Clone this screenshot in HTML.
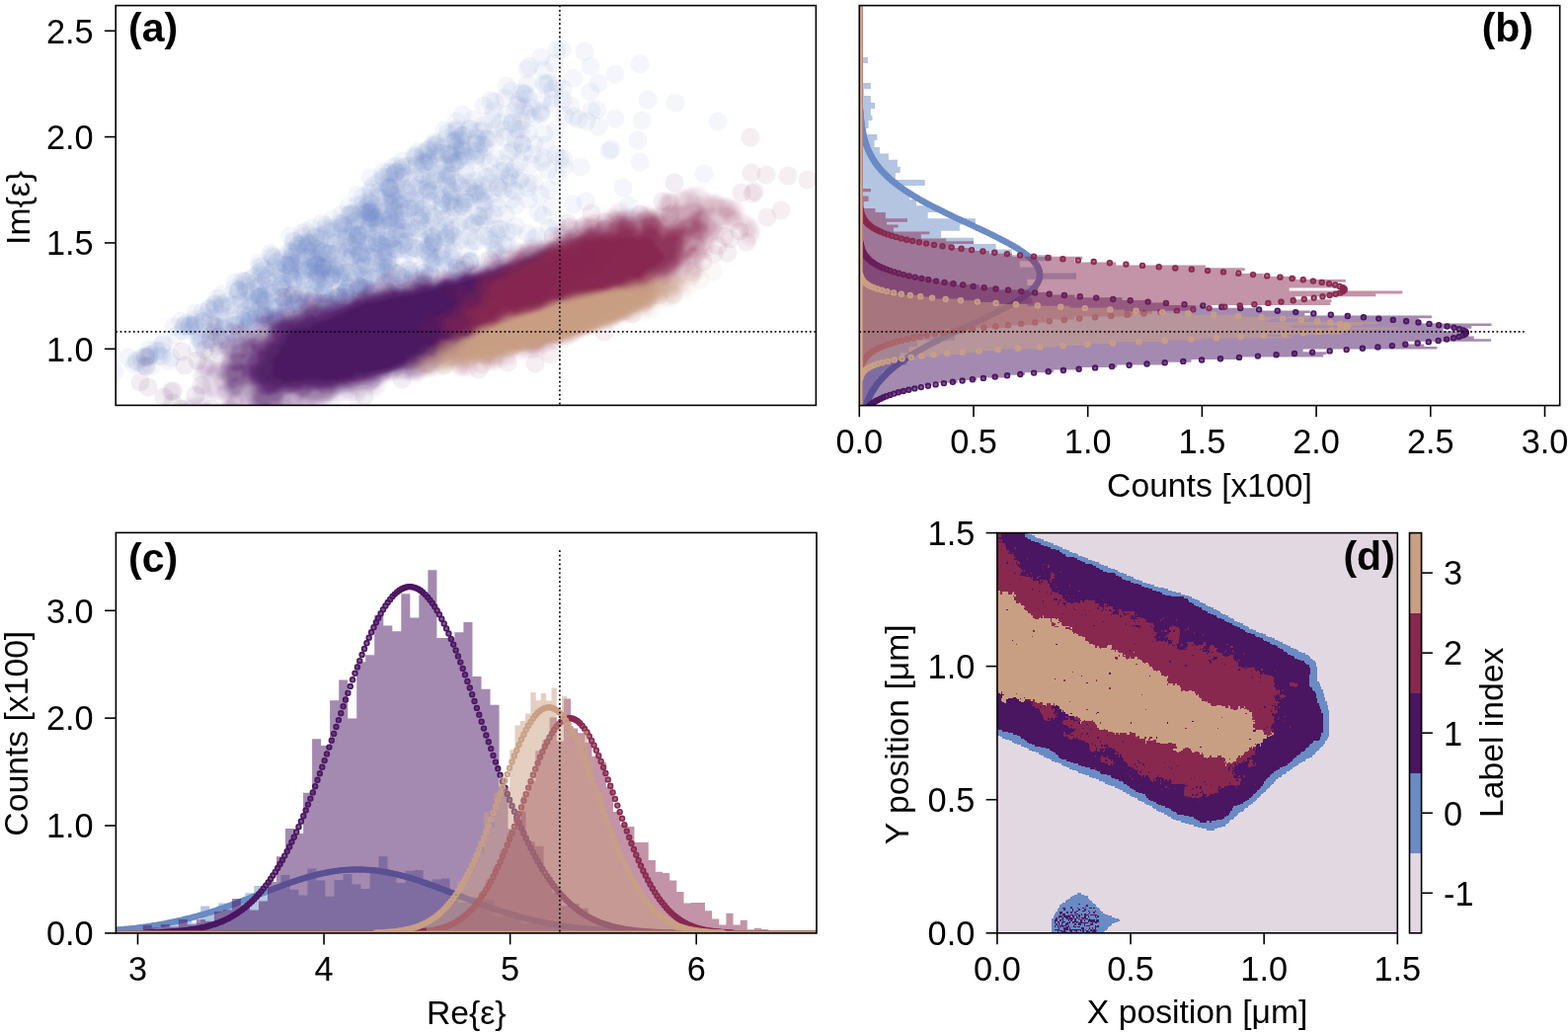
<!DOCTYPE html>
<html><head><meta charset="utf-8"><title>Figure</title>
<style>
html,body{margin:0;padding:0;background:#fff}
svg{display:block}
text{font-family:"Liberation Sans",Arial,Helvetica,sans-serif;fill:#000}
.t{font-size:34.3px}
.l{font-size:33.7px}
.p{font-size:41px;font-weight:bold}
</style></head><body>
<svg width="1588" height="1046" viewBox="0 0 1588 1046">
<rect width="1588" height="1046" fill="#fff"/>
<clipPath id="cpa"><rect x="117.2" y="5.6" width="709.20" height="404.80"/></clipPath>
<filter id="bl" x="-5%" y="-5%" width="110%" height="110%"><feGaussianBlur stdDeviation="1.6"/></filter>
<g clip-path="url(#cpa)">
<g fill="#6a8bc4" fill-opacity="0.075"><circle cx="592" cy="52" r="9.6"/><circle cx="110" cy="380" r="9.6"/><circle cx="422" cy="167" r="9.6"/><circle cx="318" cy="251" r="9.6"/><circle cx="330" cy="231" r="9.6"/><circle cx="355" cy="302" r="9.6"/><circle cx="166" cy="348" r="9.6"/><circle cx="354" cy="227" r="9.6"/><circle cx="287" cy="301" r="9.6"/><circle cx="727" cy="123" r="9.6"/><circle cx="402" cy="223" r="9.6"/><circle cx="341" cy="246" r="9.6"/><circle cx="348" cy="286" r="9.6"/><circle cx="308" cy="295" r="9.6"/><circle cx="267" cy="322" r="9.6"/><circle cx="337" cy="222" r="9.6"/><circle cx="429" cy="178" r="9.6"/><circle cx="353" cy="209" r="9.6"/><circle cx="479" cy="153" r="9.6"/><circle cx="357" cy="238" r="9.6"/><circle cx="381" cy="234" r="9.6"/><circle cx="540" cy="242" r="9.6"/><circle cx="435" cy="257" r="9.6"/><circle cx="325" cy="242" r="9.6"/><circle cx="359" cy="224" r="9.6"/><circle cx="435" cy="249" r="9.6"/><circle cx="581" cy="118" r="9.6"/><circle cx="350" cy="276" r="9.6"/><circle cx="352" cy="292" r="9.6"/><circle cx="483" cy="145" r="9.6"/><circle cx="285" cy="288" r="9.6"/><circle cx="347" cy="226" r="9.6"/><circle cx="471" cy="202" r="9.6"/><circle cx="439" cy="192" r="9.6"/><circle cx="388" cy="265" r="9.6"/><circle cx="448" cy="206" r="9.6"/><circle cx="485" cy="219" r="9.6"/><circle cx="277" cy="262" r="9.6"/><circle cx="203" cy="340" r="9.6"/><circle cx="407" cy="169" r="9.6"/><circle cx="452" cy="247" r="9.6"/><circle cx="331" cy="234" r="9.6"/><circle cx="265" cy="318" r="9.6"/><circle cx="381" cy="261" r="9.6"/><circle cx="372" cy="214" r="9.6"/><circle cx="526" cy="164" r="9.6"/><circle cx="456" cy="198" r="9.6"/><circle cx="398" cy="169" r="9.6"/><circle cx="495" cy="239" r="9.6"/><circle cx="356" cy="235" r="9.6"/><circle cx="281" cy="311" r="9.6"/><circle cx="439" cy="220" r="9.6"/><circle cx="439" cy="241" r="9.6"/><circle cx="355" cy="286" r="9.6"/><circle cx="296" cy="270" r="9.6"/><circle cx="402" cy="202" r="9.6"/><circle cx="116" cy="376" r="9.6"/><circle cx="450" cy="167" r="9.6"/><circle cx="430" cy="276" r="9.6"/><circle cx="206" cy="325" r="9.6"/><circle cx="384" cy="184" r="9.6"/><circle cx="277" cy="260" r="9.6"/><circle cx="458" cy="245" r="9.6"/><circle cx="164" cy="349" r="9.6"/><circle cx="282" cy="294" r="9.6"/><circle cx="453" cy="173" r="9.6"/><circle cx="499" cy="196" r="9.6"/><circle cx="151" cy="354" r="9.6"/><circle cx="326" cy="271" r="9.6"/><circle cx="412" cy="168" r="9.6"/><circle cx="314" cy="270" r="9.6"/><circle cx="545" cy="215" r="9.6"/><circle cx="253" cy="295" r="9.6"/><circle cx="415" cy="273" r="9.6"/><circle cx="268" cy="317" r="9.6"/><circle cx="526" cy="101" r="9.6"/><circle cx="376" cy="215" r="9.6"/><circle cx="339" cy="300" r="9.6"/><circle cx="198" cy="317" r="9.6"/><circle cx="555" cy="84" r="9.6"/><circle cx="457" cy="236" r="9.6"/><circle cx="457" cy="159" r="9.6"/><circle cx="497" cy="102" r="9.6"/><circle cx="415" cy="168" r="9.6"/><circle cx="311" cy="323" r="9.6"/><circle cx="294" cy="239" r="9.6"/><circle cx="294" cy="265" r="9.6"/><circle cx="522" cy="254" r="9.6"/><circle cx="225" cy="298" r="9.6"/><circle cx="315" cy="305" r="9.6"/><circle cx="344" cy="278" r="9.6"/><circle cx="402" cy="183" r="9.6"/><circle cx="438" cy="239" r="9.6"/><circle cx="247" cy="324" r="9.6"/><circle cx="196" cy="330" r="9.6"/><circle cx="378" cy="211" r="9.6"/><circle cx="505" cy="232" r="9.6"/><circle cx="457" cy="156" r="9.6"/><circle cx="401" cy="174" r="9.6"/><circle cx="345" cy="248" r="9.6"/><circle cx="409" cy="215" r="9.6"/><circle cx="352" cy="276" r="9.6"/><circle cx="464" cy="162" r="9.6"/><circle cx="295" cy="262" r="9.6"/><circle cx="392" cy="265" r="9.6"/><circle cx="366" cy="271" r="9.6"/><circle cx="435" cy="237" r="9.6"/><circle cx="402" cy="174" r="9.6"/><circle cx="646" cy="142" r="9.6"/><circle cx="535" cy="99" r="9.6"/><circle cx="535" cy="116" r="9.6"/><circle cx="164" cy="361" r="9.6"/><circle cx="342" cy="302" r="9.6"/><circle cx="314" cy="272" r="9.6"/><circle cx="434" cy="215" r="9.6"/><circle cx="139" cy="367" r="9.6"/><circle cx="501" cy="232" r="9.6"/><circle cx="490" cy="127" r="9.6"/><circle cx="241" cy="301" r="9.6"/><circle cx="275" cy="259" r="9.6"/><circle cx="294" cy="300" r="9.6"/><circle cx="383" cy="220" r="9.6"/><circle cx="445" cy="159" r="9.6"/><circle cx="593" cy="204" r="9.6"/><circle cx="357" cy="274" r="9.6"/><circle cx="459" cy="254" r="9.6"/><circle cx="394" cy="189" r="9.6"/><circle cx="563" cy="131" r="9.6"/><circle cx="456" cy="203" r="9.6"/><circle cx="522" cy="208" r="9.6"/><circle cx="265" cy="288" r="9.6"/><circle cx="358" cy="259" r="9.6"/><circle cx="293" cy="329" r="9.6"/><circle cx="536" cy="67" r="9.6"/><circle cx="447" cy="155" r="9.6"/><circle cx="346" cy="239" r="9.6"/><circle cx="330" cy="228" r="9.6"/><circle cx="429" cy="155" r="9.6"/><circle cx="304" cy="261" r="9.6"/><circle cx="280" cy="272" r="9.6"/><circle cx="429" cy="157" r="9.6"/><circle cx="637" cy="208" r="9.6"/><circle cx="352" cy="263" r="9.6"/><circle cx="320" cy="267" r="9.6"/><circle cx="255" cy="307" r="9.6"/><circle cx="238" cy="292" r="9.6"/><circle cx="433" cy="163" r="9.6"/><circle cx="467" cy="152" r="9.6"/><circle cx="379" cy="187" r="9.6"/><circle cx="413" cy="244" r="9.6"/><circle cx="390" cy="205" r="9.6"/><circle cx="393" cy="223" r="9.6"/><circle cx="218" cy="308" r="9.6"/><circle cx="330" cy="243" r="9.6"/><circle cx="390" cy="270" r="9.6"/><circle cx="296" cy="267" r="9.6"/><circle cx="328" cy="294" r="9.6"/><circle cx="292" cy="255" r="9.6"/><circle cx="343" cy="270" r="9.6"/><circle cx="468" cy="208" r="9.6"/><circle cx="335" cy="277" r="9.6"/><circle cx="362" cy="250" r="9.6"/><circle cx="463" cy="272" r="9.6"/><circle cx="446" cy="260" r="9.6"/><circle cx="556" cy="192" r="9.6"/><circle cx="158" cy="354" r="9.6"/><circle cx="468" cy="208" r="9.6"/><circle cx="327" cy="268" r="9.6"/><circle cx="392" cy="186" r="9.6"/><circle cx="466" cy="225" r="9.6"/><circle cx="492" cy="265" r="9.6"/><circle cx="487" cy="146" r="9.6"/><circle cx="394" cy="220" r="9.6"/><circle cx="547" cy="114" r="9.6"/><circle cx="348" cy="306" r="9.6"/><circle cx="363" cy="290" r="9.6"/><circle cx="462" cy="123" r="9.6"/><circle cx="320" cy="263" r="9.6"/><circle cx="605" cy="111" r="9.6"/><circle cx="485" cy="133" r="9.6"/><circle cx="606" cy="128" r="9.6"/><circle cx="375" cy="281" r="9.6"/><circle cx="338" cy="309" r="9.6"/><circle cx="396" cy="190" r="9.6"/><circle cx="455" cy="177" r="9.6"/><circle cx="316" cy="231" r="9.6"/><circle cx="418" cy="281" r="9.6"/><circle cx="376" cy="298" r="9.6"/><circle cx="548" cy="112" r="9.6"/><circle cx="308" cy="283" r="9.6"/><circle cx="488" cy="219" r="9.6"/><circle cx="310" cy="250" r="9.6"/><circle cx="277" cy="322" r="9.6"/><circle cx="303" cy="267" r="9.6"/><circle cx="253" cy="324" r="9.6"/><circle cx="393" cy="271" r="9.6"/><circle cx="486" cy="227" r="9.6"/><circle cx="395" cy="223" r="9.6"/><circle cx="444" cy="230" r="9.6"/><circle cx="549" cy="164" r="9.6"/><circle cx="406" cy="276" r="9.6"/><circle cx="398" cy="209" r="9.6"/><circle cx="349" cy="229" r="9.6"/><circle cx="209" cy="344" r="9.6"/><circle cx="458" cy="194" r="9.6"/><circle cx="194" cy="335" r="9.6"/><circle cx="447" cy="177" r="9.6"/><circle cx="376" cy="229" r="9.6"/><circle cx="496" cy="243" r="9.6"/><circle cx="371" cy="282" r="9.6"/><circle cx="292" cy="269" r="9.6"/><circle cx="416" cy="203" r="9.6"/><circle cx="319" cy="265" r="9.6"/><circle cx="359" cy="277" r="9.6"/><circle cx="382" cy="237" r="9.6"/><circle cx="364" cy="257" r="9.6"/><circle cx="358" cy="231" r="9.6"/><circle cx="291" cy="300" r="9.6"/><circle cx="358" cy="249" r="9.6"/><circle cx="153" cy="371" r="9.6"/><circle cx="361" cy="242" r="9.6"/><circle cx="252" cy="320" r="9.6"/><circle cx="496" cy="165" r="9.6"/><circle cx="511" cy="166" r="9.6"/><circle cx="173" cy="362" r="9.6"/><circle cx="393" cy="260" r="9.6"/><circle cx="365" cy="244" r="9.6"/><circle cx="268" cy="305" r="9.6"/><circle cx="434" cy="249" r="9.6"/><circle cx="330" cy="283" r="9.6"/><circle cx="192" cy="330" r="9.6"/><circle cx="350" cy="301" r="9.6"/><circle cx="362" cy="253" r="9.6"/><circle cx="389" cy="263" r="9.6"/><circle cx="249" cy="285" r="9.6"/><circle cx="443" cy="176" r="9.6"/><circle cx="455" cy="218" r="9.6"/><circle cx="258" cy="322" r="9.6"/><circle cx="309" cy="252" r="9.6"/><circle cx="370" cy="267" r="9.6"/><circle cx="319" cy="240" r="9.6"/><circle cx="561" cy="64" r="9.6"/><circle cx="400" cy="224" r="9.6"/><circle cx="272" cy="292" r="9.6"/><circle cx="295" cy="274" r="9.6"/><circle cx="372" cy="258" r="9.6"/><circle cx="619" cy="151" r="9.6"/><circle cx="359" cy="215" r="9.6"/><circle cx="391" cy="255" r="9.6"/><circle cx="432" cy="158" r="9.6"/><circle cx="374" cy="259" r="9.6"/><circle cx="617" cy="153" r="9.6"/><circle cx="322" cy="277" r="9.6"/><circle cx="456" cy="276" r="9.6"/><circle cx="395" cy="222" r="9.6"/><circle cx="443" cy="155" r="9.6"/><circle cx="254" cy="311" r="9.6"/><circle cx="564" cy="84" r="9.6"/><circle cx="365" cy="295" r="9.6"/><circle cx="382" cy="275" r="9.6"/><circle cx="280" cy="280" r="9.6"/><circle cx="301" cy="256" r="9.6"/><circle cx="437" cy="266" r="9.6"/><circle cx="482" cy="244" r="9.6"/><circle cx="457" cy="259" r="9.6"/><circle cx="505" cy="190" r="9.6"/><circle cx="453" cy="179" r="9.6"/><circle cx="381" cy="253" r="9.6"/><circle cx="466" cy="243" r="9.6"/><circle cx="440" cy="182" r="9.6"/><circle cx="367" cy="256" r="9.6"/><circle cx="454" cy="189" r="9.6"/><circle cx="513" cy="116" r="9.6"/><circle cx="403" cy="196" r="9.6"/><circle cx="341" cy="277" r="9.6"/><circle cx="453" cy="156" r="9.6"/><circle cx="578" cy="107" r="9.6"/><circle cx="356" cy="299" r="9.6"/><circle cx="368" cy="206" r="9.6"/><circle cx="364" cy="238" r="9.6"/><circle cx="506" cy="185" r="9.6"/><circle cx="185" cy="335" r="9.6"/><circle cx="416" cy="278" r="9.6"/><circle cx="503" cy="256" r="9.6"/><circle cx="293" cy="309" r="9.6"/><circle cx="534" cy="190" r="9.6"/><circle cx="434" cy="161" r="9.6"/><circle cx="320" cy="268" r="9.6"/><circle cx="399" cy="215" r="9.6"/><circle cx="217" cy="308" r="9.6"/><circle cx="319" cy="298" r="9.6"/><circle cx="570" cy="101" r="9.6"/><circle cx="284" cy="290" r="9.6"/><circle cx="572" cy="117" r="9.6"/><circle cx="369" cy="288" r="9.6"/><circle cx="482" cy="145" r="9.6"/><circle cx="383" cy="279" r="9.6"/><circle cx="143" cy="362" r="9.6"/><circle cx="318" cy="275" r="9.6"/><circle cx="398" cy="203" r="9.6"/><circle cx="257" cy="299" r="9.6"/><circle cx="237" cy="309" r="9.6"/><circle cx="416" cy="230" r="9.6"/><circle cx="310" cy="234" r="9.6"/><circle cx="200" cy="335" r="9.6"/><circle cx="306" cy="280" r="9.6"/><circle cx="468" cy="137" r="9.6"/><circle cx="328" cy="269" r="9.6"/><circle cx="476" cy="130" r="9.6"/><circle cx="538" cy="166" r="9.6"/><circle cx="381" cy="228" r="9.6"/><circle cx="259" cy="327" r="9.6"/><circle cx="241" cy="295" r="9.6"/><circle cx="375" cy="214" r="9.6"/><circle cx="471" cy="158" r="9.6"/><circle cx="406" cy="238" r="9.6"/><circle cx="435" cy="258" r="9.6"/><circle cx="331" cy="271" r="9.6"/><circle cx="410" cy="179" r="9.6"/><circle cx="329" cy="297" r="9.6"/><circle cx="344" cy="252" r="9.6"/><circle cx="242" cy="293" r="9.6"/><circle cx="213" cy="340" r="9.6"/><circle cx="327" cy="271" r="9.6"/><circle cx="262" cy="277" r="9.6"/><circle cx="277" cy="328" r="9.6"/><circle cx="448" cy="150" r="9.6"/><circle cx="367" cy="239" r="9.6"/><circle cx="684" cy="104" r="9.6"/><circle cx="475" cy="131" r="9.6"/><circle cx="312" cy="246" r="9.6"/><circle cx="460" cy="207" r="9.6"/><circle cx="415" cy="211" r="9.6"/><circle cx="306" cy="297" r="9.6"/><circle cx="494" cy="141" r="9.6"/><circle cx="297" cy="257" r="9.6"/><circle cx="461" cy="149" r="9.6"/><circle cx="313" cy="299" r="9.6"/><circle cx="534" cy="236" r="9.6"/><circle cx="310" cy="261" r="9.6"/><circle cx="254" cy="324" r="9.6"/><circle cx="541" cy="146" r="9.6"/><circle cx="265" cy="270" r="9.6"/><circle cx="399" cy="213" r="9.6"/><circle cx="530" cy="108" r="9.6"/><circle cx="390" cy="275" r="9.6"/><circle cx="370" cy="211" r="9.6"/><circle cx="389" cy="181" r="9.6"/><circle cx="466" cy="206" r="9.6"/><circle cx="293" cy="320" r="9.6"/><circle cx="442" cy="148" r="9.6"/><circle cx="439" cy="245" r="9.6"/><circle cx="623" cy="75" r="9.6"/><circle cx="343" cy="308" r="9.6"/><circle cx="282" cy="274" r="9.6"/><circle cx="455" cy="237" r="9.6"/><circle cx="336" cy="241" r="9.6"/><circle cx="408" cy="163" r="9.6"/><circle cx="392" cy="200" r="9.6"/><circle cx="501" cy="141" r="9.6"/><circle cx="309" cy="284" r="9.6"/><circle cx="368" cy="275" r="9.6"/><circle cx="110" cy="371" r="9.6"/><circle cx="285" cy="292" r="9.6"/><circle cx="539" cy="156" r="9.6"/><circle cx="306" cy="240" r="9.6"/><circle cx="304" cy="320" r="9.6"/><circle cx="250" cy="343" r="9.6"/><circle cx="439" cy="147" r="9.6"/><circle cx="397" cy="226" r="9.6"/><circle cx="253" cy="283" r="9.6"/><circle cx="448" cy="253" r="9.6"/><circle cx="405" cy="172" r="9.6"/><circle cx="457" cy="192" r="9.6"/><circle cx="311" cy="254" r="9.6"/><circle cx="560" cy="99" r="9.6"/><circle cx="421" cy="210" r="9.6"/><circle cx="366" cy="261" r="9.6"/><circle cx="324" cy="277" r="9.6"/><circle cx="352" cy="292" r="9.6"/><circle cx="468" cy="190" r="9.6"/><circle cx="350" cy="301" r="9.6"/><circle cx="491" cy="204" r="9.6"/><circle cx="439" cy="144" r="9.6"/><circle cx="519" cy="124" r="9.6"/><circle cx="463" cy="271" r="9.6"/><circle cx="371" cy="291" r="9.6"/><circle cx="178" cy="340" r="9.6"/><circle cx="409" cy="192" r="9.6"/><circle cx="461" cy="142" r="9.6"/><circle cx="395" cy="190" r="9.6"/><circle cx="436" cy="193" r="9.6"/><circle cx="328" cy="238" r="9.6"/><circle cx="338" cy="302" r="9.6"/><circle cx="279" cy="325" r="9.6"/><circle cx="521" cy="148" r="9.6"/><circle cx="395" cy="278" r="9.6"/><circle cx="326" cy="256" r="9.6"/><circle cx="238" cy="345" r="9.6"/><circle cx="362" cy="208" r="9.6"/><circle cx="529" cy="146" r="9.6"/><circle cx="427" cy="218" r="9.6"/><circle cx="302" cy="303" r="9.6"/><circle cx="528" cy="123" r="9.6"/><circle cx="528" cy="131" r="9.6"/><circle cx="481" cy="226" r="9.6"/><circle cx="461" cy="165" r="9.6"/><circle cx="499" cy="177" r="9.6"/><circle cx="435" cy="151" r="9.6"/><circle cx="459" cy="144" r="9.6"/><circle cx="296" cy="312" r="9.6"/><circle cx="535" cy="185" r="9.6"/><circle cx="402" cy="233" r="9.6"/><circle cx="591" cy="229" r="9.6"/><circle cx="164" cy="355" r="9.6"/><circle cx="452" cy="240" r="9.6"/><circle cx="481" cy="194" r="9.6"/><circle cx="342" cy="256" r="9.6"/><circle cx="426" cy="224" r="9.6"/><circle cx="457" cy="233" r="9.6"/><circle cx="439" cy="260" r="9.6"/><circle cx="321" cy="268" r="9.6"/><circle cx="363" cy="294" r="9.6"/><circle cx="485" cy="156" r="9.6"/><circle cx="512" cy="217" r="9.6"/><circle cx="388" cy="223" r="9.6"/><circle cx="386" cy="244" r="9.6"/><circle cx="399" cy="177" r="9.6"/><circle cx="487" cy="202" r="9.6"/><circle cx="267" cy="299" r="9.6"/><circle cx="238" cy="329" r="9.6"/><circle cx="391" cy="214" r="9.6"/><circle cx="262" cy="298" r="9.6"/><circle cx="316" cy="245" r="9.6"/><circle cx="387" cy="272" r="9.6"/><circle cx="429" cy="288" r="9.6"/><circle cx="265" cy="279" r="9.6"/><circle cx="462" cy="278" r="9.6"/><circle cx="192" cy="329" r="9.6"/><circle cx="435" cy="183" r="9.6"/><circle cx="212" cy="336" r="9.6"/><circle cx="244" cy="318" r="9.6"/><circle cx="445" cy="167" r="9.6"/><circle cx="335" cy="231" r="9.6"/><circle cx="294" cy="265" r="9.6"/><circle cx="331" cy="311" r="9.6"/><circle cx="427" cy="192" r="9.6"/><circle cx="372" cy="235" r="9.6"/><circle cx="375" cy="180" r="9.6"/><circle cx="489" cy="159" r="9.6"/><circle cx="303" cy="307" r="9.6"/><circle cx="328" cy="254" r="9.6"/><circle cx="323" cy="261" r="9.6"/><circle cx="501" cy="253" r="9.6"/><circle cx="482" cy="162" r="9.6"/><circle cx="513" cy="87" r="9.6"/><circle cx="374" cy="216" r="9.6"/><circle cx="362" cy="197" r="9.6"/><circle cx="468" cy="116" r="9.6"/><circle cx="337" cy="234" r="9.6"/><circle cx="465" cy="275" r="9.6"/><circle cx="454" cy="205" r="9.6"/><circle cx="305" cy="299" r="9.6"/><circle cx="369" cy="214" r="9.6"/><circle cx="365" cy="271" r="9.6"/><circle cx="560" cy="90" r="9.6"/><circle cx="650" cy="122" r="9.6"/><circle cx="368" cy="283" r="9.6"/><circle cx="379" cy="256" r="9.6"/><circle cx="138" cy="365" r="9.6"/><circle cx="400" cy="241" r="9.6"/><circle cx="377" cy="241" r="9.6"/><circle cx="265" cy="318" r="9.6"/><circle cx="460" cy="210" r="9.6"/><circle cx="214" cy="322" r="9.6"/><circle cx="355" cy="216" r="9.6"/><circle cx="393" cy="243" r="9.6"/><circle cx="247" cy="285" r="9.6"/><circle cx="468" cy="149" r="9.6"/><circle cx="489" cy="205" r="9.6"/><circle cx="232" cy="321" r="9.6"/><circle cx="230" cy="345" r="9.6"/><circle cx="441" cy="147" r="9.6"/><circle cx="375" cy="195" r="9.6"/><circle cx="251" cy="331" r="9.6"/><circle cx="347" cy="229" r="9.6"/><circle cx="367" cy="291" r="9.6"/><circle cx="363" cy="272" r="9.6"/><circle cx="465" cy="140" r="9.6"/><circle cx="418" cy="251" r="9.6"/><circle cx="564" cy="50" r="9.6"/><circle cx="522" cy="112" r="9.6"/><circle cx="449" cy="201" r="9.6"/><circle cx="491" cy="213" r="9.6"/><circle cx="517" cy="174" r="9.6"/><circle cx="452" cy="140" r="9.6"/><circle cx="249" cy="296" r="9.6"/><circle cx="468" cy="158" r="9.6"/><circle cx="386" cy="302" r="9.6"/><circle cx="548" cy="58" r="9.6"/><circle cx="388" cy="179" r="9.6"/><circle cx="433" cy="208" r="9.6"/><circle cx="413" cy="234" r="9.6"/><circle cx="555" cy="172" r="9.6"/><circle cx="397" cy="274" r="9.6"/><circle cx="350" cy="297" r="9.6"/><circle cx="410" cy="245" r="9.6"/><circle cx="332" cy="257" r="9.6"/><circle cx="395" cy="242" r="9.6"/><circle cx="377" cy="206" r="9.6"/><circle cx="407" cy="202" r="9.6"/><circle cx="580" cy="207" r="9.6"/><circle cx="335" cy="281" r="9.6"/><circle cx="382" cy="224" r="9.6"/><circle cx="357" cy="217" r="9.6"/><circle cx="449" cy="263" r="9.6"/><circle cx="254" cy="302" r="9.6"/><circle cx="305" cy="275" r="9.6"/><circle cx="374" cy="293" r="9.6"/><circle cx="435" cy="164" r="9.6"/><circle cx="373" cy="214" r="9.6"/><circle cx="325" cy="287" r="9.6"/><circle cx="287" cy="306" r="9.6"/><circle cx="432" cy="230" r="9.6"/><circle cx="529" cy="146" r="9.6"/><circle cx="412" cy="232" r="9.6"/><circle cx="398" cy="285" r="9.6"/><circle cx="425" cy="187" r="9.6"/><circle cx="279" cy="322" r="9.6"/><circle cx="345" cy="300" r="9.6"/><circle cx="350" cy="261" r="9.6"/><circle cx="409" cy="214" r="9.6"/><circle cx="375" cy="205" r="9.6"/><circle cx="250" cy="291" r="9.6"/><circle cx="496" cy="185" r="9.6"/><circle cx="556" cy="231" r="9.6"/><circle cx="350" cy="296" r="9.6"/><circle cx="420" cy="157" r="9.6"/><circle cx="406" cy="280" r="9.6"/><circle cx="460" cy="167" r="9.6"/><circle cx="223" cy="318" r="9.6"/><circle cx="547" cy="197" r="9.6"/><circle cx="329" cy="286" r="9.6"/><circle cx="511" cy="139" r="9.6"/><circle cx="386" cy="248" r="9.6"/><circle cx="337" cy="278" r="9.6"/><circle cx="363" cy="223" r="9.6"/><circle cx="472" cy="173" r="9.6"/><circle cx="287" cy="288" r="9.6"/><circle cx="339" cy="270" r="9.6"/><circle cx="327" cy="299" r="9.6"/><circle cx="198" cy="326" r="9.6"/><circle cx="515" cy="185" r="9.6"/><circle cx="439" cy="266" r="9.6"/><circle cx="376" cy="191" r="9.6"/><circle cx="500" cy="217" r="9.6"/><circle cx="278" cy="270" r="9.6"/><circle cx="370" cy="292" r="9.6"/><circle cx="559" cy="105" r="9.6"/><circle cx="481" cy="196" r="9.6"/><circle cx="144" cy="369" r="9.6"/><circle cx="269" cy="329" r="9.6"/><circle cx="489" cy="145" r="9.6"/><circle cx="328" cy="291" r="9.6"/><circle cx="355" cy="249" r="9.6"/><circle cx="442" cy="261" r="9.6"/><circle cx="285" cy="300" r="9.6"/><circle cx="400" cy="220" r="9.6"/><circle cx="461" cy="264" r="9.6"/><circle cx="427" cy="176" r="9.6"/><circle cx="420" cy="179" r="9.6"/><circle cx="315" cy="264" r="9.6"/><circle cx="432" cy="196" r="9.6"/><circle cx="333" cy="273" r="9.6"/><circle cx="515" cy="155" r="9.6"/><circle cx="648" cy="65" r="9.6"/><circle cx="300" cy="307" r="9.6"/><circle cx="150" cy="362" r="9.6"/><circle cx="333" cy="263" r="9.6"/><circle cx="418" cy="171" r="9.6"/><circle cx="488" cy="132" r="9.6"/><circle cx="491" cy="149" r="9.6"/><circle cx="296" cy="256" r="9.6"/><circle cx="295" cy="280" r="9.6"/><circle cx="511" cy="173" r="9.6"/><circle cx="263" cy="300" r="9.6"/><circle cx="492" cy="140" r="9.6"/><circle cx="354" cy="281" r="9.6"/><circle cx="458" cy="262" r="9.6"/><circle cx="452" cy="220" r="9.6"/><circle cx="460" cy="240" r="9.6"/><circle cx="464" cy="229" r="9.6"/><circle cx="274" cy="256" r="9.6"/><circle cx="409" cy="252" r="9.6"/><circle cx="379" cy="246" r="9.6"/><circle cx="410" cy="282" r="9.6"/><circle cx="507" cy="173" r="9.6"/><circle cx="350" cy="289" r="9.6"/><circle cx="303" cy="252" r="9.6"/><circle cx="302" cy="303" r="9.6"/><circle cx="345" cy="276" r="9.6"/><circle cx="457" cy="202" r="9.6"/><circle cx="292" cy="277" r="9.6"/><circle cx="500" cy="247" r="9.6"/><circle cx="408" cy="232" r="9.6"/><circle cx="354" cy="246" r="9.6"/><circle cx="238" cy="330" r="9.6"/><circle cx="404" cy="215" r="9.6"/><circle cx="451" cy="236" r="9.6"/><circle cx="193" cy="330" r="9.6"/><circle cx="503" cy="237" r="9.6"/><circle cx="551" cy="71" r="9.6"/><circle cx="414" cy="196" r="9.6"/><circle cx="430" cy="164" r="9.6"/><circle cx="631" cy="190" r="9.6"/><circle cx="507" cy="124" r="9.6"/><circle cx="284" cy="277" r="9.6"/><circle cx="376" cy="200" r="9.6"/><circle cx="362" cy="293" r="9.6"/><circle cx="362" cy="238" r="9.6"/><circle cx="130" cy="362" r="9.6"/><circle cx="457" cy="209" r="9.6"/><circle cx="311" cy="245" r="9.6"/><circle cx="395" cy="206" r="9.6"/><circle cx="364" cy="226" r="9.6"/><circle cx="469" cy="137" r="9.6"/><circle cx="347" cy="273" r="9.6"/><circle cx="294" cy="273" r="9.6"/><circle cx="434" cy="194" r="9.6"/><circle cx="526" cy="183" r="9.6"/><circle cx="344" cy="285" r="9.6"/><circle cx="522" cy="229" r="9.6"/><circle cx="406" cy="179" r="9.6"/><circle cx="322" cy="269" r="9.6"/><circle cx="538" cy="109" r="9.6"/><circle cx="292" cy="285" r="9.6"/><circle cx="484" cy="193" r="9.6"/><circle cx="326" cy="254" r="9.6"/><circle cx="425" cy="240" r="9.6"/><circle cx="248" cy="319" r="9.6"/><circle cx="290" cy="315" r="9.6"/><circle cx="490" cy="222" r="9.6"/><circle cx="398" cy="249" r="9.6"/><circle cx="382" cy="245" r="9.6"/><circle cx="332" cy="262" r="9.6"/><circle cx="425" cy="290" r="9.6"/><circle cx="231" cy="349" r="9.6"/><circle cx="260" cy="318" r="9.6"/><circle cx="361" cy="242" r="9.6"/><circle cx="290" cy="297" r="9.6"/><circle cx="304" cy="301" r="9.6"/><circle cx="370" cy="293" r="9.6"/><circle cx="364" cy="258" r="9.6"/><circle cx="355" cy="290" r="9.6"/><circle cx="553" cy="147" r="9.6"/><circle cx="484" cy="219" r="9.6"/><circle cx="507" cy="232" r="9.6"/><circle cx="375" cy="220" r="9.6"/><circle cx="325" cy="238" r="9.6"/><circle cx="225" cy="311" r="9.6"/><circle cx="341" cy="268" r="9.6"/><circle cx="159" cy="356" r="9.6"/><circle cx="317" cy="307" r="9.6"/><circle cx="458" cy="271" r="9.6"/><circle cx="548" cy="116" r="9.6"/><circle cx="479" cy="121" r="9.6"/><circle cx="288" cy="292" r="9.6"/><circle cx="430" cy="276" r="9.6"/><circle cx="295" cy="260" r="9.6"/><circle cx="464" cy="162" r="9.6"/><circle cx="366" cy="291" r="9.6"/><circle cx="468" cy="147" r="9.6"/><circle cx="648" cy="164" r="9.6"/><circle cx="475" cy="252" r="9.6"/><circle cx="623" cy="120" r="9.6"/><circle cx="397" cy="241" r="9.6"/><circle cx="343" cy="231" r="9.6"/><circle cx="518" cy="92" r="9.6"/><circle cx="559" cy="209" r="9.6"/><circle cx="320" cy="285" r="9.6"/><circle cx="386" cy="215" r="9.6"/><circle cx="227" cy="332" r="9.6"/><circle cx="357" cy="255" r="9.6"/><circle cx="471" cy="155" r="9.6"/><circle cx="369" cy="269" r="9.6"/><circle cx="318" cy="291" r="9.6"/><circle cx="230" cy="305" r="9.6"/><circle cx="417" cy="209" r="9.6"/><circle cx="462" cy="185" r="9.6"/><circle cx="441" cy="197" r="9.6"/><circle cx="405" cy="208" r="9.6"/><circle cx="244" cy="303" r="9.6"/><circle cx="563" cy="156" r="9.6"/><circle cx="372" cy="209" r="9.6"/><circle cx="363" cy="278" r="9.6"/><circle cx="455" cy="161" r="9.6"/><circle cx="151" cy="359" r="9.6"/><circle cx="371" cy="288" r="9.6"/><circle cx="364" cy="217" r="9.6"/><circle cx="417" cy="189" r="9.6"/><circle cx="519" cy="153" r="9.6"/><circle cx="428" cy="282" r="9.6"/><circle cx="186" cy="330" r="9.6"/><circle cx="342" cy="295" r="9.6"/><circle cx="400" cy="204" r="9.6"/><circle cx="393" cy="235" r="9.6"/><circle cx="243" cy="336" r="9.6"/><circle cx="203" cy="344" r="9.6"/><circle cx="436" cy="279" r="9.6"/><circle cx="414" cy="254" r="9.6"/><circle cx="376" cy="260" r="9.6"/><circle cx="197" cy="329" r="9.6"/><circle cx="564" cy="228" r="9.6"/><circle cx="340" cy="308" r="9.6"/><circle cx="598" cy="93" r="9.6"/><circle cx="361" cy="309" r="9.6"/><circle cx="402" cy="293" r="9.6"/><circle cx="254" cy="328" r="9.6"/><circle cx="521" cy="171" r="9.6"/><circle cx="242" cy="329" r="9.6"/><circle cx="405" cy="243" r="9.6"/><circle cx="392" cy="257" r="9.6"/><circle cx="268" cy="273" r="9.6"/><circle cx="471" cy="205" r="9.6"/><circle cx="229" cy="327" r="9.6"/><circle cx="306" cy="246" r="9.6"/><circle cx="375" cy="222" r="9.6"/><circle cx="335" cy="280" r="9.6"/><circle cx="427" cy="183" r="9.6"/><circle cx="475" cy="264" r="9.6"/><circle cx="347" cy="227" r="9.6"/><circle cx="321" cy="248" r="9.6"/><circle cx="324" cy="256" r="9.6"/><circle cx="340" cy="293" r="9.6"/><circle cx="463" cy="268" r="9.6"/><circle cx="355" cy="217" r="9.6"/><circle cx="421" cy="217" r="9.6"/><circle cx="368" cy="232" r="9.6"/><circle cx="289" cy="305" r="9.6"/><circle cx="469" cy="210" r="9.6"/><circle cx="269" cy="321" r="9.6"/><circle cx="379" cy="250" r="9.6"/><circle cx="534" cy="70" r="9.6"/><circle cx="263" cy="270" r="9.6"/><circle cx="372" cy="222" r="9.6"/><circle cx="212" cy="313" r="9.6"/><circle cx="325" cy="281" r="9.6"/><circle cx="221" cy="341" r="9.6"/><circle cx="340" cy="274" r="9.6"/><circle cx="321" cy="278" r="9.6"/><circle cx="392" cy="245" r="9.6"/><circle cx="544" cy="239" r="9.6"/><circle cx="408" cy="247" r="9.6"/><circle cx="447" cy="208" r="9.6"/><circle cx="373" cy="247" r="9.6"/><circle cx="352" cy="234" r="9.6"/><circle cx="290" cy="268" r="9.6"/><circle cx="189" cy="327" r="9.6"/><circle cx="385" cy="200" r="9.6"/><circle cx="549" cy="102" r="9.6"/><circle cx="428" cy="212" r="9.6"/><circle cx="322" cy="295" r="9.6"/><circle cx="551" cy="84" r="9.6"/><circle cx="333" cy="306" r="9.6"/><circle cx="313" cy="309" r="9.6"/><circle cx="251" cy="321" r="9.6"/><circle cx="277" cy="311" r="9.6"/><circle cx="352" cy="252" r="9.6"/><circle cx="588" cy="169" r="9.6"/><circle cx="356" cy="260" r="9.6"/><circle cx="270" cy="314" r="9.6"/><circle cx="314" cy="255" r="9.6"/><circle cx="355" cy="261" r="9.6"/><circle cx="198" cy="323" r="9.6"/><circle cx="391" cy="293" r="9.6"/><circle cx="452" cy="241" r="9.6"/><circle cx="412" cy="195" r="9.6"/><circle cx="441" cy="153" r="9.6"/><circle cx="243" cy="307" r="9.6"/><circle cx="200" cy="353" r="9.6"/><circle cx="513" cy="247" r="9.6"/><circle cx="493" cy="179" r="9.6"/><circle cx="216" cy="347" r="9.6"/><circle cx="400" cy="187" r="9.6"/><circle cx="381" cy="281" r="9.6"/><circle cx="435" cy="276" r="9.6"/><circle cx="400" cy="175" r="9.6"/><circle cx="325" cy="280" r="9.6"/><circle cx="399" cy="206" r="9.6"/><circle cx="394" cy="179" r="9.6"/><circle cx="373" cy="303" r="9.6"/><circle cx="183" cy="325" r="9.6"/><circle cx="295" cy="254" r="9.6"/><circle cx="206" cy="326" r="9.6"/><circle cx="405" cy="208" r="9.6"/><circle cx="453" cy="135" r="9.6"/><circle cx="406" cy="185" r="9.6"/><circle cx="339" cy="272" r="9.6"/><circle cx="385" cy="209" r="9.6"/><circle cx="501" cy="103" r="9.6"/><circle cx="301" cy="252" r="9.6"/><circle cx="475" cy="201" r="9.6"/><circle cx="452" cy="182" r="9.6"/><circle cx="405" cy="223" r="9.6"/><circle cx="530" cy="154" r="9.6"/><circle cx="303" cy="270" r="9.6"/><circle cx="477" cy="229" r="9.6"/><circle cx="280" cy="265" r="9.6"/><circle cx="297" cy="283" r="9.6"/><circle cx="267" cy="319" r="9.6"/><circle cx="425" cy="274" r="9.6"/><circle cx="279" cy="285" r="9.6"/><circle cx="383" cy="229" r="9.6"/><circle cx="259" cy="286" r="9.6"/><circle cx="490" cy="177" r="9.6"/><circle cx="571" cy="161" r="9.6"/><circle cx="402" cy="168" r="9.6"/><circle cx="551" cy="135" r="9.6"/><circle cx="437" cy="164" r="9.6"/><circle cx="606" cy="84" r="9.6"/><circle cx="388" cy="218" r="9.6"/><circle cx="213" cy="326" r="9.6"/><circle cx="535" cy="135" r="9.6"/><circle cx="365" cy="255" r="9.6"/><circle cx="269" cy="305" r="9.6"/><circle cx="309" cy="273" r="9.6"/><circle cx="207" cy="321" r="9.6"/><circle cx="360" cy="224" r="9.6"/><circle cx="266" cy="285" r="9.6"/><circle cx="534" cy="85" r="9.6"/><circle cx="448" cy="202" r="9.6"/><circle cx="204" cy="347" r="9.6"/><circle cx="220" cy="302" r="9.6"/><circle cx="318" cy="270" r="9.6"/><circle cx="176" cy="331" r="9.6"/><circle cx="366" cy="265" r="9.6"/><circle cx="373" cy="232" r="9.6"/><circle cx="297" cy="283" r="9.6"/><circle cx="321" cy="282" r="9.6"/><circle cx="430" cy="166" r="9.6"/><circle cx="527" cy="180" r="9.6"/><circle cx="535" cy="202" r="9.6"/><circle cx="382" cy="220" r="9.6"/><circle cx="468" cy="150" r="9.6"/><circle cx="300" cy="288" r="9.6"/><circle cx="421" cy="207" r="9.6"/><circle cx="277" cy="313" r="9.6"/><circle cx="455" cy="157" r="9.6"/><circle cx="248" cy="289" r="9.6"/><circle cx="277" cy="328" r="9.6"/><circle cx="377" cy="213" r="9.6"/><circle cx="436" cy="204" r="9.6"/><circle cx="227" cy="324" r="9.6"/><circle cx="322" cy="286" r="9.6"/><circle cx="392" cy="190" r="9.6"/><circle cx="402" cy="252" r="9.6"/><circle cx="290" cy="268" r="9.6"/><circle cx="388" cy="261" r="9.6"/><circle cx="350" cy="243" r="9.6"/><circle cx="525" cy="131" r="9.6"/><circle cx="436" cy="217" r="9.6"/><circle cx="239" cy="346" r="9.6"/><circle cx="147" cy="370" r="9.6"/><circle cx="388" cy="281" r="9.6"/><circle cx="502" cy="160" r="9.6"/><circle cx="396" cy="208" r="9.6"/><circle cx="471" cy="222" r="9.6"/><circle cx="327" cy="256" r="9.6"/><circle cx="235" cy="336" r="9.6"/><circle cx="457" cy="178" r="9.6"/><circle cx="388" cy="174" r="9.6"/><circle cx="450" cy="132" r="9.6"/><circle cx="233" cy="309" r="9.6"/><circle cx="397" cy="248" r="9.6"/><circle cx="312" cy="315" r="9.6"/><circle cx="463" cy="130" r="9.6"/><circle cx="317" cy="302" r="9.6"/><circle cx="314" cy="247" r="9.6"/><circle cx="316" cy="255" r="9.6"/><circle cx="511" cy="99" r="9.6"/><circle cx="381" cy="241" r="9.6"/><circle cx="298" cy="307" r="9.6"/><circle cx="271" cy="300" r="9.6"/><circle cx="268" cy="303" r="9.6"/><circle cx="532" cy="95" r="9.6"/><circle cx="187" cy="330" r="9.6"/><circle cx="289" cy="313" r="9.6"/><circle cx="445" cy="234" r="9.6"/><circle cx="502" cy="130" r="9.6"/><circle cx="362" cy="244" r="9.6"/><circle cx="460" cy="132" r="9.6"/><circle cx="458" cy="195" r="9.6"/><circle cx="482" cy="158" r="9.6"/><circle cx="383" cy="227" r="9.6"/><circle cx="552" cy="86" r="9.6"/><circle cx="401" cy="226" r="9.6"/><circle cx="541" cy="185" r="9.6"/><circle cx="264" cy="313" r="9.6"/><circle cx="479" cy="226" r="9.6"/><circle cx="248" cy="325" r="9.6"/><circle cx="223" cy="331" r="9.6"/><circle cx="433" cy="189" r="9.6"/><circle cx="294" cy="269" r="9.6"/><circle cx="428" cy="256" r="9.6"/><circle cx="269" cy="334" r="9.6"/><circle cx="550" cy="218" r="9.6"/><circle cx="383" cy="199" r="9.6"/><circle cx="263" cy="304" r="9.6"/><circle cx="401" cy="289" r="9.6"/><circle cx="475" cy="239" r="9.6"/><circle cx="302" cy="248" r="9.6"/><circle cx="437" cy="251" r="9.6"/><circle cx="598" cy="67" r="9.6"/><circle cx="474" cy="159" r="9.6"/><circle cx="382" cy="266" r="9.6"/><circle cx="323" cy="274" r="9.6"/><circle cx="444" cy="184" r="9.6"/><circle cx="224" cy="307" r="9.6"/><circle cx="314" cy="261" r="9.6"/><circle cx="270" cy="293" r="9.6"/><circle cx="567" cy="160" r="9.6"/><circle cx="399" cy="231" r="9.6"/><circle cx="281" cy="325" r="9.6"/><circle cx="262" cy="301" r="9.6"/><circle cx="437" cy="240" r="9.6"/><circle cx="297" cy="244" r="9.6"/><circle cx="323" cy="246" r="9.6"/><circle cx="375" cy="226" r="9.6"/><circle cx="394" cy="228" r="9.6"/><circle cx="395" cy="175" r="9.6"/><circle cx="397" cy="282" r="9.6"/><circle cx="522" cy="130" r="9.6"/><circle cx="564" cy="178" r="9.6"/><circle cx="212" cy="312" r="9.6"/><circle cx="656" cy="101" r="9.6"/><circle cx="399" cy="252" r="9.6"/><circle cx="516" cy="178" r="9.6"/><circle cx="308" cy="270" r="9.6"/><circle cx="420" cy="159" r="9.6"/><circle cx="408" cy="263" r="9.6"/><circle cx="398" cy="276" r="9.6"/><circle cx="475" cy="266" r="9.6"/><circle cx="452" cy="176" r="9.6"/><circle cx="280" cy="322" r="9.6"/><circle cx="373" cy="204" r="9.6"/><circle cx="462" cy="142" r="9.6"/><circle cx="458" cy="165" r="9.6"/><circle cx="351" cy="256" r="9.6"/><circle cx="356" cy="309" r="9.6"/><circle cx="370" cy="256" r="9.6"/><circle cx="270" cy="282" r="9.6"/><circle cx="251" cy="329" r="9.6"/><circle cx="551" cy="160" r="9.6"/><circle cx="344" cy="226" r="9.6"/><circle cx="396" cy="198" r="9.6"/><circle cx="307" cy="248" r="9.6"/><circle cx="522" cy="194" r="9.6"/><circle cx="570" cy="90" r="9.6"/><circle cx="363" cy="238" r="9.6"/><circle cx="440" cy="246" r="9.6"/><circle cx="307" cy="278" r="9.6"/><circle cx="571" cy="169" r="9.6"/><circle cx="483" cy="139" r="9.6"/><circle cx="298" cy="245" r="9.6"/><circle cx="517" cy="180" r="9.6"/><circle cx="424" cy="204" r="9.6"/><circle cx="429" cy="232" r="9.6"/><circle cx="423" cy="231" r="9.6"/><circle cx="316" cy="284" r="9.6"/><circle cx="329" cy="307" r="9.6"/><circle cx="451" cy="229" r="9.6"/><circle cx="380" cy="220" r="9.6"/><circle cx="286" cy="261" r="9.6"/><circle cx="599" cy="112" r="9.6"/><circle cx="363" cy="238" r="9.6"/><circle cx="327" cy="273" r="9.6"/><circle cx="312" cy="248" r="9.6"/><circle cx="458" cy="142" r="9.6"/><circle cx="488" cy="188" r="9.6"/><circle cx="411" cy="286" r="9.6"/><circle cx="477" cy="264" r="9.6"/><circle cx="228" cy="334" r="9.6"/><circle cx="346" cy="217" r="9.6"/><circle cx="336" cy="253" r="9.6"/><circle cx="386" cy="268" r="9.6"/><circle cx="436" cy="224" r="9.6"/><circle cx="171" cy="366" r="9.6"/><circle cx="713" cy="176" r="9.6"/><circle cx="294" cy="277" r="9.6"/><circle cx="421" cy="160" r="9.6"/><circle cx="472" cy="177" r="9.6"/><circle cx="474" cy="185" r="9.6"/><circle cx="410" cy="235" r="9.6"/><circle cx="270" cy="282" r="9.6"/><circle cx="464" cy="185" r="9.6"/><circle cx="287" cy="281" r="9.6"/><circle cx="273" cy="319" r="9.6"/><circle cx="136" cy="369" r="9.6"/><circle cx="511" cy="132" r="9.6"/><circle cx="436" cy="180" r="9.6"/><circle cx="289" cy="328" r="9.6"/><circle cx="368" cy="199" r="9.6"/><circle cx="372" cy="248" r="9.6"/><circle cx="265" cy="309" r="9.6"/><circle cx="353" cy="218" r="9.6"/><circle cx="408" cy="281" r="9.6"/><circle cx="439" cy="245" r="9.6"/><circle cx="514" cy="235" r="9.6"/><circle cx="384" cy="247" r="9.6"/><circle cx="332" cy="257" r="9.6"/><circle cx="423" cy="252" r="9.6"/><circle cx="314" cy="238" r="9.6"/><circle cx="249" cy="315" r="9.6"/><circle cx="500" cy="112" r="9.6"/><circle cx="340" cy="258" r="9.6"/><circle cx="393" cy="174" r="9.6"/><circle cx="448" cy="222" r="9.6"/><circle cx="264" cy="275" r="9.6"/><circle cx="447" cy="256" r="9.6"/><circle cx="427" cy="162" r="9.6"/><circle cx="370" cy="279" r="9.6"/><circle cx="421" cy="201" r="9.6"/><circle cx="301" cy="249" r="9.6"/><circle cx="148" cy="362" r="9.6"/><circle cx="350" cy="295" r="9.6"/><circle cx="284" cy="311" r="9.6"/><circle cx="471" cy="137" r="9.6"/><circle cx="408" cy="175" r="9.6"/><circle cx="324" cy="318" r="9.6"/><circle cx="385" cy="275" r="9.6"/><circle cx="522" cy="141" r="9.6"/><circle cx="499" cy="266" r="9.6"/><circle cx="419" cy="277" r="9.6"/><circle cx="425" cy="223" r="9.6"/><circle cx="351" cy="240" r="9.6"/><circle cx="366" cy="214" r="9.6"/><circle cx="442" cy="145" r="9.6"/><circle cx="367" cy="293" r="9.6"/><circle cx="411" cy="224" r="9.6"/><circle cx="263" cy="266" r="9.6"/><circle cx="205" cy="316" r="9.6"/><circle cx="201" cy="342" r="9.6"/><circle cx="334" cy="282" r="9.6"/><circle cx="519" cy="192" r="9.6"/><circle cx="504" cy="210" r="9.6"/><circle cx="275" cy="297" r="9.6"/><circle cx="216" cy="314" r="9.6"/><circle cx="463" cy="133" r="9.6"/><circle cx="428" cy="221" r="9.6"/><circle cx="236" cy="338" r="9.6"/><circle cx="491" cy="239" r="9.6"/><circle cx="398" cy="197" r="9.6"/><circle cx="519" cy="125" r="9.6"/><circle cx="416" cy="235" r="9.6"/><circle cx="473" cy="205" r="9.6"/><circle cx="413" cy="273" r="9.6"/><circle cx="280" cy="266" r="9.6"/><circle cx="355" cy="296" r="9.6"/><circle cx="308" cy="273" r="9.6"/><circle cx="467" cy="189" r="9.6"/><circle cx="275" cy="276" r="9.6"/><circle cx="218" cy="311" r="9.6"/><circle cx="451" cy="270" r="9.6"/><circle cx="500" cy="205" r="9.6"/><circle cx="531" cy="112" r="9.6"/><circle cx="494" cy="219" r="9.6"/><circle cx="221" cy="341" r="9.6"/><circle cx="306" cy="236" r="9.6"/><circle cx="322" cy="269" r="9.6"/><circle cx="377" cy="220" r="9.6"/><circle cx="153" cy="359" r="9.6"/><circle cx="378" cy="222" r="9.6"/><circle cx="408" cy="223" r="9.6"/><circle cx="279" cy="320" r="9.6"/><circle cx="392" cy="250" r="9.6"/><circle cx="504" cy="189" r="9.6"/><circle cx="384" cy="194" r="9.6"/><circle cx="490" cy="195" r="9.6"/><circle cx="486" cy="196" r="9.6"/><circle cx="422" cy="190" r="9.6"/><circle cx="419" cy="259" r="9.6"/><circle cx="340" cy="245" r="9.6"/><circle cx="510" cy="248" r="9.6"/><circle cx="330" cy="307" r="9.6"/><circle cx="306" cy="317" r="9.6"/><circle cx="453" cy="185" r="9.6"/><circle cx="303" cy="312" r="9.6"/><circle cx="424" cy="153" r="9.6"/><circle cx="490" cy="107" r="9.6"/><circle cx="388" cy="288" r="9.6"/><circle cx="390" cy="251" r="9.6"/><circle cx="476" cy="265" r="9.6"/><circle cx="458" cy="165" r="9.6"/><circle cx="218" cy="336" r="9.6"/><circle cx="242" cy="294" r="9.6"/><circle cx="519" cy="235" r="9.6"/><circle cx="420" cy="251" r="9.6"/><circle cx="161" cy="360" r="9.6"/><circle cx="238" cy="324" r="9.6"/><circle cx="382" cy="247" r="9.6"/><circle cx="277" cy="311" r="9.6"/><circle cx="429" cy="245" r="9.6"/><circle cx="388" cy="255" r="9.6"/><circle cx="431" cy="253" r="9.6"/><circle cx="257" cy="280" r="9.6"/><circle cx="445" cy="197" r="9.6"/><circle cx="586" cy="121" r="9.6"/><circle cx="297" cy="286" r="9.6"/><circle cx="518" cy="202" r="9.6"/><circle cx="483" cy="197" r="9.6"/><circle cx="448" cy="213" r="9.6"/><circle cx="373" cy="270" r="9.6"/><circle cx="258" cy="307" r="9.6"/><circle cx="288" cy="308" r="9.6"/><circle cx="461" cy="153" r="9.6"/><circle cx="483" cy="140" r="9.6"/><circle cx="509" cy="192" r="9.6"/><circle cx="481" cy="183" r="9.6"/><circle cx="475" cy="190" r="9.6"/><circle cx="335" cy="257" r="9.6"/><circle cx="254" cy="318" r="9.6"/><circle cx="402" cy="253" r="9.6"/><circle cx="433" cy="152" r="9.6"/><circle cx="390" cy="285" r="9.6"/><circle cx="221" cy="350" r="9.6"/><circle cx="326" cy="272" r="9.6"/><circle cx="225" cy="309" r="9.6"/><circle cx="396" cy="196" r="9.6"/><circle cx="270" cy="295" r="9.6"/><circle cx="363" cy="233" r="9.6"/><circle cx="414" cy="211" r="9.6"/><circle cx="395" cy="265" r="9.6"/><circle cx="524" cy="106" r="9.6"/><circle cx="265" cy="300" r="9.6"/><circle cx="151" cy="361" r="9.6"/><circle cx="480" cy="190" r="9.6"/><circle cx="528" cy="94" r="9.6"/><circle cx="531" cy="95" r="9.6"/><circle cx="411" cy="191" r="9.6"/><circle cx="438" cy="248" r="9.6"/><circle cx="394" cy="191" r="9.6"/><circle cx="245" cy="284" r="9.6"/><circle cx="321" cy="252" r="9.6"/><circle cx="433" cy="191" r="9.6"/><circle cx="320" cy="240" r="9.6"/><circle cx="581" cy="79" r="9.6"/><circle cx="219" cy="331" r="9.6"/><circle cx="336" cy="304" r="9.6"/><circle cx="498" cy="121" r="9.6"/><circle cx="317" cy="262" r="9.6"/><circle cx="262" cy="290" r="9.6"/><circle cx="238" cy="286" r="9.6"/><circle cx="305" cy="311" r="9.6"/><circle cx="540" cy="119" r="9.6"/><circle cx="424" cy="220" r="9.6"/><circle cx="436" cy="278" r="9.6"/><circle cx="327" cy="313" r="9.6"/><circle cx="470" cy="153" r="9.6"/><circle cx="393" cy="267" r="9.6"/><circle cx="285" cy="319" r="9.6"/><circle cx="334" cy="269" r="9.6"/><circle cx="403" cy="206" r="9.6"/><circle cx="504" cy="250" r="9.6"/><circle cx="375" cy="215" r="9.6"/><circle cx="434" cy="171" r="9.6"/><circle cx="594" cy="123" r="9.6"/><circle cx="298" cy="267" r="9.6"/><circle cx="251" cy="304" r="9.6"/><circle cx="485" cy="152" r="9.6"/><circle cx="428" cy="165" r="9.6"/><circle cx="371" cy="217" r="9.6"/><circle cx="409" cy="248" r="9.6"/><circle cx="347" cy="234" r="9.6"/><circle cx="436" cy="262" r="9.6"/><circle cx="346" cy="280" r="9.6"/><circle cx="466" cy="142" r="9.6"/><circle cx="259" cy="331" r="9.6"/><circle cx="296" cy="302" r="9.6"/><circle cx="394" cy="191" r="9.6"/><circle cx="332" cy="304" r="9.6"/><circle cx="455" cy="155" r="9.6"/><circle cx="377" cy="216" r="9.6"/><circle cx="325" cy="298" r="9.6"/><circle cx="404" cy="293" r="9.6"/><circle cx="326" cy="226" r="9.6"/><circle cx="218" cy="331" r="9.6"/><circle cx="263" cy="301" r="9.6"/><circle cx="298" cy="306" r="9.6"/><circle cx="333" cy="308" r="9.6"/><circle cx="392" cy="240" r="9.6"/><circle cx="478" cy="244" r="9.6"/><circle cx="440" cy="267" r="9.6"/><circle cx="569" cy="50" r="9.6"/></g>
<g fill="#4a1561" filter="url(#bl)"><path fill-opacity="0.070" fill-rule="evenodd" d="M295.2 421.9 257.2 422.2 255.8 421.6 252.2 416.7 246.2 414.4 243.7 415.6 243.7 421.6 242.2 422.0 193.2 422.3 183.5 421.6 179.9 415.6 179.9 411.6 181.2 408.6 186.2 404.6 196.8 402.6 195.9 394.6 200.4 387.6 196.2 381.6 195.9 376.6 198.6 367.6 203.2 361.6 202.8 356.6 203.6 353.6 206.2 350.3 210.2 348.3 214.2 348.1 219.2 350.9 220.2 350.5 220.2 347.2 214.2 346.3 211.2 344.0 209.2 340.6 208.9 335.6 211.8 330.6 216.2 328.3 220.2 328.3 223.2 329.6 227.2 333.3 232.2 328.6 237.2 326.9 247.2 326.1 254.2 328.9 260.2 315.6 263.2 312.6 269.2 311.2 279.2 314.5 284.2 309.3 287.2 307.6 292.2 307.2 297.2 308.8 299.2 300.6 304.2 296.6 318.2 295.2 333.2 298.2 338.2 294.6 342.2 293.2 350.2 294.9 360.2 294.4 364.2 292.8 371.2 287.1 379.9 284.6 385.2 278.9 390.2 276.4 394.2 276.2 397.2 277.0 402.2 281.9 404.2 282.5 408.2 281.3 414.2 276.0 424.2 274.6 432.2 271.3 437.2 271.6 442.2 274.1 449.2 271.8 458.2 274.4 467.1 272.6 475.2 266.6 486.2 265.8 491.2 263.6 496.6 262.6 500.7 255.6 506.2 252.0 513.2 251.3 519.2 254.7 532.2 245.6 537.2 245.1 544.2 246.0 551.2 242.3 560.2 242.7 563.2 233.6 566.2 230.6 569.2 229.3 573.2 229.3 578.2 231.1 584.2 231.2 591.2 233.3 599.2 229.6 604.2 229.2 608.2 230.8 613.0 235.6 614.2 235.6 616.9 226.6 621.2 219.3 626.2 214.5 632.2 212.0 641.2 211.3 647.2 214.7 653.2 212.3 657.2 212.3 660.2 213.6 663.2 216.6 668.5 227.6 668.5 231.6 667.2 234.6 662.2 238.6 656.2 238.6 651.9 235.6 648.2 228.3 647.2 227.5 645.2 228.2 641.1 239.6 640.9 248.6 639.8 253.6 636.2 257.6 628.2 260.0 622.8 267.6 621.8 270.6 622.5 280.6 619.6 285.6 616.2 287.6 613.2 288.1 609.2 287.2 605.2 284.6 594.3 286.6 591.2 294.6 588.2 297.6 580.2 300.0 572.2 299.6 566.2 313.0 562.2 315.6 555.2 317.0 549.5 325.6 547.2 327.6 543.2 329.0 536.2 328.2 529.3 334.6 519.2 340.6 508.2 340.4 498.4 348.6 496.2 353.6 493.2 356.6 489.2 358.0 484.2 357.8 479.2 361.2 473.9 362.6 469.6 367.6 466.2 369.6 462.2 370.0 455.2 368.2 452.2 368.7 445.8 372.6 440.2 379.1 431.6 381.6 425.2 386.6 420.2 387.0 414.2 385.2 402.2 384.0 396.2 385.5 390.2 389.3 388.8 395.6 385.2 399.6 380.2 401.1 371.2 399.4 367.2 406.0 363.2 408.6 357.2 408.6 350.2 404.5 343.2 408.9 334.2 408.6 331.2 414.0 327.2 416.6 323.2 417.0 316.2 415.4 306.2 416.3 295.2 421.9ZM222.3 364.6 224.5 361.6 222.2 359.2 219.7 363.6 220.2 364.7 222.3 364.6ZM175.2 405.9 171.2 405.9 168.2 404.6 165.2 401.6 163.9 398.6 163.9 394.6 165.2 391.6 168.2 388.6 171.2 387.3 175.2 387.3 178.2 388.6 181.2 391.6 182.5 394.6 182.5 398.6 181.2 401.6 178.2 404.6 175.2 405.9ZM217.5 413.6 219.8 410.6 225.2 406.4 224.2 405.7 218.2 405.9 213.2 404.1 211.2 404.6 215.2 413.2 216.2 414.3 217.5 413.6Z"/><path fill-opacity="0.075" fill-rule="evenodd" d="M293.2 421.6 259.2 422.1 257.4 421.6 251.2 414.2 246.2 413.4 243.2 414.8 240.3 421.6 225.2 422.0 223.8 421.6 222.2 413.6 222.8 410.6 226.7 405.6 220.2 402.0 216.2 403.2 210.0 402.6 205.6 398.6 204.5 395.6 204.8 389.6 203.9 387.6 205.9 385.6 204.2 382.1 198.6 376.6 198.0 374.6 198.7 371.6 204.6 362.6 206.2 361.4 213.2 361.9 219.2 366.3 222.2 365.8 225.0 363.6 225.5 360.6 220.8 354.6 222.7 345.6 224.3 343.6 232.2 339.7 232.7 333.6 236.6 328.6 245.2 327.4 249.2 329.5 252.2 333.3 256.2 332.7 257.3 331.6 258.6 322.6 260.2 319.7 266.0 317.6 271.2 314.1 280.2 315.2 290.2 309.2 293.2 309.0 299.2 310.7 301.6 301.6 304.2 298.8 307.2 297.4 313.2 297.1 318.2 299.3 322.2 297.9 328.2 298.2 339.2 301.6 342.2 301.7 348.2 296.4 356.2 296.4 363.2 294.7 371.2 288.1 380.2 285.5 386.3 279.6 389.2 278.2 392.2 278.0 395.2 279.0 399.7 283.6 402.2 284.1 404.2 285.9 413.2 278.6 429.2 273.9 433.2 274.5 439.2 278.3 441.2 276.1 449.2 273.0 453.2 273.4 458.2 275.3 462.2 275.1 469.3 272.6 479.2 267.3 491.2 266.9 500.2 261.8 503.0 255.6 506.2 253.4 511.2 253.5 517.2 258.5 524.2 253.7 526.4 250.6 529.2 248.7 538.2 246.5 544.2 247.3 553.2 244.4 561.2 243.7 564.2 238.0 572.2 235.6 576.9 232.6 585.2 233.0 592.2 234.8 600.2 231.3 604.2 230.9 608.2 232.2 612.2 236.8 614.2 237.0 615.9 235.6 617.2 229.3 620.2 222.9 626.2 216.1 636.2 212.6 639.2 213.7 641.8 216.6 643.9 226.6 642.0 233.6 639.7 237.6 638.8 242.6 639.7 246.6 639.2 249.2 635.2 253.4 627.6 258.6 625.2 262.8 622.0 265.6 620.4 269.6 620.5 274.6 619.2 276.8 615.2 279.4 609.2 280.4 606.2 283.0 594.2 284.8 591.2 290.3 587.8 292.6 583.2 298.0 580.2 298.6 575.2 297.2 571.4 298.6 566.2 309.4 558.2 312.6 555.2 315.0 552.2 315.5 551.7 318.6 550.2 320.9 543.2 322.6 535.0 327.6 523.2 337.2 519.2 338.6 508.2 339.3 503.2 343.5 499.2 345.1 496.2 348.8 486.2 353.6 484.2 355.9 481.2 356.6 476.2 360.6 465.2 366.3 458.2 367.4 454.2 366.4 445.2 371.8 440.2 377.3 433.2 378.8 422.2 384.7 418.2 385.1 405.2 382.6 392.0 385.6 377.2 398.2 371.2 397.6 366.2 401.7 355.2 404.3 348.2 403.0 344.2 401.1 338.2 406.3 328.0 410.6 322.3 414.6 304.2 415.4 293.2 421.6ZM648.2 224.6 646.2 225.0 645.3 222.6 645.7 218.6 647.2 217.0 648.5 217.6 649.1 219.6 648.2 224.6ZM659.2 230.7 653.2 231.3 651.2 230.5 650.0 228.6 649.7 226.6 651.3 223.6 656.2 220.1 662.2 220.1 664.4 222.6 663.8 226.6 659.2 230.7ZM208.2 421.7 199.2 421.8 196.2 421.0 190.5 421.6 187.3 418.6 185.7 415.6 185.3 411.6 186.6 407.6 188.4 405.6 191.2 404.7 196.2 405.8 201.2 403.0 208.2 403.5 208.6 405.6 204.1 407.6 211.2 409.6 213.2 411.9 213.8 414.6 212.1 418.6 208.2 421.7Z"/><path fill-opacity="0.099" fill-rule="evenodd" d="M278.2 421.7 259.0 421.6 250.2 411.3 243.2 413.5 238.0 421.6 225.7 421.6 224.2 412.6 227.9 406.6 227.4 403.6 224.2 402.7 219.8 398.6 219.2 392.5 216.9 388.6 216.2 383.0 206.2 381.2 201.3 374.6 201.1 371.6 202.9 369.6 211.2 369.8 213.1 368.6 213.2 367.3 207.2 365.5 206.3 364.6 207.2 363.3 211.6 363.6 214.6 366.6 219.2 368.2 221.2 367.9 225.5 364.6 226.8 360.6 222.8 354.6 223.2 349.2 226.5 344.6 233.2 341.5 235.6 333.6 239.2 329.4 241.2 328.7 244.2 329.4 252.2 335.0 257.2 334.1 260.7 331.6 260.2 324.0 263.3 320.6 269.2 318.3 280.2 316.5 286.2 313.9 301.2 312.6 304.2 305.7 310.4 298.6 312.7 298.6 317.2 301.1 322.2 299.1 325.2 299.0 332.2 301.4 342.2 303.3 344.2 302.6 349.2 298.1 355.2 298.1 363.8 295.6 370.4 289.6 380.2 286.8 386.2 283.3 397.2 285.0 404.2 287.3 407.2 285.9 410.2 282.4 416.2 280.9 421.2 278.0 428.2 275.7 439.2 280.3 442.2 278.0 450.1 274.6 461.2 276.7 479.2 268.8 492.2 268.2 501.2 262.9 503.2 260.4 506.4 258.6 511.2 258.4 516.2 260.8 518.2 260.7 523.5 257.6 528.2 251.5 530.2 250.2 537.2 248.2 543.2 248.8 556.2 245.2 563.2 244.9 569.0 238.6 577.2 235.1 580.2 235.2 584.2 237.0 588.2 235.6 592.2 236.4 598.2 233.3 603.2 232.7 607.2 234.1 612.2 238.6 615.2 238.5 618.4 236.6 619.2 233.6 622.3 232.6 620.4 227.6 621.2 225.3 625.0 220.6 628.6 219.6 632.2 216.1 636.2 217.9 641.2 222.6 641.2 228.7 636.2 232.4 635.9 234.6 636.9 236.6 634.8 238.6 636.5 242.6 636.0 249.6 634.2 251.8 624.2 258.2 618.1 269.6 618.7 272.6 617.2 275.6 614.4 277.6 608.2 279.3 605.2 281.8 596.2 282.3 593.2 283.6 586.2 291.8 579.2 295.1 573.2 296.4 569.9 298.6 566.2 306.1 561.2 309.9 551.2 314.6 546.6 319.6 540.3 322.6 526.4 331.6 523.2 335.6 508.2 338.2 503.2 342.1 498.2 344.2 495.2 347.9 480.2 355.5 475.2 360.0 461.2 365.4 454.2 364.4 437.1 375.6 424.2 382.0 415.2 383.2 406.2 380.7 398.2 382.6 389.2 385.6 381.2 393.4 377.2 395.8 370.2 395.8 368.2 397.6 364.2 396.3 359.2 400.8 353.2 399.1 344.2 399.5 335.9 405.6 325.2 409.8 322.2 409.8 318.2 412.7 300.2 414.1 297.2 417.2 293.2 419.6 280.2 420.4 278.2 421.7ZM222.7 387.6 223.1 386.6 221.0 386.6 222.7 387.6ZM213.2 400.8 212.0 400.6 210.8 397.6 212.2 392.3 213.5 392.6 214.6 395.6 214.4 398.6 213.2 400.8ZM201.2 419.7 199.2 419.9 195.7 416.6 194.8 411.6 196.2 408.7 199.2 412.2 203.2 410.5 204.5 411.6 204.1 415.6 201.2 419.7Z"/><path fill-opacity="0.123" fill-rule="evenodd" d="M275.2 421.7 260.8 421.6 257.7 418.6 248.2 405.1 246.6 409.6 245.2 410.7 242.9 408.6 242.2 404.6 239.2 403.1 236.3 404.6 240.7 408.6 241.9 411.6 241.5 413.6 239.2 415.9 232.2 417.2 230.2 415.5 229.0 409.6 230.7 402.6 230.2 400.6 225.2 394.8 222.2 395.7 221.2 393.6 221.6 391.6 225.2 388.2 225.2 386.0 220.2 383.4 218.2 377.2 217.2 377.0 213.2 380.2 210.5 379.6 208.7 377.6 209.4 373.6 214.2 370.0 216.2 370.1 221.2 373.0 222.2 371.9 223.1 368.6 227.9 362.6 227.5 352.6 231.2 347.4 231.3 344.6 235.2 342.7 240.2 342.8 244.2 337.5 247.2 338.0 250.2 336.3 257.2 335.9 262.9 332.6 264.0 330.6 262.9 324.6 265.7 320.6 276.2 318.7 279.2 319.2 285.2 316.8 301.2 314.7 302.6 313.6 303.4 310.6 307.6 307.6 310.2 303.6 318.2 302.6 323.2 300.2 332.2 303.2 344.2 304.2 354.2 301.5 357.7 298.6 364.2 296.5 375.2 289.2 381.2 288.6 384.2 289.4 393.2 286.3 404.2 288.3 407.2 287.2 410.2 284.3 415.2 284.3 421.2 279.9 425.2 278.9 432.2 279.3 439.2 281.7 454.2 276.6 461.2 277.9 478.2 270.6 488.2 270.3 496.2 268.7 499.2 265.5 507.2 261.4 518.2 261.8 524.2 258.7 527.2 255.0 530.2 254.1 534.2 251.1 543.2 250.2 557.2 246.1 565.2 247.0 570.3 242.6 571.7 239.6 573.2 238.7 578.2 238.2 581.2 238.9 592.2 237.7 597.2 234.9 600.2 234.5 603.0 235.6 605.2 237.7 612.2 240.5 615.2 240.7 618.2 238.6 622.2 237.7 624.6 235.6 625.4 233.6 625.0 225.6 630.2 221.1 633.2 221.0 638.2 225.0 638.9 227.6 634.9 231.6 633.4 236.6 631.8 238.6 632.8 241.6 629.1 251.6 622.8 257.6 619.2 264.9 612.0 271.6 608.5 277.6 605.2 278.9 602.2 278.1 595.2 280.5 587.4 286.6 585.2 290.6 573.2 295.5 566.4 299.6 562.7 306.6 551.1 313.6 543.6 319.6 535.2 324.4 530.2 326.0 521.2 333.8 508.2 337.0 504.2 340.2 497.6 343.6 493.3 347.6 480.2 354.2 473.9 359.6 470.2 361.1 464.2 361.7 460.2 363.8 453.2 363.4 450.2 365.8 447.1 366.6 442.2 370.9 435.2 372.1 431.4 376.6 421.6 380.6 415.2 381.3 408.2 378.0 402.2 380.9 397.2 380.4 394.6 382.6 388.2 385.2 381.2 392.3 378.2 394.0 368.2 393.6 363.9 394.6 358.2 397.8 351.2 396.8 343.2 398.4 333.2 405.7 319.2 408.3 316.2 410.1 309.2 408.6 302.2 412.2 298.2 409.7 297.7 412.6 295.2 415.7 292.2 416.4 290.2 415.6 282.2 418.6 278.2 417.2 276.1 421.6 275.2 421.7Z"/><path fill-opacity="0.154" fill-rule="evenodd" d="M632.2 229.0 629.4 228.6 628.6 227.6 633.2 226.3 632.2 229.0ZM273.2 421.0 262.2 420.1 260.2 419.2 256.8 412.6 253.5 410.6 249.9 400.6 247.2 398.3 245.2 398.5 242.2 401.3 235.2 402.3 233.6 401.6 231.2 397.5 227.2 394.1 226.8 385.6 222.3 382.6 221.3 380.6 224.4 370.6 229.2 364.6 229.6 359.6 232.8 352.6 236.7 347.6 247.2 341.7 251.2 337.8 256.2 338.6 261.2 335.7 268.2 335.6 269.4 332.6 267.2 329.6 266.5 324.6 267.2 322.6 278.2 321.8 287.2 319.7 291.2 317.6 302.8 315.6 306.7 310.6 318.2 304.2 327.2 306.3 331.2 305.3 336.2 306.0 346.2 305.3 353.2 303.8 359.2 299.2 378.2 292.1 384.2 292.4 389.2 289.1 393.2 288.1 405.5 289.6 410.2 287.0 416.2 285.5 425.2 280.6 432.2 280.5 439.2 283.1 443.2 281.2 454.2 278.4 461.2 278.9 476.2 273.0 497.2 270.0 500.6 266.6 508.2 262.9 518.2 262.8 534.2 254.1 540.2 254.1 546.6 250.6 555.2 247.9 560.2 247.4 563.2 249.1 566.2 249.0 577.2 241.7 585.2 239.5 592.2 238.8 598.2 236.8 605.2 240.7 610.2 241.4 616.2 244.7 619.2 243.6 619.6 241.6 621.2 240.2 623.2 239.9 626.2 241.1 625.0 238.6 626.2 237.5 628.2 238.2 629.8 240.6 629.2 242.1 627.2 242.6 627.1 249.6 624.6 254.6 618.8 260.6 617.5 264.6 610.2 267.6 609.2 272.9 607.2 276.1 595.2 278.8 587.2 284.5 582.3 289.6 570.2 296.7 564.7 298.6 560.6 305.6 555.4 310.6 541.2 319.5 533.2 321.9 520.2 332.1 514.2 333.7 509.2 333.4 504.2 338.7 491.9 346.6 487.2 347.9 471.6 359.6 452.2 362.6 446.2 365.7 441.2 369.9 431.2 371.3 429.2 375.1 427.2 376.0 424.2 375.6 420.2 378.2 416.2 378.9 407.2 376.6 402.2 378.8 398.2 378.5 393.2 381.9 388.2 383.7 379.2 392.1 371.2 392.6 367.2 391.8 355.2 395.9 351.2 395.2 343.2 397.0 332.2 404.4 316.2 407.4 309.2 405.8 301.2 407.2 298.7 404.6 298.1 400.6 295.2 400.2 294.2 401.6 295.3 408.6 294.2 411.2 289.2 408.6 288.2 409.0 282.2 415.9 278.2 415.2 275.8 416.6 273.2 421.0Z"/><path fill-opacity="0.200" fill-rule="evenodd" d="M269.2 417.0 266.2 417.2 262.7 413.6 260.2 413.2 255.3 408.6 252.9 391.6 251.2 391.2 246.2 393.0 242.2 399.3 236.0 400.6 234.6 399.6 232.5 395.6 228.5 392.6 228.2 384.6 225.1 381.6 224.5 379.6 226.1 371.6 231.8 366.6 231.3 359.6 237.5 349.6 243.8 347.6 245.7 344.6 249.2 342.0 254.2 341.8 262.2 339.0 268.2 340.8 271.6 333.6 272.2 329.8 276.2 325.6 286.2 321.2 304.2 316.6 307.2 312.6 318.2 306.4 326.2 309.4 341.2 306.5 353.2 305.5 358.2 301.3 367.2 297.4 380.2 294.1 385.2 293.7 390.2 290.7 399.2 289.8 406.2 291.2 426.2 282.4 431.2 281.8 439.2 285.0 449.2 280.8 462.2 279.6 474.2 275.0 481.2 274.5 493.2 271.4 498.2 271.2 505.2 265.9 511.2 265.8 519.2 263.7 536.2 256.0 540.2 255.6 547.2 251.9 551.2 251.3 554.2 249.6 564.2 250.9 568.2 250.1 574.2 247.7 577.2 244.1 582.2 243.2 588.2 240.5 595.2 239.7 601.2 240.4 606.2 243.8 610.2 244.3 612.2 246.9 614.2 246.7 621.2 248.7 624.2 247.7 624.4 249.6 622.7 253.6 616.2 257.2 614.6 259.6 614.6 262.6 609.2 266.4 607.7 272.6 606.2 274.7 594.2 278.1 587.2 282.2 579.2 289.6 570.6 295.6 563.2 297.8 556.0 308.6 553.7 310.6 542.2 316.9 538.2 317.1 536.2 318.8 532.7 319.6 523.2 329.0 515.2 331.6 509.2 331.6 499.2 340.6 495.2 342.7 487.2 344.8 479.8 351.6 472.9 355.6 470.2 358.5 464.2 358.7 451.2 361.6 446.2 363.9 440.2 368.4 434.2 368.3 420.2 375.3 416.2 376.2 408.2 375.3 398.2 377.3 392.2 380.9 388.2 381.8 384.2 385.4 378.7 387.6 375.2 390.2 366.2 390.2 356.2 393.6 344.2 395.1 334.2 400.7 327.2 402.7 321.2 403.9 309.2 402.7 305.2 404.6 298.2 398.9 290.2 400.3 289.2 400.6 285.8 406.6 285.3 409.6 282.2 412.8 280.2 413.7 277.2 413.2 269.2 417.0Z"/><path fill-opacity="0.261" fill-rule="evenodd" d="M271.2 413.0 267.2 413.0 260.5 409.6 257.6 404.6 257.7 399.6 258.8 397.6 257.0 394.6 257.5 391.6 252.2 388.1 247.2 387.4 244.2 390.7 240.2 389.9 237.2 393.8 233.1 392.6 230.1 387.6 230.7 382.6 228.9 378.6 229.5 372.6 230.3 370.6 235.4 366.6 233.2 360.6 234.2 358.4 237.2 357.0 243.2 356.6 245.1 350.6 249.2 346.1 254.3 343.6 257.2 342.9 263.2 344.4 268.9 342.6 271.6 339.6 273.9 331.6 276.2 328.7 280.2 326.1 284.2 324.9 287.2 322.4 294.2 321.6 304.2 318.2 312.2 311.7 317.2 309.6 320.2 309.4 325.2 311.6 335.2 310.5 342.2 307.9 353.7 306.6 358.2 302.7 367.2 298.8 385.2 295.4 390.2 293.1 393.2 293.2 399.2 291.4 405.2 292.7 408.2 292.5 415.2 290.0 421.2 285.7 426.2 284.4 440.2 286.6 450.2 281.8 462.2 281.1 472.2 276.4 483.2 276.0 493.2 272.6 499.2 272.2 505.2 267.8 512.2 267.6 538.2 257.4 545.2 256.2 548.8 253.6 556.2 252.1 564.2 252.5 573.2 250.6 578.2 246.2 583.2 245.3 586.2 243.3 591.2 241.9 594.2 241.5 602.2 244.0 615.1 251.6 615.2 254.6 612.6 258.6 612.2 261.2 608.2 265.9 604.9 273.6 586.5 279.6 570.2 294.4 562.2 296.6 553.2 309.7 542.2 315.3 536.3 315.6 531.2 318.3 523.2 327.6 508.5 330.6 496.7 340.6 487.2 343.1 482.2 345.6 478.2 350.1 471.3 353.6 469.0 356.6 460.2 357.9 455.2 359.8 450.2 360.2 440.2 365.6 434.2 366.0 425.2 371.2 415.2 374.2 408.2 373.9 397.4 376.6 385.2 381.5 380.2 385.0 363.2 388.7 355.7 391.6 343.2 393.1 334.2 397.9 330.2 397.0 326.2 399.1 321.2 395.7 316.2 396.8 312.2 400.0 306.2 401.2 302.2 398.7 298.2 397.7 289.2 398.1 286.4 399.6 285.6 402.6 281.2 407.1 276.2 407.2 271.2 413.0Z"/><path fill-opacity="0.338" fill-rule="evenodd" d="M273.2 400.9 271.2 401.1 263.0 398.6 261.7 396.6 261.0 391.6 254.2 386.5 250.2 380.3 249.2 379.7 247.8 381.6 245.2 382.8 245.3 376.6 243.2 375.5 236.2 375.5 234.2 373.8 233.7 371.6 238.2 369.4 244.2 368.1 248.2 369.8 249.2 369.1 250.7 367.6 250.8 363.6 254.2 360.6 252.6 358.6 254.2 357.6 255.2 358.5 255.9 357.6 253.8 348.6 255.2 347.8 261.2 348.4 267.2 346.9 274.0 340.6 275.7 332.6 277.2 330.4 288.2 324.5 307.2 319.7 312.2 315.1 316.2 315.3 319.2 313.3 330.2 314.1 337.2 312.6 342.2 310.0 354.2 307.8 360.2 303.0 398.2 293.2 406.2 294.5 417.2 291.6 423.2 288.0 433.2 287.2 441.2 288.0 450.2 283.1 461.2 283.1 472.2 277.6 483.2 277.6 493.2 274.0 499.2 273.4 506.7 269.6 522.2 266.1 534.2 260.5 541.2 258.4 545.2 258.2 549.2 255.9 555.2 254.2 563.2 254.9 569.2 253.8 573.2 255.0 580.2 248.6 584.2 248.7 590.2 244.5 595.2 244.0 603.7 247.6 605.7 249.6 608.9 255.6 609.1 261.6 604.2 271.6 593.2 276.1 586.2 277.0 571.4 291.6 561.4 295.6 553.2 307.7 541.4 313.6 536.2 314.1 530.9 316.6 522.2 325.9 514.2 327.0 508.2 329.3 496.2 339.2 482.2 343.9 476.2 348.6 470.2 351.4 464.2 355.6 448.2 358.8 441.2 362.5 436.2 363.0 424.2 369.6 416.2 371.8 408.2 372.4 385.2 379.7 379.2 382.7 364.2 386.8 355.2 388.0 352.2 389.8 344.2 390.3 336.2 394.5 329.2 393.9 325.2 395.2 317.2 393.4 312.2 396.0 308.2 395.2 293.2 396.8 289.2 395.5 273.2 400.9ZM245.2 362.0 243.2 362.3 242.8 361.6 244.2 359.6 251.1 358.6 250.8 359.6 245.2 362.0ZM237.2 385.8 234.8 385.6 238.2 382.4 240.7 382.6 240.6 384.6 237.2 385.8Z"/><path fill-opacity="0.444" fill-rule="evenodd" d="M274.2 396.9 272.2 397.2 266.6 394.6 266.4 392.6 263.7 389.6 255.9 383.6 253.7 379.6 252.4 373.6 255.2 369.6 259.2 368.0 260.3 366.6 260.8 358.6 262.4 354.6 267.2 353.4 269.2 349.4 277.1 344.6 277.9 343.6 276.8 340.6 277.2 337.6 280.3 335.6 282.8 330.6 285.8 328.6 294.2 325.5 299.2 325.9 308.2 323.2 314.2 318.9 320.2 320.5 324.2 317.4 334.2 315.8 355.2 309.0 361.2 304.4 367.2 303.8 371.2 301.8 377.2 301.5 399.2 295.3 406.2 296.2 411.2 294.6 418.2 294.0 424.4 290.6 432.2 289.2 440.2 289.9 450.2 284.5 461.2 285.1 472.2 279.5 482.2 279.4 511.0 270.6 522.2 268.3 528.2 264.5 545.2 260.0 555.2 256.1 564.2 257.1 568.2 256.3 573.2 257.9 582.2 257.7 587.4 252.6 589.2 249.0 596.2 248.9 599.2 248.0 601.2 248.7 602.6 250.6 605.4 257.6 606.1 262.6 604.2 266.3 601.2 267.6 593.9 273.6 587.2 273.8 580.2 278.5 577.6 282.6 570.0 289.6 563.2 292.1 558.6 295.6 552.2 304.7 549.1 307.6 529.2 315.7 520.3 323.6 509.2 327.0 495.2 337.9 477.2 344.6 463.2 353.8 446.2 357.3 442.2 359.5 436.2 360.7 423.2 367.2 411.2 369.4 392.2 376.6 384.2 378.3 370.2 383.1 365.2 383.6 359.2 385.8 354.2 386.0 350.2 387.7 343.2 388.3 334.8 391.6 320.2 391.9 316.2 391.0 313.2 391.9 308.2 390.8 303.2 392.9 288.2 392.5 283.2 393.6 279.2 396.4 274.2 396.9Z"/><path fill-opacity="0.560" fill-rule="evenodd" d="M594.2 267.7 588.6 266.6 590.2 259.6 593.2 257.2 599.2 257.6 600.6 259.6 599.9 263.6 597.2 266.7 594.2 267.7ZM277.2 391.7 273.2 389.0 268.2 388.4 264.2 386.6 261.7 383.6 260.5 378.6 258.1 377.6 258.0 375.6 263.0 369.6 268.8 364.6 267.2 359.6 272.4 354.6 273.0 351.6 279.2 349.0 282.0 346.6 285.0 339.6 291.9 330.6 300.2 329.8 316.2 324.0 330.2 322.1 339.1 316.6 348.2 314.6 351.2 312.5 363.2 307.1 368.2 306.1 371.2 304.1 384.2 303.3 392.2 299.6 418.2 296.6 431.0 291.6 439.2 292.1 451.2 286.3 461.2 287.0 472.2 282.2 482.2 281.3 486.2 279.6 502.2 276.2 509.2 273.5 523.2 270.2 531.2 265.5 543.2 263.6 554.2 258.8 577.2 260.5 579.8 262.6 583.6 268.6 583.2 271.3 572.2 283.3 563.2 288.3 556.2 294.6 553.7 299.6 546.3 306.6 530.2 312.8 523.7 316.6 521.2 319.8 516.2 322.4 506.2 325.5 493.9 336.6 478.2 341.2 472.2 343.9 462.3 351.6 444.2 355.9 424.8 362.6 422.2 364.4 411.2 367.0 396.0 373.6 375.2 378.2 369.2 381.1 364.2 380.2 356.2 383.9 331.2 388.6 324.2 387.4 315.2 388.2 311.2 387.2 300.2 389.2 285.2 389.9 277.2 391.7Z"/><path fill-opacity="0.818" fill-rule="evenodd" d="M293.2 386.7 288.2 386.6 281.2 383.5 278.2 383.3 276.0 381.6 274.9 378.6 275.8 373.6 277.4 370.6 275.3 365.6 282.4 357.6 284.2 351.1 289.0 347.6 291.3 339.6 295.2 338.2 298.2 333.6 314.2 332.0 317.7 328.6 323.2 326.2 329.2 325.4 354.2 314.0 373.2 307.1 386.2 305.2 396.2 301.7 407.2 299.6 419.2 298.8 427.2 295.5 439.2 293.8 454.0 288.6 462.2 288.9 474.2 284.1 503.2 278.5 507.2 276.4 520.2 273.6 536.2 267.5 545.2 266.6 548.2 265.0 553.2 265.2 562.2 262.3 574.2 264.9 575.8 266.6 576.9 271.6 572.2 276.0 570.2 280.4 556.2 291.4 549.2 300.5 545.3 303.6 540.7 306.6 534.2 308.5 523.2 314.2 518.6 318.6 505.2 323.4 500.2 329.0 492.1 335.6 474.2 340.2 464.2 347.6 458.1 350.6 445.2 353.2 434.2 357.7 423.2 359.8 418.2 363.0 391.2 373.0 370.2 377.4 361.2 377.5 355.2 382.0 331.2 385.6 317.2 383.7 304.2 385.1 298.2 384.7 293.2 386.7ZM271.2 383.8 268.7 383.6 270.2 381.4 273.2 380.3 272.9 382.6 271.2 383.8Z"/></g>
<g fill="#4a1561" fill-opacity="0.075"><circle cx="535" cy="328" r="9.6"/><circle cx="402" cy="277" r="9.6"/><circle cx="633" cy="275" r="9.6"/><circle cx="648" cy="217" r="9.6"/><circle cx="148" cy="371" r="9.6"/><circle cx="204" cy="390" r="9.6"/><circle cx="634" cy="257" r="9.6"/><circle cx="577" cy="230" r="9.6"/><circle cx="611" cy="281" r="9.6"/><circle cx="407" cy="384" r="9.6"/><circle cx="671" cy="204" r="9.6"/><circle cx="560" cy="239" r="9.6"/><circle cx="613" cy="225" r="9.6"/><circle cx="183" cy="414" r="9.6"/><circle cx="224" cy="344" r="9.6"/><circle cx="214" cy="414" r="9.6"/><circle cx="216" cy="329" r="9.6"/><circle cx="653" cy="236" r="9.6"/><circle cx="297" cy="298" r="9.6"/><circle cx="287" cy="301" r="9.6"/><circle cx="150" cy="392" r="9.6"/><circle cx="574" cy="297" r="9.6"/><circle cx="471" cy="268" r="9.6"/><circle cx="343" cy="300" r="9.6"/><circle cx="364" cy="290" r="9.6"/><circle cx="612" cy="232" r="9.6"/><circle cx="213" cy="344" r="9.6"/><circle cx="679" cy="217" r="9.6"/><circle cx="175" cy="396" r="9.6"/><circle cx="142" cy="387" r="9.6"/><circle cx="207" cy="354" r="9.6"/><circle cx="175" cy="408" r="9.6"/><circle cx="222" cy="355" r="9.6"/><circle cx="369" cy="401" r="9.6"/><circle cx="198" cy="400" r="9.6"/><circle cx="184" cy="356" r="9.6"/><circle cx="468" cy="273" r="9.6"/><circle cx="147" cy="361" r="9.6"/><circle cx="187" cy="370" r="9.6"/><circle cx="200" cy="365" r="9.6"/><circle cx="255" cy="420" r="9.6"/><circle cx="166" cy="402" r="9.6"/><circle cx="683" cy="185" r="9.6"/></g>
<g fill="#88284f" filter="url(#bl)"><path fill-opacity="0.070" fill-rule="evenodd" d="M476.2 380.9 466.2 380.7 461.2 379.0 458.0 375.6 456.7 371.6 456.8 368.6 459.0 362.6 455.2 361.4 444.2 364.9 439.2 364.6 434.2 360.6 432.9 357.6 432.9 353.6 435.0 348.6 442.4 336.6 439.7 325.6 441.1 319.6 446.2 315.3 456.2 311.1 459.9 305.6 457.8 297.6 459.1 291.6 462.0 288.6 465.2 287.0 474.2 287.1 477.2 285.9 483.2 277.1 493.1 271.6 493.2 262.6 495.2 259.2 498.2 257.0 504.2 256.3 511.2 260.3 514.1 253.6 519.2 249.0 528.2 246.7 532.2 243.6 537.2 241.8 543.2 241.1 550.2 242.5 557.2 236.6 560.8 231.6 570.2 224.0 574.2 223.1 581.2 224.2 588.2 220.2 599.2 217.2 604.2 217.0 609.2 214.6 615.2 213.6 620.8 207.6 624.2 205.6 628.2 205.2 632.2 206.6 638.2 213.2 642.2 212.7 646.2 209.6 650.2 208.2 655.2 208.3 663.2 210.4 666.3 208.6 667.7 201.6 672.2 196.3 676.2 194.9 683.2 195.4 698.2 189.2 710.2 189.6 713.2 191.3 718.2 196.5 725.2 196.3 733.2 200.4 739.2 201.1 749.2 204.6 753.2 209.6 754.1 216.6 763.2 221.4 767.8 226.6 769.7 232.6 768.6 241.6 765.6 246.6 761.2 248.9 756.2 248.6 752.2 246.0 750.2 242.6 749.2 236.1 746.6 233.6 738.2 232.9 734.2 233.8 730.2 242.1 722.2 247.6 721.8 254.6 720.2 258.7 712.9 264.6 713.3 273.6 711.7 278.6 709.2 282.3 704.2 285.1 695.7 284.6 691.2 288.6 683.2 293.2 678.8 294.6 674.2 298.6 668.2 300.2 664.6 307.6 657.2 313.7 653.2 315.0 641.2 315.0 637.9 320.6 635.2 323.3 627.6 326.6 622.2 330.2 604.2 333.2 599.2 336.8 591.2 340.3 585.2 344.6 576.2 349.2 569.2 350.3 562.2 354.1 555.2 355.1 550.6 360.6 547.2 362.6 537.2 362.4 529.2 364.1 523.2 362.8 520.2 367.0 517.2 369.2 509.2 370.6 504.2 373.8 500.2 375.0 494.2 373.7 485.2 367.0 483.9 368.6 483.5 373.6 482.2 376.6 479.2 379.6 476.2 380.9Z"/><path fill-opacity="0.075" fill-rule="evenodd" d="M472.2 379.6 464.2 379.0 459.9 375.6 458.4 370.6 460.8 362.6 460.2 361.3 455.2 359.7 453.2 358.0 449.2 361.4 446.2 361.5 440.2 359.2 436.6 355.6 435.5 352.6 435.9 349.6 440.0 342.6 443.4 339.6 444.3 335.6 441.4 328.6 441.8 322.6 446.3 316.6 455.2 313.0 460.1 308.6 461.3 304.6 460.5 294.6 463.4 289.6 468.2 287.7 477.2 289.2 482.2 280.1 488.2 275.3 493.2 273.3 496.2 267.6 499.2 265.5 504.2 264.7 511.2 266.7 513.8 256.6 520.2 249.8 533.2 247.7 536.2 243.8 539.2 242.7 545.2 244.8 555.2 244.8 557.3 242.6 558.2 237.6 563.6 236.6 564.4 231.6 566.2 229.3 569.2 228.9 574.2 230.6 578.2 225.9 582.2 225.2 588.2 221.6 598.2 218.9 606.2 218.2 610.7 220.6 613.5 215.6 620.2 211.6 630.2 212.0 636.2 214.3 639.2 216.6 643.2 213.8 646.9 213.6 652.6 209.6 655.4 209.6 660.2 211.7 663.5 211.6 667.2 209.4 669.0 201.6 673.2 197.2 677.2 196.0 685.2 196.8 691.2 193.5 697.7 192.6 702.2 190.6 706.2 191.6 709.2 195.7 714.2 195.8 717.2 197.3 727.2 198.9 733.2 201.3 743.2 203.6 745.7 205.6 754.2 219.5 760.2 220.9 767.2 228.1 768.2 236.6 767.6 239.6 765.2 242.2 761.2 243.5 757.2 243.1 753.2 240.7 748.2 232.1 740.2 230.9 733.2 231.1 730.2 239.8 721.6 246.6 720.2 254.1 711.7 264.6 710.4 268.6 711.9 274.6 709.2 280.3 704.2 283.7 695.0 283.6 690.2 285.7 686.2 289.9 680.2 290.6 677.2 293.8 666.2 294.6 666.8 298.6 664.9 304.6 662.2 308.6 659.2 310.9 647.2 313.4 642.2 309.9 641.2 310.1 637.2 319.5 633.2 322.9 624.2 327.2 618.2 326.6 614.2 329.5 610.2 328.9 587.2 341.1 583.2 341.3 579.7 345.6 568.0 349.6 563.0 352.6 554.8 353.6 552.2 356.0 542.2 361.1 533.2 361.5 528.3 357.6 526.6 357.6 522.2 360.8 514.2 363.7 510.7 368.6 503.2 372.4 493.2 371.1 487.2 366.4 484.2 366.0 476.5 376.6 472.2 379.6Z"/><path fill-opacity="0.099" fill-rule="evenodd" d="M470.2 378.6 466.2 377.3 461.2 370.3 461.1 366.6 464.5 359.6 464.2 358.4 461.2 357.9 457.2 358.7 453.2 356.1 447.2 359.6 444.2 358.6 442.7 356.6 439.7 347.6 442.2 345.2 445.8 338.6 446.0 334.6 443.1 329.6 443.2 326.0 447.6 317.6 455.2 315.0 461.7 308.6 463.1 303.6 462.2 299.6 463.9 296.6 471.0 293.6 473.2 290.6 476.2 293.0 478.2 293.1 479.2 291.7 480.1 285.6 482.2 282.1 486.2 278.8 497.2 272.6 503.2 273.3 508.2 269.0 512.2 267.8 513.8 264.6 514.5 258.6 519.2 253.2 525.2 252.9 530.2 250.2 540.2 248.8 544.2 247.0 547.2 247.4 550.2 245.8 555.2 246.3 560.2 241.1 566.0 237.6 567.3 234.6 580.2 230.9 581.9 227.6 585.2 224.8 596.2 220.5 605.2 220.2 611.2 222.1 615.5 216.6 621.2 212.9 627.2 213.0 639.2 217.8 654.2 212.4 664.6 212.6 668.4 210.6 671.0 201.6 674.0 198.6 677.2 197.5 683.2 198.0 686.2 199.1 688.2 201.7 690.6 195.6 693.2 194.3 702.2 193.7 708.2 197.8 710.2 200.2 716.2 198.4 729.2 200.8 742.1 204.6 751.4 217.6 751.2 221.6 753.2 223.1 753.2 225.7 759.2 224.3 762.3 225.6 762.6 229.6 765.3 232.6 765.7 234.6 763.2 237.6 759.2 239.0 755.5 238.6 752.2 236.8 750.9 234.6 751.1 229.6 745.2 230.0 742.2 227.4 739.2 228.7 735.2 227.6 732.2 228.4 730.6 233.6 728.1 235.6 725.3 241.6 718.1 248.6 716.2 256.6 708.7 266.6 710.3 274.6 709.2 277.8 706.2 279.8 700.2 279.5 695.2 282.0 691.2 279.4 688.2 284.8 683.2 288.0 679.2 288.9 676.4 291.6 665.2 292.6 664.1 293.6 664.2 297.6 661.1 300.6 661.4 306.6 659.2 309.2 648.2 310.9 643.2 308.3 640.2 308.6 636.2 314.1 633.9 319.6 630.9 322.6 626.2 324.4 622.2 323.6 617.2 324.6 613.2 323.9 601.2 332.9 595.2 336.1 583.2 339.1 576.2 344.1 572.2 343.3 568.2 348.2 562.2 348.2 557.2 351.5 554.2 350.7 552.2 351.4 549.8 354.6 543.2 358.8 536.2 358.9 532.2 355.0 524.2 356.1 521.2 359.2 514.2 361.1 510.2 363.3 508.2 367.6 500.2 370.4 492.2 368.7 485.2 363.7 482.2 364.2 475.2 375.6 470.2 378.6Z"/><path fill-opacity="0.123" fill-rule="evenodd" d="M474.2 373.1 470.2 373.0 466.7 369.6 466.0 362.6 467.6 360.6 467.5 357.6 464.2 348.2 463.2 347.7 461.5 348.6 459.7 353.6 458.2 355.2 452.2 353.5 450.2 354.7 448.2 354.6 443.4 351.6 443.0 347.6 446.2 342.9 453.2 343.8 454.5 342.6 448.1 338.6 445.7 330.6 446.8 323.6 451.2 318.9 456.2 316.8 458.1 313.6 461.2 312.4 463.2 309.3 465.5 307.6 466.0 303.6 471.1 299.6 473.2 296.1 479.2 295.9 481.2 286.0 487.2 279.6 495.2 275.1 499.2 274.4 503.2 275.0 508.2 270.7 512.9 268.6 516.8 261.6 517.4 257.6 519.2 255.5 529.2 253.4 532.2 253.9 535.2 251.9 537.2 253.3 539.5 251.6 544.2 250.2 549.2 251.0 551.2 248.9 556.5 246.6 563.2 240.8 567.2 239.6 573.6 234.6 580.2 234.3 582.2 231.2 594.2 222.0 604.2 221.8 611.2 223.2 614.0 221.6 618.2 216.3 623.2 213.7 638.2 218.7 655.2 213.7 668.2 214.4 669.6 213.6 672.2 209.1 680.2 206.4 683.2 200.8 685.2 201.1 688.2 206.6 690.2 207.4 695.6 202.6 695.8 198.6 697.2 197.4 699.0 197.6 703.2 200.9 707.2 200.0 710.2 203.7 714.2 203.9 721.2 201.7 727.2 203.5 731.2 202.7 733.1 203.6 735.2 206.6 739.2 207.1 745.2 211.2 747.2 216.8 749.6 219.6 748.2 222.3 745.2 224.3 742.2 224.0 739.2 226.7 732.2 225.7 728.6 220.6 726.2 219.3 724.3 219.6 725.2 221.9 728.2 223.9 730.2 226.6 729.3 231.6 726.5 234.6 723.2 241.6 717.5 245.6 715.2 254.9 710.2 262.2 707.2 264.5 706.2 270.0 701.2 273.1 698.2 276.7 696.2 276.7 694.2 278.2 691.2 275.6 686.4 282.6 682.2 284.4 675.2 290.0 673.2 290.5 668.7 289.6 664.2 291.2 658.2 302.8 653.9 307.6 651.2 308.5 646.2 306.2 640.2 306.8 633.5 313.6 631.2 319.7 627.2 322.3 619.2 321.4 617.2 322.4 612.2 322.5 610.2 324.4 607.2 325.4 603.9 329.6 599.7 332.6 592.2 335.8 579.2 338.4 576.2 340.2 571.2 341.4 567.2 346.7 562.2 346.5 553.2 348.7 547.7 354.6 544.2 356.5 537.2 357.3 533.6 353.6 531.2 353.0 524.2 353.9 520.2 357.8 519.1 357.6 517.2 354.4 514.2 353.4 511.2 355.1 510.2 359.4 507.5 361.6 505.9 364.6 499.2 368.9 496.2 368.7 491.8 366.6 489.2 361.0 479.2 361.3 478.2 364.5 476.3 366.6 476.4 370.6 474.2 373.1ZM471.5 361.6 472.2 360.6 471.3 358.6 469.4 357.6 468.7 360.6 471.5 361.6Z"/><path fill-opacity="0.154" fill-rule="evenodd" d="M497.2 364.8 496.2 365.1 495.2 363.7 495.1 357.6 492.2 351.2 490.2 350.7 488.2 353.3 485.2 352.3 478.2 352.0 476.9 353.6 478.6 355.6 476.2 356.2 473.2 352.0 471.2 352.5 468.2 351.0 466.2 346.5 460.2 345.4 455.1 340.6 450.7 338.6 448.1 331.6 448.1 325.6 449.6 322.6 464.2 313.8 468.1 304.6 472.6 301.6 474.2 298.4 476.2 297.5 480.2 300.4 483.2 299.5 483.7 298.6 481.7 294.6 481.8 292.6 483.3 287.6 485.5 285.6 488.3 280.6 495.2 276.6 500.2 277.2 504.7 275.6 509.2 271.6 513.4 269.6 517.1 264.6 526.0 255.6 531.2 256.8 533.0 260.6 534.2 261.7 536.2 261.7 542.2 254.2 550.2 251.9 575.2 235.9 582.7 235.6 583.3 232.6 587.2 230.9 594.2 224.2 601.2 224.8 604.2 223.5 612.2 224.2 616.5 221.6 619.2 217.9 626.2 217.0 637.2 219.7 644.2 219.5 648.2 217.1 659.2 215.0 664.2 215.8 667.2 217.6 674.2 216.2 680.2 218.0 681.2 216.3 674.2 215.2 672.8 212.6 679.2 209.6 682.2 209.2 683.7 206.6 685.2 205.8 687.2 208.3 691.2 209.6 698.2 205.8 705.2 205.3 709.7 206.6 713.1 209.6 717.2 211.1 718.9 210.6 720.2 207.4 725.1 211.6 724.2 215.6 719.3 217.6 721.2 223.5 726.0 227.6 726.2 231.5 724.2 233.6 723.1 237.6 719.2 239.5 715.2 243.3 714.8 246.6 713.2 249.6 713.2 253.6 711.8 256.6 705.7 259.6 704.2 262.9 701.2 262.6 699.5 263.6 699.7 264.6 703.0 266.6 699.2 268.2 697.2 271.1 696.2 271.6 694.2 268.9 692.2 269.1 684.2 279.9 679.2 282.5 676.2 287.0 673.2 288.2 666.2 288.2 664.2 289.0 657.5 300.6 652.2 304.5 650.2 305.3 646.2 303.3 643.2 305.0 639.2 305.5 635.2 310.2 631.5 311.6 628.2 314.4 626.9 318.6 625.2 320.2 623.2 320.5 618.2 318.8 616.2 320.2 607.9 322.6 606.2 323.7 602.2 329.3 595.2 333.3 574.2 338.4 569.4 340.6 566.2 345.1 561.2 345.3 552.2 347.5 545.2 353.5 537.2 353.5 531.2 350.4 522.2 353.0 513.2 349.9 510.2 351.1 504.2 350.7 503.1 351.6 503.6 352.6 508.5 353.6 508.7 356.6 504.2 360.1 499.8 361.6 497.2 364.8ZM737.2 221.8 735.2 222.0 727.1 216.6 726.8 211.6 730.2 207.7 733.2 210.3 737.2 209.6 740.8 212.6 744.2 213.8 744.6 215.6 743.8 217.6 737.2 221.8ZM721.1 212.6 721.4 210.6 720.2 210.4 719.9 212.6 721.1 212.6ZM455.2 351.7 453.1 350.6 453.5 348.6 455.2 346.6 457.2 346.2 458.2 348.9 455.2 351.7ZM473.6 348.6 472.1 347.6 472.2 348.9 473.2 349.3 473.6 348.6Z"/><path fill-opacity="0.200" fill-rule="evenodd" d="M500.2 356.6 498.2 356.4 498.2 353.6 492.2 349.6 488.2 348.4 482.2 349.9 480.2 349.5 475.6 346.6 474.2 342.5 468.2 344.3 460.4 342.6 458.6 340.6 454.6 338.6 450.2 327.6 450.8 324.6 452.5 322.6 459.2 320.5 465.2 316.9 466.8 314.6 467.2 310.6 472.2 304.9 476.2 303.7 480.2 305.1 482.3 304.6 485.3 299.6 484.4 294.6 487.6 285.6 491.2 281.0 500.9 279.6 507.2 275.7 511.6 271.6 515.7 269.6 522.2 263.1 529.2 262.1 532.2 263.2 536.2 262.8 543.2 255.7 550.2 253.3 556.3 248.6 572.2 239.9 579.2 237.8 584.2 237.9 592.2 229.3 595.2 228.8 598.2 226.7 601.2 227.7 607.2 225.3 613.2 227.1 624.2 220.0 631.2 219.8 637.2 221.4 646.2 221.4 649.2 219.4 659.2 216.4 664.2 217.6 667.2 219.6 672.8 220.6 675.3 225.6 678.2 226.7 686.2 221.4 691.2 220.9 697.2 218.2 700.2 214.9 704.2 213.5 708.2 209.6 713.3 211.6 715.3 213.6 715.2 217.6 717.4 221.6 717.0 224.6 718.4 230.6 718.4 235.6 711.3 246.6 708.2 247.0 707.4 255.6 697.2 262.0 682.8 277.6 674.2 284.3 664.2 287.3 661.0 290.6 660.1 293.6 655.2 300.2 650.2 302.7 646.2 301.2 637.2 303.6 633.7 308.6 628.2 311.9 624.2 315.9 617.2 316.4 614.8 318.6 607.2 321.6 601.2 328.0 598.2 329.0 594.2 332.3 586.2 333.3 576.2 336.3 563.2 342.2 560.2 342.4 552.3 345.6 545.2 350.6 534.2 349.9 531.2 348.5 522.2 351.5 513.2 348.1 504.2 349.1 500.2 350.5 498.2 353.6 499.8 354.6 500.2 356.6ZM736.2 218.7 735.4 217.6 736.2 216.6 737.5 217.6 736.2 218.7Z"/><path fill-opacity="0.261" fill-rule="evenodd" d="M522.2 349.8 512.2 346.4 494.2 348.2 486.2 345.5 479.2 346.1 478.2 345.6 478.7 343.6 476.2 335.9 475.2 335.6 471.2 338.5 469.2 338.7 469.3 335.6 467.2 332.9 463.2 336.4 460.0 336.6 457.2 335.4 454.6 330.6 454.6 328.6 457.2 325.4 462.2 324.3 466.7 324.6 467.4 322.6 466.7 319.6 469.2 311.6 470.2 310.6 476.2 309.3 478.2 307.4 482.2 306.8 485.2 305.0 489.4 289.6 492.2 283.7 498.2 282.9 504.2 279.1 509.2 277.7 513.0 272.6 517.2 271.0 526.2 265.4 536.2 263.9 541.6 260.6 545.8 256.6 551.2 254.4 557.2 249.3 562.8 247.6 572.2 242.7 581.2 240.9 585.2 239.2 589.9 236.6 592.2 233.1 597.2 230.0 603.2 230.0 606.2 228.0 611.2 230.6 615.2 229.8 619.2 225.8 624.2 225.0 627.2 222.7 630.2 221.8 632.2 221.8 636.2 223.9 647.2 223.9 651.8 220.6 660.2 218.4 664.2 219.4 667.4 221.6 673.2 228.6 678.2 228.5 682.2 227.0 685.2 227.1 689.4 224.6 695.2 223.1 707.2 214.7 710.2 213.5 711.2 214.0 709.7 221.6 715.2 227.2 716.1 229.6 715.2 234.0 712.2 236.2 711.2 238.6 711.4 241.6 710.2 242.3 708.2 242.8 700.2 240.9 694.0 250.6 694.2 252.6 696.2 254.1 697.8 252.6 698.2 248.3 701.2 250.8 704.2 249.1 705.5 250.6 704.4 254.6 701.2 254.8 699.4 258.6 691.2 264.2 688.5 268.6 681.2 276.1 672.2 282.1 664.2 284.6 654.2 298.5 650.2 300.0 645.2 298.4 635.2 302.1 633.3 303.6 631.2 307.4 627.6 307.6 625.9 310.6 622.2 313.6 614.2 314.6 612.7 317.6 604.9 321.6 601.2 325.7 597.4 326.6 595.2 328.8 591.2 330.6 578.2 333.8 569.2 338.0 560.2 339.9 545.2 347.5 538.2 346.6 534.2 347.8 531.2 347.0 522.2 349.8ZM476.3 334.6 474.9 334.6 475.2 335.4 476.3 334.6Z"/><path fill-opacity="0.338" fill-rule="evenodd" d="M525.2 346.8 519.2 347.3 507.2 343.9 503.2 345.6 493.2 346.1 489.2 345.4 482.2 341.0 479.7 333.6 475.2 330.6 474.8 324.6 470.9 319.6 471.0 317.6 473.1 314.6 482.1 310.6 486.9 306.6 490.2 296.8 492.9 293.6 492.6 289.6 502.2 282.0 510.2 279.4 513.5 275.6 520.2 271.6 535.2 266.0 538.4 263.6 543.2 261.9 546.2 258.9 552.2 256.3 557.2 250.9 563.2 249.1 567.2 246.4 573.2 244.2 583.2 242.5 591.7 237.6 597.2 232.7 608.2 234.8 617.2 233.6 620.5 231.6 621.8 229.6 631.2 224.6 636.2 227.0 644.2 226.7 648.2 231.7 649.4 230.6 650.2 224.5 653.2 222.7 661.2 220.9 665.9 222.6 669.2 228.3 674.2 231.9 683.2 230.9 692.2 228.3 698.2 231.6 701.3 226.6 700.7 223.6 703.2 222.1 706.2 223.0 710.8 228.6 709.2 233.9 706.2 234.5 699.2 238.5 695.2 238.9 693.4 240.6 693.3 245.6 691.5 251.6 692.2 257.6 686.6 267.6 675.2 277.5 669.2 278.9 663.2 282.9 652.6 295.6 644.2 296.4 634.2 300.4 630.8 303.6 625.2 305.8 622.3 309.6 617.2 311.9 614.2 310.9 611.0 312.6 608.2 317.6 599.6 323.6 590.2 326.4 586.2 329.6 578.2 332.1 572.1 335.6 559.2 338.6 555.2 341.1 543.2 345.3 538.2 344.7 534.2 345.8 531.2 344.8 525.2 346.8Z"/><path fill-opacity="0.444" fill-rule="evenodd" d="M522.2 344.7 519.2 345.1 516.2 343.3 508.2 341.8 502.2 343.3 493.2 343.6 489.2 342.8 483.1 335.6 481.3 331.6 481.1 327.6 477.5 321.6 477.4 317.6 478.3 315.6 483.9 312.6 487.4 309.6 490.0 305.6 494.4 302.6 496.1 295.6 496.2 290.6 503.2 283.4 514.2 280.2 520.2 275.0 526.2 273.4 536.2 267.7 539.2 265.1 544.3 263.6 554.2 257.6 558.2 252.9 562.2 251.8 567.2 248.6 572.2 248.0 575.2 246.2 583.2 244.6 598.2 236.2 600.2 236.0 604.2 237.5 620.2 234.8 623.2 235.2 625.8 233.6 628.1 229.6 630.2 228.4 642.2 230.2 645.2 233.5 648.2 234.1 650.5 232.6 653.2 227.7 659.2 227.0 666.2 228.5 669.2 235.6 671.2 237.3 679.2 233.5 692.2 232.9 693.7 233.6 691.2 238.6 690.2 248.8 688.5 255.6 686.6 258.6 686.8 261.6 685.2 265.5 681.2 269.3 678.2 270.2 676.2 272.6 666.8 276.6 660.2 282.0 657.2 283.3 655.2 287.8 613.2 309.2 608.2 312.4 605.2 316.7 601.2 319.6 593.2 323.2 590.2 323.5 571.2 333.8 541.3 342.6 529.2 343.2 522.2 344.7Z"/><path fill-opacity="0.560" fill-rule="evenodd" d="M536.2 340.7 532.2 341.3 518.2 340.1 513.2 340.7 506.2 338.2 503.2 339.4 499.2 339.3 494.2 337.2 490.2 336.8 488.9 335.6 488.2 332.6 489.0 330.6 482.9 321.6 482.9 317.6 484.2 316.9 488.2 318.8 490.6 317.6 489.9 312.6 499.1 302.6 500.1 299.6 499.6 292.6 503.2 288.0 514.2 283.2 521.2 277.7 550.2 263.8 559.1 256.6 563.2 254.9 566.2 252.3 574.2 251.0 592.2 242.4 612.2 238.7 623.2 238.3 635.2 232.3 641.2 234.1 644.2 238.2 646.2 238.7 653.2 234.7 655.2 232.2 660.2 231.5 664.2 232.8 670.2 242.3 672.2 242.1 677.2 238.9 683.2 237.5 687.0 239.6 687.2 241.7 684.8 244.6 684.6 252.6 681.2 263.0 675.2 266.8 672.2 270.4 669.2 270.8 664.1 273.6 660.2 274.4 655.7 277.6 652.3 281.6 651.2 285.6 648.0 288.6 644.2 289.6 634.6 296.6 618.2 303.7 607.2 310.7 602.2 315.5 596.2 318.3 592.0 318.6 588.2 321.6 569.2 332.0 552.2 336.9 547.2 339.1 539.2 339.6 536.2 340.7Z"/><path fill-opacity="0.818" fill-rule="evenodd" d="M535.2 337.8 524.2 338.0 519.2 336.3 512.2 338.0 500.5 332.6 501.0 326.6 499.5 323.6 495.7 320.6 495.6 315.6 500.3 307.6 504.0 303.6 504.7 296.6 507.2 292.0 512.2 286.9 521.2 283.1 527.2 277.4 551.2 265.8 555.2 262.4 569.2 254.8 577.2 253.1 582.0 250.6 589.2 249.2 595.2 245.4 603.2 243.7 607.2 241.8 611.2 241.5 618.2 243.2 625.2 242.3 627.2 240.8 629.2 241.3 633.2 239.5 646.2 241.4 655.2 239.8 663.0 243.6 663.7 248.6 665.2 250.2 668.2 250.9 668.2 254.6 670.2 255.6 673.3 260.6 672.2 263.9 670.2 265.5 667.2 266.1 665.2 268.9 654.2 273.6 649.8 278.6 647.6 283.6 643.2 286.2 636.5 292.6 627.2 296.4 614.2 304.4 608.2 306.4 601.2 312.5 595.2 314.8 589.2 315.1 586.2 316.3 581.4 321.6 573.5 326.6 561.1 331.6 557.2 332.1 546.2 337.0 535.2 337.8Z"/></g>
<g fill="#88284f" fill-opacity="0.075"><circle cx="756" cy="245" r="9.6"/><circle cx="749" cy="234" r="9.6"/><circle cx="667" cy="299" r="9.6"/><circle cx="791" cy="213" r="9.6"/><circle cx="739" cy="242" r="9.6"/><circle cx="542" cy="368" r="9.6"/><circle cx="460" cy="294" r="9.6"/><circle cx="723" cy="257" r="9.6"/><circle cx="454" cy="362" r="9.6"/><circle cx="599" cy="216" r="9.6"/><circle cx="435" cy="335" r="9.6"/><circle cx="496" cy="263" r="9.6"/><circle cx="764" cy="194" r="9.6"/><circle cx="485" cy="374" r="9.6"/><circle cx="682" cy="298" r="9.6"/><circle cx="575" cy="226" r="9.6"/><circle cx="557" cy="359" r="9.6"/><circle cx="514" cy="367" r="9.6"/><circle cx="734" cy="239" r="9.6"/><circle cx="737" cy="256" r="9.6"/><circle cx="777" cy="220" r="9.6"/><circle cx="712" cy="265" r="9.6"/><circle cx="776" cy="177" r="9.6"/><circle cx="450" cy="370" r="9.6"/><circle cx="761" cy="175" r="9.6"/><circle cx="818" cy="182" r="9.6"/><circle cx="433" cy="368" r="9.6"/><circle cx="727" cy="249" r="9.6"/><circle cx="434" cy="326" r="9.6"/><circle cx="640" cy="318" r="9.6"/><circle cx="612" cy="336" r="9.6"/><circle cx="488" cy="369" r="9.6"/><circle cx="798" cy="178" r="9.6"/><circle cx="751" cy="195" r="9.6"/><circle cx="760" cy="139" r="9.6"/><circle cx="762" cy="196" r="9.6"/></g>
<g fill="#c99f84" filter="url(#bl)"><path fill-opacity="0.070" fill-rule="evenodd" d="M443.2 381.9 425.2 382.1 419.2 380.3 414.1 376.6 410.6 371.6 409.8 366.6 411.2 362.6 415.2 359.0 421.2 357.5 423.9 352.6 427.2 350.0 439.6 348.6 446.2 343.0 453.2 341.2 459.2 337.8 466.2 337.3 468.9 332.6 472.2 330.0 481.2 329.0 494.6 324.6 502.1 319.6 505.8 314.6 509.2 312.6 513.2 312.2 522.6 313.6 529.2 310.3 545.8 307.6 556.2 301.2 567.2 300.9 577.2 294.6 590.2 292.9 596.2 293.3 612.5 290.6 619.2 287.8 629.2 285.7 634.2 281.5 637.2 280.3 648.2 280.8 655.2 277.0 659.2 276.1 668.2 276.1 674.2 277.7 679.2 275.2 682.2 274.8 691.2 276.8 692.7 275.6 695.2 270.2 700.2 267.3 704.2 267.3 707.2 268.6 711.2 273.6 711.2 279.6 707.4 285.6 707.5 291.6 704.6 296.6 695.2 302.2 689.8 303.6 686.1 307.6 682.2 309.9 670.6 311.6 667.5 318.6 663.2 321.6 657.4 322.6 652.2 324.9 645.2 324.4 639.2 327.0 631.2 326.6 623.2 331.2 612.6 334.6 606.2 339.1 596.6 339.6 587.6 342.6 579.2 347.0 555.8 351.6 547.2 357.2 521.2 361.6 512.2 365.4 506.2 370.0 496.2 373.9 488.2 373.2 482.2 374.0 475.2 372.5 468.2 376.0 459.6 375.6 443.2 381.9Z"/><path fill-opacity="0.075" fill-rule="evenodd" d="M438.2 380.7 429.2 380.9 419.2 378.8 413.2 373.6 412.4 369.6 413.6 365.6 416.2 362.7 422.2 358.9 426.2 358.3 432.2 351.5 440.2 349.4 446.2 344.2 455.2 341.6 461.1 338.6 470.2 338.6 473.0 337.6 479.2 330.9 501.2 323.0 503.2 320.5 513.2 315.2 522.2 314.8 533.2 311.0 539.2 310.8 547.2 308.1 556.2 302.3 567.2 301.7 574.2 297.5 583.2 295.3 613.2 291.2 620.2 288.5 629.2 286.8 639.2 282.1 648.2 281.9 656.2 278.2 664.2 277.2 674.2 278.7 679.3 276.6 683.2 276.2 691.2 278.2 695.2 277.9 703.2 281.0 705.9 283.6 705.2 285.9 701.2 286.7 700.6 287.6 701.1 294.6 699.2 298.3 696.2 299.2 691.2 298.4 689.8 301.6 685.5 306.6 682.2 308.8 677.2 310.1 671.2 309.9 665.2 312.2 659.5 319.6 657.2 321.2 648.2 320.1 645.2 323.1 639.2 325.3 630.2 326.2 623.2 330.2 613.2 333.3 605.2 338.2 596.2 339.0 588.0 341.6 579.2 346.0 555.6 350.6 546.2 356.4 522.2 360.4 513.2 363.6 506.2 368.5 500.2 370.9 493.2 369.6 488.2 371.7 483.6 369.6 481.2 369.5 469.2 373.9 459.9 374.6 447.2 378.9 442.4 378.6 438.2 380.7Z"/><path fill-opacity="0.099" fill-rule="evenodd" d="M438.2 378.8 427.2 378.8 417.6 375.6 416.9 373.6 417.3 369.6 422.4 361.6 428.5 358.6 434.2 352.9 439.2 351.6 447.6 344.6 457.6 342.6 463.2 339.8 470.2 339.6 473.6 338.6 480.7 331.6 487.2 328.5 502.2 324.1 509.2 318.6 514.2 316.3 517.2 315.5 522.2 316.0 528.9 314.6 533.2 312.6 539.2 312.1 547.2 309.6 556.6 303.6 567.2 302.3 574.2 298.6 583.2 296.3 613.2 291.9 621.2 289.0 628.2 288.2 640.2 283.1 648.2 283.0 661.2 279.0 666.2 278.9 671.2 280.1 687.2 277.9 692.2 280.9 696.4 280.6 698.7 282.6 698.8 289.6 697.8 292.6 694.2 296.0 689.8 297.6 683.3 306.6 679.9 308.6 677.2 309.0 669.2 307.2 657.0 318.6 648.0 318.6 644.2 321.8 630.2 325.4 623.2 329.3 614.2 331.7 606.2 336.4 589.2 340.5 579.2 345.2 556.2 349.6 544.5 355.6 523.2 359.1 512.2 362.6 509.2 364.4 505.2 364.3 503.1 367.6 501.2 368.7 494.2 368.4 488.2 369.6 481.2 368.3 472.2 371.7 459.2 373.9 448.2 377.1 442.2 376.9 438.2 378.8Z"/><path fill-opacity="0.123" fill-rule="evenodd" d="M435.2 377.8 427.2 377.3 423.1 374.6 421.7 371.6 421.3 367.6 424.2 362.0 428.2 360.3 434.2 355.1 439.8 353.6 441.9 350.6 448.2 345.9 473.2 339.5 476.2 337.8 482.2 331.8 489.2 328.6 502.2 325.3 509.2 320.0 515.2 317.0 522.2 317.1 546.2 311.2 551.2 307.8 560.2 303.8 568.6 302.6 574.2 299.9 584.2 297.0 590.2 296.7 607.2 293.0 613.2 292.6 621.2 289.7 629.2 288.8 641.2 284.0 654.2 283.8 661.2 280.1 666.2 280.0 671.2 281.7 675.2 280.4 687.2 279.1 693.0 283.6 695.9 287.6 695.5 291.6 693.5 294.6 689.2 296.6 686.2 299.7 683.2 300.7 677.2 306.0 674.2 306.7 668.2 305.9 655.2 317.2 647.2 317.9 637.2 322.9 630.2 324.7 623.2 328.6 613.2 331.3 603.2 336.3 591.2 339.0 578.2 344.6 555.2 349.2 543.2 354.8 523.2 358.3 517.2 360.7 505.2 362.9 499.2 366.8 489.2 368.5 481.2 367.5 473.2 370.5 466.2 371.1 450.2 375.4 440.2 375.1 435.2 377.8Z"/><path fill-opacity="0.154" fill-rule="evenodd" d="M434.2 376.7 428.7 375.6 424.7 373.6 423.9 369.6 424.3 364.6 425.2 363.1 429.2 362.4 432.2 359.1 438.2 359.4 439.4 356.6 442.2 354.3 443.2 351.4 448.2 347.6 454.2 345.1 461.2 344.0 467.2 341.4 474.2 339.8 482.5 332.6 489.2 329.5 501.9 326.6 508.2 321.8 514.2 318.7 523.2 318.0 547.2 311.8 551.2 308.9 560.6 304.6 570.2 302.8 585.2 297.7 613.2 293.2 622.2 290.1 629.2 289.7 640.2 285.7 653.2 285.3 662.2 281.2 666.2 281.1 671.2 282.7 675.2 281.4 685.2 281.0 691.2 283.7 692.5 285.6 691.8 291.6 689.2 293.4 686.2 297.6 673.2 304.3 667.2 305.3 663.6 307.6 656.2 315.0 645.6 317.6 636.2 322.5 629.2 324.3 620.2 328.9 613.2 330.5 602.2 335.8 591.2 337.8 578.2 343.6 555.2 348.6 543.2 353.9 505.2 362.1 496.2 366.3 489.2 367.5 482.2 366.7 472.4 369.6 457.2 371.8 450.2 374.0 439.2 373.4 434.2 376.7Z"/><path fill-opacity="0.200" fill-rule="evenodd" d="M454.2 371.6 449.2 372.3 443.2 371.0 440.2 371.7 436.2 369.5 434.2 371.6 431.2 369.3 428.2 368.6 427.1 365.6 430.2 364.5 433.2 361.3 437.2 361.9 439.2 361.2 444.4 352.6 451.7 347.6 455.2 346.2 461.2 345.6 468.2 341.9 475.2 340.2 483.2 333.5 489.2 330.7 501.8 327.6 513.2 320.2 523.2 319.0 547.0 312.6 562.2 304.9 570.2 303.4 579.2 300.3 607.2 294.3 613.2 293.8 622.2 290.9 633.2 289.7 641.2 286.9 653.2 286.4 663.2 282.6 671.2 283.9 675.2 282.8 682.2 283.0 686.2 285.9 687.9 288.6 687.4 292.6 685.2 296.5 667.2 304.0 663.2 306.6 656.2 313.2 647.2 316.1 635.2 321.9 628.8 323.6 621.2 327.9 612.2 330.1 602.2 335.0 591.2 336.9 578.2 342.5 555.2 348.0 543.2 353.0 525.2 356.2 503.8 361.6 495.2 365.5 489.2 366.5 482.2 366.0 469.2 368.9 465.2 368.9 461.2 370.6 457.2 370.4 454.2 371.6Z"/><path fill-opacity="0.261" fill-rule="evenodd" d="M459.2 368.7 453.2 369.0 448.2 367.3 440.2 368.6 438.4 365.6 442.9 360.6 445.2 355.0 450.7 353.6 454.2 348.6 461.2 347.2 468.9 342.6 475.2 341.0 487.2 332.6 502.2 328.3 514.2 321.2 523.2 319.9 547.2 313.2 563.0 305.6 574.2 303.2 580.2 301.0 612.2 294.7 623.2 291.6 634.2 290.7 640.2 288.7 652.2 287.9 661.2 285.1 676.2 285.9 680.2 289.9 683.2 290.6 684.9 292.6 683.6 294.6 678.0 296.6 674.2 299.6 666.2 303.1 655.9 311.6 649.2 313.7 636.2 320.2 627.2 323.3 620.2 327.4 612.2 329.4 601.2 334.4 590.2 336.4 572.2 343.6 555.2 347.4 543.2 352.1 531.2 354.9 517.2 356.8 511.2 359.4 501.2 361.3 493.2 364.9 472.2 366.4 459.2 368.7Z"/><path fill-opacity="0.338" fill-rule="evenodd" d="M457.2 366.6 448.2 363.2 446.9 361.6 446.9 358.6 457.2 350.4 462.2 348.5 469.6 343.6 476.2 341.5 487.9 333.6 502.2 329.2 516.2 322.0 547.2 313.9 566.0 305.6 623.3 292.6 650.2 289.7 662.2 286.7 671.2 288.1 674.0 293.6 673.2 296.6 667.2 300.0 655.2 310.0 642.0 316.6 627.2 322.3 619.9 326.6 608.2 330.0 601.0 333.6 589.2 335.9 572.2 342.7 554.2 347.1 537.2 352.8 517.2 355.8 511.2 358.4 500.2 360.5 493.2 363.7 468.2 364.7 464.2 365.7 460.2 364.6 457.2 366.6Z"/><path fill-opacity="0.444" fill-rule="evenodd" d="M479.2 363.7 465.2 362.4 459.2 358.6 459.0 360.6 455.2 362.8 453.0 361.6 452.1 359.6 454.2 357.2 457.2 356.0 460.2 352.3 470.2 345.4 477.2 342.2 489.3 334.6 502.2 330.0 518.2 322.7 546.2 315.0 566.0 306.6 624.2 293.5 650.2 291.2 658.2 290.2 662.2 288.7 665.2 289.9 669.0 294.6 659.6 304.6 652.8 309.6 641.7 315.6 630.2 319.8 619.3 325.6 607.2 329.3 600.5 332.6 588.2 335.3 572.2 341.7 534.9 352.6 521.2 353.9 509.5 357.6 500.2 359.4 492.2 362.4 479.2 363.7Z"/><path fill-opacity="0.560" fill-rule="evenodd" d="M481.2 361.7 466.8 359.6 464.7 357.6 464.7 354.6 472.0 346.6 490.6 335.6 519.2 323.9 545.2 316.3 566.8 307.6 575.2 306.3 604.2 298.5 616.2 296.9 626.2 294.5 654.2 292.7 657.5 293.6 659.7 295.6 659.9 297.6 658.0 302.6 651.2 308.6 641.2 314.2 633.2 317.1 615.8 325.6 607.2 328.1 596.6 332.6 586.2 334.9 572.2 340.6 544.2 348.3 535.4 351.6 522.2 352.4 508.2 356.6 490.2 360.6 481.2 361.7Z"/><path fill-opacity="0.818" fill-rule="evenodd" d="M482.2 359.6 475.2 358.6 470.7 356.6 470.6 352.6 473.4 348.6 495.2 334.6 524.6 323.6 554.2 314.4 567.9 308.6 576.2 307.3 604.1 299.6 619.2 297.8 626.2 295.9 644.2 295.2 650.2 296.6 653.2 299.1 653.1 301.6 649.9 306.6 642.9 311.6 615.3 324.6 600.2 329.1 595.5 331.6 586.2 333.8 574.5 338.6 543.2 347.4 535.3 350.6 522.2 351.2 497.2 357.5 482.2 359.6Z"/></g>
<g fill="#c99f84" fill-opacity="0.075"><circle cx="722" cy="275" r="9.6"/><circle cx="699" cy="280" r="9.6"/><circle cx="709" cy="283" r="9.6"/></g>
</g>
<clipPath id="cpb"><rect x="870.3" y="5.6" width="709.4000000000001" height="405.0"/></clipPath><g clip-path="url(#cpb)">
<path fill="#6a8bc4" fill-opacity="0.5" d="M870.3 58.0H878.9V64.0H870.3V84.0H881.9V90.0H874.9V97.0H881.9V104.0H886.0V110.0H881.9V117.0H883.5V122.0H879.6V130.0H877.2V136.0H888.3V142.0H885.6V149.0H890.9V155.5H899.9V161.8H908.9V168.7H911.7V175.0H906.9V181.9H936.7V188.1H915.9V195.7H921.2V201.9H928.1V208.2H951.1V215.1H939.7V221.3H987.9V227.6H971.9V233.8H953.1V240.7H986.0V247.0H1008.7V252.5H1024.6V258.0H1065.2V264.2H1032.8V270.4H1050.4V276.6H1090.0V282.8H1040.3V289.0H1051.5V295.2H1039.1V301.4H1045.4V307.6H1011.9V313.8H1004.9V320.0H999.8V326.2H983.7V332.4H955.9V338.6H967.2V344.8H929.2V351.0H920.9V357.2H911.7V363.4H918.4V369.6H902.4V375.8H893.4V382.0H887.9V388.2H887.7V394.4H880.8V400.6H877.9V406.8H877.9V413.0H870.3Z"/>
<g fill="#6a8bc4" fill-opacity="0.7" stroke="#6a8bc4" stroke-width="1.6"><circle cx="877.1" cy="410.4" r="2.4"/><circle cx="877.5" cy="409.1" r="2.4"/><circle cx="878.0" cy="407.8" r="2.4"/><circle cx="878.5" cy="406.5" r="2.4"/><circle cx="879.1" cy="405.2" r="2.4"/><circle cx="879.6" cy="403.9" r="2.4"/><circle cx="880.2" cy="402.5" r="2.4"/><circle cx="880.8" cy="401.2" r="2.4"/><circle cx="881.5" cy="399.9" r="2.4"/><circle cx="882.2" cy="398.6" r="2.4"/><circle cx="882.9" cy="397.3" r="2.4"/><circle cx="883.7" cy="396.0" r="2.4"/><circle cx="884.5" cy="394.7" r="2.4"/><circle cx="885.3" cy="393.4" r="2.4"/><circle cx="886.2" cy="392.1" r="2.4"/><circle cx="887.1" cy="390.8" r="2.4"/><circle cx="888.0" cy="389.4" r="2.4"/><circle cx="889.0" cy="388.1" r="2.4"/><circle cx="890.1" cy="386.8" r="2.4"/><circle cx="891.2" cy="385.5" r="2.4"/><circle cx="892.3" cy="384.2" r="2.4"/><circle cx="893.5" cy="382.9" r="2.4"/><circle cx="894.7" cy="381.6" r="2.4"/><circle cx="896.0" cy="380.3" r="2.4"/><circle cx="897.3" cy="379.0" r="2.4"/><circle cx="898.6" cy="377.6" r="2.4"/><circle cx="900.1" cy="376.3" r="2.4"/><circle cx="901.5" cy="375.0" r="2.4"/><circle cx="903.0" cy="373.7" r="2.4"/><circle cx="904.6" cy="372.4" r="2.4"/><circle cx="906.2" cy="371.1" r="2.4"/><circle cx="907.9" cy="369.8" r="2.4"/><circle cx="909.6" cy="368.5" r="2.4"/><circle cx="911.4" cy="367.2" r="2.4"/><circle cx="913.2" cy="365.9" r="2.4"/><circle cx="915.1" cy="364.5" r="2.4"/><circle cx="917.1" cy="363.2" r="2.4"/><circle cx="919.1" cy="361.9" r="2.4"/><circle cx="921.1" cy="360.6" r="2.4"/><circle cx="923.2" cy="359.3" r="2.4"/><circle cx="925.3" cy="358.0" r="2.4"/><circle cx="927.5" cy="356.7" r="2.4"/><circle cx="929.8" cy="355.4" r="2.4"/><circle cx="932.1" cy="354.1" r="2.4"/><circle cx="934.4" cy="352.8" r="2.4"/><circle cx="936.8" cy="351.4" r="2.4"/><circle cx="939.2" cy="350.1" r="2.4"/><circle cx="941.7" cy="348.8" r="2.4"/><circle cx="944.2" cy="347.5" r="2.4"/><circle cx="946.7" cy="346.2" r="2.4"/><circle cx="949.3" cy="344.9" r="2.4"/><circle cx="951.9" cy="343.6" r="2.4"/><circle cx="954.6" cy="342.3" r="2.4"/><circle cx="957.3" cy="341.0" r="2.4"/><circle cx="960.0" cy="339.6" r="2.4"/><circle cx="962.7" cy="338.3" r="2.4"/><circle cx="965.5" cy="337.0" r="2.4"/><circle cx="968.3" cy="335.7" r="2.4"/><circle cx="971.0" cy="334.4" r="2.4"/><circle cx="973.8" cy="333.1" r="2.4"/><circle cx="976.7" cy="331.8" r="2.4"/><circle cx="979.5" cy="330.5" r="2.4"/><circle cx="982.3" cy="329.2" r="2.4"/><circle cx="985.1" cy="327.9" r="2.4"/><circle cx="987.9" cy="326.5" r="2.4"/><circle cx="990.7" cy="325.2" r="2.4"/><circle cx="993.5" cy="323.9" r="2.4"/><circle cx="996.3" cy="322.6" r="2.4"/><circle cx="999.0" cy="321.3" r="2.4"/><circle cx="1001.8" cy="320.0" r="2.4"/><circle cx="1004.5" cy="318.7" r="2.4"/><circle cx="1007.1" cy="317.4" r="2.4"/><circle cx="1009.8" cy="316.1" r="2.4"/><circle cx="1012.4" cy="314.7" r="2.4"/><circle cx="1014.9" cy="313.4" r="2.4"/><circle cx="1017.4" cy="312.1" r="2.4"/><circle cx="1019.8" cy="310.8" r="2.4"/><circle cx="1022.2" cy="309.5" r="2.4"/><circle cx="1024.5" cy="308.2" r="2.4"/><circle cx="1026.8" cy="306.9" r="2.4"/><circle cx="1029.0" cy="305.6" r="2.4"/><circle cx="1031.1" cy="304.3" r="2.4"/><circle cx="1033.1" cy="303.0" r="2.4"/><circle cx="1035.1" cy="301.6" r="2.4"/><circle cx="1036.9" cy="300.3" r="2.4"/><circle cx="1038.7" cy="299.0" r="2.4"/><circle cx="1040.4" cy="297.7" r="2.4"/><circle cx="1042.0" cy="296.4" r="2.4"/><circle cx="1043.5" cy="295.1" r="2.4"/><circle cx="1044.9" cy="293.8" r="2.4"/><circle cx="1046.2" cy="292.5" r="2.4"/><circle cx="1047.4" cy="291.2" r="2.4"/><circle cx="1048.5" cy="289.9" r="2.4"/><circle cx="1049.4" cy="288.5" r="2.4"/><circle cx="1050.3" cy="287.2" r="2.4"/><circle cx="1051.0" cy="285.9" r="2.4"/><circle cx="1051.7" cy="284.6" r="2.4"/><circle cx="1052.2" cy="283.3" r="2.4"/><circle cx="1052.6" cy="282.0" r="2.4"/><circle cx="1052.9" cy="280.7" r="2.4"/><circle cx="1053.1" cy="279.4" r="2.4"/><circle cx="1053.1" cy="278.1" r="2.4"/><circle cx="1053.0" cy="276.7" r="2.4"/><circle cx="1052.9" cy="275.4" r="2.4"/><circle cx="1052.5" cy="274.1" r="2.4"/><circle cx="1052.1" cy="272.8" r="2.4"/><circle cx="1051.6" cy="271.5" r="2.4"/><circle cx="1050.9" cy="270.2" r="2.4"/><circle cx="1050.2" cy="268.9" r="2.4"/><circle cx="1049.3" cy="267.6" r="2.4"/><circle cx="1048.3" cy="266.3" r="2.4"/><circle cx="1047.2" cy="265.0" r="2.4"/><circle cx="1046.0" cy="263.6" r="2.4"/><circle cx="1044.7" cy="262.3" r="2.4"/><circle cx="1043.3" cy="261.0" r="2.4"/><circle cx="1041.8" cy="259.7" r="2.4"/><circle cx="1040.2" cy="258.4" r="2.4"/><circle cx="1038.5" cy="257.1" r="2.4"/><circle cx="1036.7" cy="255.8" r="2.4"/><circle cx="1034.8" cy="254.5" r="2.4"/><circle cx="1032.8" cy="253.2" r="2.4"/><circle cx="1030.8" cy="251.8" r="2.4"/><circle cx="1028.6" cy="250.5" r="2.4"/><circle cx="1026.5" cy="249.2" r="2.4"/><circle cx="1024.2" cy="247.9" r="2.4"/><circle cx="1021.9" cy="246.6" r="2.4"/><circle cx="1019.5" cy="245.3" r="2.4"/><circle cx="1017.0" cy="244.0" r="2.4"/><circle cx="1014.5" cy="242.7" r="2.4"/><circle cx="1012.0" cy="241.4" r="2.4"/><circle cx="1009.4" cy="240.1" r="2.4"/><circle cx="1006.7" cy="238.7" r="2.4"/><circle cx="1004.1" cy="237.4" r="2.4"/><circle cx="1001.4" cy="236.1" r="2.4"/><circle cx="998.6" cy="234.8" r="2.4"/><circle cx="995.9" cy="233.5" r="2.4"/><circle cx="993.1" cy="232.2" r="2.4"/><circle cx="990.3" cy="230.9" r="2.4"/><circle cx="987.5" cy="229.6" r="2.4"/><circle cx="984.7" cy="228.3" r="2.4"/><circle cx="981.9" cy="226.9" r="2.4"/><circle cx="979.1" cy="225.6" r="2.4"/><circle cx="976.2" cy="224.3" r="2.4"/><circle cx="973.4" cy="223.0" r="2.4"/><circle cx="970.6" cy="221.7" r="2.4"/><circle cx="967.8" cy="220.4" r="2.4"/><circle cx="965.1" cy="219.1" r="2.4"/><circle cx="962.3" cy="217.8" r="2.4"/><circle cx="959.6" cy="216.5" r="2.4"/><circle cx="956.9" cy="215.2" r="2.4"/><circle cx="954.2" cy="213.8" r="2.4"/><circle cx="951.6" cy="212.5" r="2.4"/><circle cx="948.9" cy="211.2" r="2.4"/><circle cx="946.4" cy="209.9" r="2.4"/><circle cx="943.8" cy="208.6" r="2.4"/><circle cx="941.3" cy="207.3" r="2.4"/><circle cx="938.8" cy="206.0" r="2.4"/><circle cx="936.4" cy="204.7" r="2.4"/><circle cx="934.1" cy="203.4" r="2.4"/><circle cx="931.7" cy="202.1" r="2.4"/><circle cx="929.4" cy="200.7" r="2.4"/><circle cx="927.2" cy="199.4" r="2.4"/><circle cx="925.0" cy="198.1" r="2.4"/><circle cx="922.9" cy="196.8" r="2.4"/><circle cx="920.8" cy="195.5" r="2.4"/><circle cx="918.8" cy="194.2" r="2.4"/><circle cx="916.8" cy="192.9" r="2.4"/><circle cx="914.8" cy="191.6" r="2.4"/><circle cx="913.0" cy="190.3" r="2.4"/><circle cx="911.1" cy="188.9" r="2.4"/><circle cx="909.4" cy="187.6" r="2.4"/><circle cx="907.7" cy="186.3" r="2.4"/><circle cx="906.0" cy="185.0" r="2.4"/><circle cx="904.4" cy="183.7" r="2.4"/><circle cx="902.8" cy="182.4" r="2.4"/><circle cx="901.3" cy="181.1" r="2.4"/><circle cx="899.8" cy="179.8" r="2.4"/><circle cx="898.4" cy="178.5" r="2.4"/><circle cx="897.1" cy="177.2" r="2.4"/><circle cx="895.8" cy="175.8" r="2.4"/><circle cx="894.5" cy="174.5" r="2.4"/><circle cx="893.3" cy="173.2" r="2.4"/><circle cx="892.1" cy="171.9" r="2.4"/><circle cx="891.0" cy="170.6" r="2.4"/><circle cx="889.9" cy="169.3" r="2.4"/><circle cx="888.9" cy="168.0" r="2.4"/><circle cx="887.9" cy="166.7" r="2.4"/><circle cx="887.0" cy="165.4" r="2.4"/><circle cx="886.0" cy="164.0" r="2.4"/><circle cx="885.2" cy="162.7" r="2.4"/><circle cx="884.3" cy="161.4" r="2.4"/><circle cx="883.6" cy="160.1" r="2.4"/><circle cx="882.8" cy="158.8" r="2.4"/><circle cx="882.1" cy="157.5" r="2.4"/><circle cx="881.4" cy="156.2" r="2.4"/><circle cx="880.7" cy="154.9" r="2.4"/><circle cx="880.1" cy="153.6" r="2.4"/><circle cx="879.5" cy="152.3" r="2.4"/><circle cx="879.0" cy="150.9" r="2.4"/><circle cx="878.4" cy="149.6" r="2.4"/><circle cx="877.9" cy="148.3" r="2.4"/><circle cx="877.5" cy="147.0" r="2.4"/><circle cx="877.0" cy="145.7" r="2.4"/><circle cx="876.6" cy="144.4" r="2.4"/><circle cx="876.2" cy="143.1" r="2.4"/><circle cx="875.8" cy="141.8" r="2.4"/><circle cx="875.4" cy="140.5" r="2.4"/><circle cx="875.1" cy="139.2" r="2.4"/><circle cx="874.8" cy="137.8" r="2.4"/><circle cx="874.5" cy="136.5" r="2.4"/><circle cx="874.2" cy="135.2" r="2.4"/><circle cx="873.9" cy="133.9" r="2.4"/><circle cx="873.7" cy="132.6" r="2.4"/><circle cx="873.4" cy="131.3" r="2.4"/><circle cx="873.2" cy="130.0" r="2.4"/><circle cx="873.0" cy="128.7" r="2.4"/><circle cx="872.8" cy="127.4" r="2.4"/><circle cx="872.6" cy="126.0" r="2.4"/><circle cx="872.5" cy="124.7" r="2.4"/><circle cx="872.3" cy="123.4" r="2.4"/><circle cx="872.2" cy="122.1" r="2.4"/><circle cx="872.0" cy="120.8" r="2.4"/><circle cx="871.9" cy="119.5" r="2.4"/><circle cx="871.8" cy="118.2" r="2.4"/><circle cx="871.7" cy="116.9" r="2.4"/><circle cx="871.6" cy="115.6" r="2.4"/><circle cx="871.5" cy="114.3" r="2.4"/><circle cx="871.4" cy="112.9" r="2.4"/><circle cx="871.3" cy="111.6" r="2.4"/></g>
<line x1="872.3" y1="5.6" x2="872.3" y2="410.6" stroke="#6a8bc4" stroke-width="2.8"/>
<path fill="#4a1561" fill-opacity="0.5" d="M870.3 411.3H880.9V408.6H885.2V406.0H890.3V403.4H895.6V400.8H903.6V398.2H916.2V395.6H922.2V392.9H932.0V390.3H943.7V387.7H969.8V385.1H989.5V382.5H1018.3V379.8H1038.0V377.2H1066.7V374.6H1094.7V372.0H1131.2V369.4H1179.2V366.7H1206.5V364.1H1255.6V361.5H1340.3V358.9H1343.5V356.3H1319.7V353.6H1455.5V351.0H1442.3V348.4H1423.3V345.8H1510.1V343.2H1492.8V340.5H1477.6V337.9H1479.2V335.3H1461.6V332.7H1490.3V330.1H1510.5V327.5H1438.4V324.8H1436.5V322.2H1449.9V319.6H1321.3V317.0H1326.8V314.4H1273.8V311.7H1218.8V309.1H1183.1V306.5H1165.6V303.9H1136.4V301.3H1088.4V298.6H1064.6V296.0H1042.2V293.4H1011.5V290.8H991.9V288.2H968.3V285.5H950.4V282.9H940.1V280.3H922.4V277.7H910.4V275.1H902.8V272.4H893.1V269.8H888.5V267.2H885.0V264.6H881.3V262.0H878.9V259.3H876.1V256.7H874.1V254.1H873.7V251.5H872.6V248.9H871.7V246.3H871.5V243.6H870.3Z"/>
<g fill="#4a1561" fill-opacity="0.7" stroke="#4a1561" stroke-width="1.6"><circle cx="880.9" cy="410.4" r="2.4"/><circle cx="882.5" cy="409.1" r="2.4"/><circle cx="884.4" cy="407.8" r="2.4"/><circle cx="886.5" cy="406.5" r="2.4"/><circle cx="888.8" cy="405.2" r="2.4"/><circle cx="891.5" cy="403.9" r="2.4"/><circle cx="894.4" cy="402.5" r="2.4"/><circle cx="897.7" cy="401.2" r="2.4"/><circle cx="901.4" cy="399.9" r="2.4"/><circle cx="905.4" cy="398.6" r="2.4"/><circle cx="909.9" cy="397.3" r="2.4"/><circle cx="914.9" cy="396.0" r="2.4"/><circle cx="920.3" cy="394.7" r="2.4"/><circle cx="926.3" cy="393.4" r="2.4"/><circle cx="932.8" cy="392.1" r="2.4"/><circle cx="939.9" cy="390.8" r="2.4"/><circle cx="947.6" cy="389.4" r="2.4"/><circle cx="955.9" cy="388.1" r="2.4"/><circle cx="964.9" cy="386.8" r="2.4"/><circle cx="974.6" cy="385.5" r="2.4"/><circle cx="984.9" cy="384.2" r="2.4"/><circle cx="995.9" cy="382.9" r="2.4"/><circle cx="1007.7" cy="381.6" r="2.4"/><circle cx="1020.1" cy="380.3" r="2.4"/><circle cx="1033.3" cy="379.0" r="2.4"/><circle cx="1047.1" cy="377.6" r="2.4"/><circle cx="1061.7" cy="376.3" r="2.4"/><circle cx="1076.9" cy="375.0" r="2.4"/><circle cx="1092.7" cy="373.7" r="2.4"/><circle cx="1109.1" cy="372.4" r="2.4"/><circle cx="1126.1" cy="371.1" r="2.4"/><circle cx="1143.6" cy="369.8" r="2.4"/><circle cx="1161.5" cy="368.5" r="2.4"/><circle cx="1179.7" cy="367.2" r="2.4"/><circle cx="1198.3" cy="365.9" r="2.4"/><circle cx="1217.1" cy="364.5" r="2.4"/><circle cx="1236.0" cy="363.2" r="2.4"/><circle cx="1255.0" cy="361.9" r="2.4"/><circle cx="1273.9" cy="360.6" r="2.4"/><circle cx="1292.6" cy="359.3" r="2.4"/><circle cx="1311.0" cy="358.0" r="2.4"/><circle cx="1329.1" cy="356.7" r="2.4"/><circle cx="1346.7" cy="355.4" r="2.4"/><circle cx="1363.7" cy="354.1" r="2.4"/><circle cx="1379.9" cy="352.8" r="2.4"/><circle cx="1395.4" cy="351.4" r="2.4"/><circle cx="1409.9" cy="350.1" r="2.4"/><circle cx="1423.3" cy="348.8" r="2.4"/><circle cx="1435.7" cy="347.5" r="2.4"/><circle cx="1446.8" cy="346.2" r="2.4"/><circle cx="1456.6" cy="344.9" r="2.4"/><circle cx="1465.1" cy="343.6" r="2.4"/><circle cx="1472.1" cy="342.3" r="2.4"/><circle cx="1477.6" cy="341.0" r="2.4"/><circle cx="1481.6" cy="339.6" r="2.4"/><circle cx="1484.1" cy="338.3" r="2.4"/><circle cx="1484.9" cy="337.0" r="2.4"/><circle cx="1484.2" cy="335.7" r="2.4"/><circle cx="1481.8" cy="334.4" r="2.4"/><circle cx="1477.9" cy="333.1" r="2.4"/><circle cx="1472.5" cy="331.8" r="2.4"/><circle cx="1465.6" cy="330.5" r="2.4"/><circle cx="1457.2" cy="329.2" r="2.4"/><circle cx="1447.5" cy="327.9" r="2.4"/><circle cx="1436.5" cy="326.5" r="2.4"/><circle cx="1424.2" cy="325.2" r="2.4"/><circle cx="1410.8" cy="323.9" r="2.4"/><circle cx="1396.3" cy="322.6" r="2.4"/><circle cx="1381.0" cy="321.3" r="2.4"/><circle cx="1364.8" cy="320.0" r="2.4"/><circle cx="1347.8" cy="318.7" r="2.4"/><circle cx="1330.3" cy="317.4" r="2.4"/><circle cx="1312.2" cy="316.1" r="2.4"/><circle cx="1293.8" cy="314.7" r="2.4"/><circle cx="1275.1" cy="313.4" r="2.4"/><circle cx="1256.2" cy="312.1" r="2.4"/><circle cx="1237.3" cy="310.8" r="2.4"/><circle cx="1218.3" cy="309.5" r="2.4"/><circle cx="1199.5" cy="308.2" r="2.4"/><circle cx="1180.9" cy="306.9" r="2.4"/><circle cx="1162.6" cy="305.6" r="2.4"/><circle cx="1144.7" cy="304.3" r="2.4"/><circle cx="1127.2" cy="303.0" r="2.4"/><circle cx="1110.2" cy="301.6" r="2.4"/><circle cx="1093.8" cy="300.3" r="2.4"/><circle cx="1077.9" cy="299.0" r="2.4"/><circle cx="1062.7" cy="297.7" r="2.4"/><circle cx="1048.1" cy="296.4" r="2.4"/><circle cx="1034.2" cy="295.1" r="2.4"/><circle cx="1021.0" cy="293.8" r="2.4"/><circle cx="1008.5" cy="292.5" r="2.4"/><circle cx="996.7" cy="291.2" r="2.4"/><circle cx="985.6" cy="289.9" r="2.4"/><circle cx="975.2" cy="288.5" r="2.4"/><circle cx="965.5" cy="287.2" r="2.4"/><circle cx="956.5" cy="285.9" r="2.4"/><circle cx="948.1" cy="284.6" r="2.4"/><circle cx="940.4" cy="283.3" r="2.4"/><circle cx="933.3" cy="282.0" r="2.4"/><circle cx="926.7" cy="280.7" r="2.4"/><circle cx="920.7" cy="279.4" r="2.4"/><circle cx="915.2" cy="278.1" r="2.4"/><circle cx="910.3" cy="276.7" r="2.4"/><circle cx="905.7" cy="275.4" r="2.4"/><circle cx="901.6" cy="274.1" r="2.4"/><circle cx="897.9" cy="272.8" r="2.4"/><circle cx="894.6" cy="271.5" r="2.4"/><circle cx="891.6" cy="270.2" r="2.4"/><circle cx="889.0" cy="268.9" r="2.4"/><circle cx="886.6" cy="267.6" r="2.4"/><circle cx="884.5" cy="266.3" r="2.4"/><circle cx="882.6" cy="265.0" r="2.4"/><circle cx="881.0" cy="263.6" r="2.4"/><circle cx="879.5" cy="262.3" r="2.4"/><circle cx="878.3" cy="261.0" r="2.4"/><circle cx="877.1" cy="259.7" r="2.4"/><circle cx="876.2" cy="258.4" r="2.4"/><circle cx="875.3" cy="257.1" r="2.4"/><circle cx="874.6" cy="255.8" r="2.4"/><circle cx="873.9" cy="254.5" r="2.4"/><circle cx="873.4" cy="253.2" r="2.4"/><circle cx="872.9" cy="251.8" r="2.4"/><circle cx="872.5" cy="250.5" r="2.4"/><circle cx="872.2" cy="249.2" r="2.4"/><circle cx="871.9" cy="247.9" r="2.4"/><circle cx="871.6" cy="246.6" r="2.4"/><circle cx="871.4" cy="245.3" r="2.4"/></g>
<line x1="872.3" y1="5.6" x2="872.3" y2="410.6" stroke="#4a1561" stroke-width="2.8"/>
<path fill="#88284f" fill-opacity="0.5" d="M870.3 186.0H870.3V190.9H881.9V194.3H872.6V198.5H879.6V204.0H874.9V211.0H886.5V215.0H896.9V221.3H918.9V224.8H898.1V227.6H909.6V230.4H905.0V234.5H941.3V237.3H932.8V241.4H958.2V244.2H986.0V247.0H962.3V251.0H981.8V253.9H1001.8V256.8H1025.0V259.7H1096.3V262.6H1088.3V265.5H1130.3V268.4H1221.1V271.3H1260.7V274.2H1250.9V277.1H1279.7V280.0H1312.7V282.9H1362.9V285.8H1347.1V288.7H1352.9V291.6H1305.7V294.5H1420.3V297.4H1393.3V300.3H1311.7V303.2H1348.4V306.1H1347.3V309.0H1211.0V311.9H1204.6V314.8H1166.8V317.7H1146.7V320.6H1088.3V323.5H1059.2V326.4H1047.2V329.3H1020.9V332.2H986.0V335.1H955.8V337.9H940.4V340.8H925.2V343.7H912.4V346.6H900.8V349.5H896.9V352.4H887.2V355.3H882.5V358.2H878.1V361.1H876.5V364.0H870.3Z"/>
<g fill="#88284f" fill-opacity="0.7" stroke="#88284f" stroke-width="1.6"><circle cx="871.4" cy="375.0" r="2.4"/><circle cx="871.6" cy="373.7" r="2.4"/><circle cx="871.9" cy="372.4" r="2.4"/><circle cx="872.2" cy="371.1" r="2.4"/><circle cx="872.6" cy="369.8" r="2.4"/><circle cx="873.1" cy="368.5" r="2.4"/><circle cx="873.6" cy="367.2" r="2.4"/><circle cx="874.3" cy="365.9" r="2.4"/><circle cx="875.0" cy="364.5" r="2.4"/><circle cx="875.9" cy="363.2" r="2.4"/><circle cx="876.9" cy="361.9" r="2.4"/><circle cx="878.0" cy="360.6" r="2.4"/><circle cx="879.4" cy="359.3" r="2.4"/><circle cx="880.9" cy="358.0" r="2.4"/><circle cx="882.7" cy="356.7" r="2.4"/><circle cx="884.7" cy="355.4" r="2.4"/><circle cx="887.0" cy="354.1" r="2.4"/><circle cx="889.6" cy="352.8" r="2.4"/><circle cx="892.5" cy="351.4" r="2.4"/><circle cx="895.8" cy="350.1" r="2.4"/><circle cx="899.4" cy="348.8" r="2.4"/><circle cx="903.5" cy="347.5" r="2.4"/><circle cx="908.1" cy="346.2" r="2.4"/><circle cx="913.1" cy="344.9" r="2.4"/><circle cx="918.7" cy="343.6" r="2.4"/><circle cx="924.8" cy="342.3" r="2.4"/><circle cx="931.5" cy="341.0" r="2.4"/><circle cx="938.8" cy="339.6" r="2.4"/><circle cx="946.7" cy="338.3" r="2.4"/><circle cx="955.3" cy="337.0" r="2.4"/><circle cx="964.6" cy="335.7" r="2.4"/><circle cx="974.5" cy="334.4" r="2.4"/><circle cx="985.1" cy="333.1" r="2.4"/><circle cx="996.4" cy="331.8" r="2.4"/><circle cx="1008.4" cy="330.5" r="2.4"/><circle cx="1021.0" cy="329.2" r="2.4"/><circle cx="1034.3" cy="327.9" r="2.4"/><circle cx="1048.3" cy="326.5" r="2.4"/><circle cx="1062.7" cy="325.2" r="2.4"/><circle cx="1077.7" cy="323.9" r="2.4"/><circle cx="1093.2" cy="322.6" r="2.4"/><circle cx="1109.1" cy="321.3" r="2.4"/><circle cx="1125.3" cy="320.0" r="2.4"/><circle cx="1141.8" cy="318.7" r="2.4"/><circle cx="1158.4" cy="317.4" r="2.4"/><circle cx="1175.1" cy="316.1" r="2.4"/><circle cx="1191.8" cy="314.7" r="2.4"/><circle cx="1208.3" cy="313.4" r="2.4"/><circle cx="1224.5" cy="312.1" r="2.4"/><circle cx="1240.3" cy="310.8" r="2.4"/><circle cx="1255.7" cy="309.5" r="2.4"/><circle cx="1270.4" cy="308.2" r="2.4"/><circle cx="1284.4" cy="306.9" r="2.4"/><circle cx="1297.5" cy="305.6" r="2.4"/><circle cx="1309.7" cy="304.3" r="2.4"/><circle cx="1320.8" cy="303.0" r="2.4"/><circle cx="1330.7" cy="301.6" r="2.4"/><circle cx="1339.4" cy="300.3" r="2.4"/><circle cx="1346.7" cy="299.0" r="2.4"/><circle cx="1352.7" cy="297.7" r="2.4"/><circle cx="1357.2" cy="296.4" r="2.4"/><circle cx="1360.2" cy="295.1" r="2.4"/><circle cx="1361.6" cy="293.8" r="2.4"/><circle cx="1361.6" cy="292.5" r="2.4"/><circle cx="1360.0" cy="291.2" r="2.4"/><circle cx="1356.8" cy="289.9" r="2.4"/><circle cx="1352.2" cy="288.5" r="2.4"/><circle cx="1346.1" cy="287.2" r="2.4"/><circle cx="1338.7" cy="285.9" r="2.4"/><circle cx="1329.9" cy="284.6" r="2.4"/><circle cx="1319.8" cy="283.3" r="2.4"/><circle cx="1308.6" cy="282.0" r="2.4"/><circle cx="1296.4" cy="280.7" r="2.4"/><circle cx="1283.2" cy="279.4" r="2.4"/><circle cx="1269.1" cy="278.1" r="2.4"/><circle cx="1254.3" cy="276.7" r="2.4"/><circle cx="1239.0" cy="275.4" r="2.4"/><circle cx="1223.1" cy="274.1" r="2.4"/><circle cx="1206.8" cy="272.8" r="2.4"/><circle cx="1190.3" cy="271.5" r="2.4"/><circle cx="1173.7" cy="270.2" r="2.4"/><circle cx="1157.0" cy="268.9" r="2.4"/><circle cx="1140.4" cy="267.6" r="2.4"/><circle cx="1123.9" cy="266.3" r="2.4"/><circle cx="1107.7" cy="265.0" r="2.4"/><circle cx="1091.9" cy="263.6" r="2.4"/><circle cx="1076.4" cy="262.3" r="2.4"/><circle cx="1061.4" cy="261.0" r="2.4"/><circle cx="1047.0" cy="259.7" r="2.4"/><circle cx="1033.1" cy="258.4" r="2.4"/><circle cx="1019.9" cy="257.1" r="2.4"/><circle cx="1007.3" cy="255.8" r="2.4"/><circle cx="995.4" cy="254.5" r="2.4"/><circle cx="984.1" cy="253.2" r="2.4"/><circle cx="973.6" cy="251.8" r="2.4"/><circle cx="963.7" cy="250.5" r="2.4"/><circle cx="954.5" cy="249.2" r="2.4"/><circle cx="946.0" cy="247.9" r="2.4"/><circle cx="938.1" cy="246.6" r="2.4"/><circle cx="930.9" cy="245.3" r="2.4"/><circle cx="924.2" cy="244.0" r="2.4"/><circle cx="918.2" cy="242.7" r="2.4"/><circle cx="912.6" cy="241.4" r="2.4"/><circle cx="907.6" cy="240.1" r="2.4"/><circle cx="903.1" cy="238.7" r="2.4"/><circle cx="899.1" cy="237.4" r="2.4"/><circle cx="895.4" cy="236.1" r="2.4"/><circle cx="892.2" cy="234.8" r="2.4"/><circle cx="889.3" cy="233.5" r="2.4"/><circle cx="886.8" cy="232.2" r="2.4"/><circle cx="884.5" cy="230.9" r="2.4"/><circle cx="882.5" cy="229.6" r="2.4"/><circle cx="880.8" cy="228.3" r="2.4"/><circle cx="879.3" cy="226.9" r="2.4"/><circle cx="877.9" cy="225.6" r="2.4"/><circle cx="876.8" cy="224.3" r="2.4"/><circle cx="875.8" cy="223.0" r="2.4"/><circle cx="874.9" cy="221.7" r="2.4"/><circle cx="874.2" cy="220.4" r="2.4"/><circle cx="873.6" cy="219.1" r="2.4"/><circle cx="873.0" cy="217.8" r="2.4"/><circle cx="872.6" cy="216.5" r="2.4"/><circle cx="872.2" cy="215.2" r="2.4"/><circle cx="871.9" cy="213.8" r="2.4"/><circle cx="871.6" cy="212.5" r="2.4"/><circle cx="871.4" cy="211.2" r="2.4"/></g>
<line x1="872.3" y1="5.6" x2="872.3" y2="410.6" stroke="#88284f" stroke-width="2.8"/>
<path fill="#c99f84" fill-opacity="0.5" d="M870.3 379.1H873.1V377.2H874.0V375.4H876.3V373.6H879.2V371.8H883.9V369.9H886.5V368.1H895.3V366.3H904.2V364.5H910.8V362.6H925.2V360.8H950.7V359.0H971.8V357.2H990.1V355.3H1012.4V353.5H1051.8V351.7H1068.8V349.9H1104.2V348.0H1126.2V346.2H1180.6V344.4H1216.4V342.6H1308.8V340.7H1283.3V338.9H1359.1V337.1H1388.1V335.3H1356.9V333.4H1416.7V331.6H1308.5V329.8H1380.0V328.0H1395.7V326.1H1281.2V324.3H1287.2V322.5H1326.0V320.7H1254.1V318.8H1197.7V317.0H1178.9V315.2H1138.6V313.4H1124.4V311.5H1083.3V309.7H1040.5V307.9H1007.4V306.1H987.2V304.2H973.3V302.4H946.7V300.6H931.1V298.8H914.5V296.9H901.0V295.1H894.2V293.3H889.6V291.5H883.7V289.6H879.2V287.8H876.2V286.0H874.9V284.2H873.3V282.3H872.3V280.5H871.6V278.7H871.2V276.9H870.3Z"/>
<g fill="#c99f84" fill-opacity="0.7" stroke="#c99f84" stroke-width="1.6"><circle cx="871.3" cy="382.9" r="2.4"/><circle cx="871.6" cy="381.6" r="2.4"/><circle cx="872.1" cy="380.3" r="2.4"/><circle cx="872.7" cy="379.0" r="2.4"/><circle cx="873.5" cy="377.6" r="2.4"/><circle cx="874.5" cy="376.3" r="2.4"/><circle cx="875.7" cy="375.0" r="2.4"/><circle cx="877.4" cy="373.7" r="2.4"/><circle cx="879.4" cy="372.4" r="2.4"/><circle cx="882.0" cy="371.1" r="2.4"/><circle cx="885.1" cy="369.8" r="2.4"/><circle cx="888.9" cy="368.5" r="2.4"/><circle cx="893.6" cy="367.2" r="2.4"/><circle cx="899.2" cy="365.9" r="2.4"/><circle cx="905.8" cy="364.5" r="2.4"/><circle cx="913.6" cy="363.2" r="2.4"/><circle cx="922.8" cy="361.9" r="2.4"/><circle cx="933.3" cy="360.6" r="2.4"/><circle cx="945.4" cy="359.3" r="2.4"/><circle cx="959.2" cy="358.0" r="2.4"/><circle cx="974.6" cy="356.7" r="2.4"/><circle cx="991.7" cy="355.4" r="2.4"/><circle cx="1010.6" cy="354.1" r="2.4"/><circle cx="1031.1" cy="352.8" r="2.4"/><circle cx="1053.2" cy="351.4" r="2.4"/><circle cx="1076.7" cy="350.1" r="2.4"/><circle cx="1101.4" cy="348.8" r="2.4"/><circle cx="1127.1" cy="347.5" r="2.4"/><circle cx="1153.3" cy="346.2" r="2.4"/><circle cx="1179.8" cy="344.9" r="2.4"/><circle cx="1206.2" cy="343.6" r="2.4"/><circle cx="1232.0" cy="342.3" r="2.4"/><circle cx="1256.7" cy="341.0" r="2.4"/><circle cx="1279.9" cy="339.6" r="2.4"/><circle cx="1301.1" cy="338.3" r="2.4"/><circle cx="1319.8" cy="337.0" r="2.4"/><circle cx="1335.8" cy="335.7" r="2.4"/><circle cx="1348.5" cy="334.4" r="2.4"/><circle cx="1357.7" cy="333.1" r="2.4"/><circle cx="1363.3" cy="331.8" r="2.4"/><circle cx="1365.0" cy="330.5" r="2.4"/><circle cx="1362.9" cy="329.2" r="2.4"/><circle cx="1357.0" cy="327.9" r="2.4"/><circle cx="1347.3" cy="326.5" r="2.4"/><circle cx="1334.3" cy="325.2" r="2.4"/><circle cx="1318.0" cy="323.9" r="2.4"/><circle cx="1299.0" cy="322.6" r="2.4"/><circle cx="1277.6" cy="321.3" r="2.4"/><circle cx="1254.2" cy="320.0" r="2.4"/><circle cx="1229.3" cy="318.7" r="2.4"/><circle cx="1203.5" cy="317.4" r="2.4"/><circle cx="1177.1" cy="316.1" r="2.4"/><circle cx="1150.6" cy="314.7" r="2.4"/><circle cx="1124.4" cy="313.4" r="2.4"/><circle cx="1098.8" cy="312.1" r="2.4"/><circle cx="1074.2" cy="310.8" r="2.4"/><circle cx="1050.8" cy="309.5" r="2.4"/><circle cx="1028.9" cy="308.2" r="2.4"/><circle cx="1008.6" cy="306.9" r="2.4"/><circle cx="989.9" cy="305.6" r="2.4"/><circle cx="972.9" cy="304.3" r="2.4"/><circle cx="957.7" cy="303.0" r="2.4"/><circle cx="944.1" cy="301.6" r="2.4"/><circle cx="932.2" cy="300.3" r="2.4"/><circle cx="921.8" cy="299.0" r="2.4"/><circle cx="912.8" cy="297.7" r="2.4"/><circle cx="905.1" cy="296.4" r="2.4"/><circle cx="898.5" cy="295.1" r="2.4"/><circle cx="893.1" cy="293.8" r="2.4"/><circle cx="888.5" cy="292.5" r="2.4"/><circle cx="884.7" cy="291.2" r="2.4"/><circle cx="881.7" cy="289.9" r="2.4"/><circle cx="879.2" cy="288.5" r="2.4"/><circle cx="877.2" cy="287.2" r="2.4"/><circle cx="875.6" cy="285.9" r="2.4"/><circle cx="874.3" cy="284.6" r="2.4"/><circle cx="873.4" cy="283.3" r="2.4"/><circle cx="872.6" cy="282.0" r="2.4"/><circle cx="872.0" cy="280.7" r="2.4"/><circle cx="871.6" cy="279.4" r="2.4"/><circle cx="871.2" cy="278.1" r="2.4"/></g>
<line x1="872.3" y1="5.6" x2="872.3" y2="410.6" stroke="#d9a98e" stroke-width="2.8"/>
</g>
<clipPath id="cpc"><rect x="117.4" y="539.4" width="709.6" height="405.5"/></clipPath><g clip-path="url(#cpc)">
<path fill="#6a8bc4" fill-opacity="0.5" d="M113.1 944.9V941.5H122.1V939.5H131.1V938.4H140.1V939.3H149.2V937.8H158.2V936.8H167.2V932.6H176.2V932.1H185.2V927.2H194.2V934.4H203.2V917.5H212.3V922.1H221.3V914.5H230.3V916.0H239.3V914.4H248.3V904.2H257.3V897.0H266.3V902.7H275.3V898.7H284.4V885.9H293.4V900.8H302.4V906.5H311.4V879.4H320.4V891.6H329.4V907.7H338.4V890.9H347.5V885.1H356.5V895.5H365.5V900.0H374.5V878.3H383.5V867.3H392.5V885.1H401.5V894.0H410.6V881.7H419.6V880.9H428.6V896.3H437.6V890.5H446.6V889.5H455.6V905.4H464.6V913.9H473.6V908.2H482.7V912.6H491.7V911.1H500.7V927.7H509.7V926.9H518.7V930.0H527.7V935.2H536.7V931.1H545.8V932.2H554.8V936.9H563.8V934.5H572.8V937.1H581.8V938.8H590.8V940.1H599.8V940.6H608.9V942.9H617.9V942.3H626.9V942.9H635.9V944.9Z"/>
<g fill="#6a8bc4" fill-opacity="0.7" stroke="#6a8bc4" stroke-width="1.6"><circle cx="117.4" cy="941.7" r="2.4"/><circle cx="119.8" cy="941.5" r="2.4"/><circle cx="122.2" cy="941.3" r="2.4"/><circle cx="124.6" cy="941.1" r="2.4"/><circle cx="126.9" cy="940.8" r="2.4"/><circle cx="129.3" cy="940.6" r="2.4"/><circle cx="131.7" cy="940.4" r="2.4"/><circle cx="134.0" cy="940.1" r="2.4"/><circle cx="136.4" cy="939.9" r="2.4"/><circle cx="138.8" cy="939.6" r="2.4"/><circle cx="141.2" cy="939.3" r="2.4"/><circle cx="143.5" cy="939.0" r="2.4"/><circle cx="145.9" cy="938.7" r="2.4"/><circle cx="148.3" cy="938.4" r="2.4"/><circle cx="150.7" cy="938.0" r="2.4"/><circle cx="153.0" cy="937.7" r="2.4"/><circle cx="155.4" cy="937.3" r="2.4"/><circle cx="157.8" cy="936.9" r="2.4"/><circle cx="160.2" cy="936.5" r="2.4"/><circle cx="162.5" cy="936.1" r="2.4"/><circle cx="164.9" cy="935.7" r="2.4"/><circle cx="167.3" cy="935.2" r="2.4"/><circle cx="169.6" cy="934.8" r="2.4"/><circle cx="172.0" cy="934.3" r="2.4"/><circle cx="174.4" cy="933.8" r="2.4"/><circle cx="176.8" cy="933.3" r="2.4"/><circle cx="179.1" cy="932.8" r="2.4"/><circle cx="181.5" cy="932.3" r="2.4"/><circle cx="183.9" cy="931.7" r="2.4"/><circle cx="186.3" cy="931.2" r="2.4"/><circle cx="188.6" cy="930.6" r="2.4"/><circle cx="191.0" cy="930.0" r="2.4"/><circle cx="193.4" cy="929.4" r="2.4"/><circle cx="195.8" cy="928.7" r="2.4"/><circle cx="198.1" cy="928.1" r="2.4"/><circle cx="200.5" cy="927.4" r="2.4"/><circle cx="202.9" cy="926.8" r="2.4"/><circle cx="205.2" cy="926.1" r="2.4"/><circle cx="207.6" cy="925.4" r="2.4"/><circle cx="210.0" cy="924.6" r="2.4"/><circle cx="212.4" cy="923.9" r="2.4"/><circle cx="214.7" cy="923.1" r="2.4"/><circle cx="217.1" cy="922.4" r="2.4"/><circle cx="219.5" cy="921.6" r="2.4"/><circle cx="221.9" cy="920.8" r="2.4"/><circle cx="224.2" cy="920.0" r="2.4"/><circle cx="226.6" cy="919.2" r="2.4"/><circle cx="229.0" cy="918.3" r="2.4"/><circle cx="231.4" cy="917.5" r="2.4"/><circle cx="233.7" cy="916.6" r="2.4"/><circle cx="236.1" cy="915.8" r="2.4"/><circle cx="238.5" cy="914.9" r="2.4"/><circle cx="240.8" cy="914.0" r="2.4"/><circle cx="243.2" cy="913.1" r="2.4"/><circle cx="245.6" cy="912.2" r="2.4"/><circle cx="248.0" cy="911.3" r="2.4"/><circle cx="250.3" cy="910.4" r="2.4"/><circle cx="252.7" cy="909.5" r="2.4"/><circle cx="255.1" cy="908.5" r="2.4"/><circle cx="257.5" cy="907.6" r="2.4"/><circle cx="259.8" cy="906.7" r="2.4"/><circle cx="262.2" cy="905.8" r="2.4"/><circle cx="264.6" cy="904.8" r="2.4"/><circle cx="266.9" cy="903.9" r="2.4"/><circle cx="269.3" cy="903.0" r="2.4"/><circle cx="271.7" cy="902.1" r="2.4"/><circle cx="274.1" cy="901.1" r="2.4"/><circle cx="276.4" cy="900.2" r="2.4"/><circle cx="278.8" cy="899.3" r="2.4"/><circle cx="281.2" cy="898.4" r="2.4"/><circle cx="283.6" cy="897.5" r="2.4"/><circle cx="285.9" cy="896.7" r="2.4"/><circle cx="288.3" cy="895.8" r="2.4"/><circle cx="290.7" cy="894.9" r="2.4"/><circle cx="293.1" cy="894.1" r="2.4"/><circle cx="295.4" cy="893.3" r="2.4"/><circle cx="297.8" cy="892.5" r="2.4"/><circle cx="300.2" cy="891.7" r="2.4"/><circle cx="302.5" cy="890.9" r="2.4"/><circle cx="304.9" cy="890.2" r="2.4"/><circle cx="307.3" cy="889.4" r="2.4"/><circle cx="309.7" cy="888.7" r="2.4"/><circle cx="312.0" cy="888.0" r="2.4"/><circle cx="314.4" cy="887.4" r="2.4"/><circle cx="316.8" cy="886.7" r="2.4"/><circle cx="319.2" cy="886.1" r="2.4"/><circle cx="321.5" cy="885.5" r="2.4"/><circle cx="323.9" cy="885.0" r="2.4"/><circle cx="326.3" cy="884.4" r="2.4"/><circle cx="328.7" cy="883.9" r="2.4"/><circle cx="331.0" cy="883.5" r="2.4"/><circle cx="333.4" cy="883.0" r="2.4"/><circle cx="335.8" cy="882.6" r="2.4"/><circle cx="338.1" cy="882.3" r="2.4"/><circle cx="340.5" cy="881.9" r="2.4"/><circle cx="342.9" cy="881.6" r="2.4"/><circle cx="345.3" cy="881.3" r="2.4"/><circle cx="347.6" cy="881.1" r="2.4"/><circle cx="350.0" cy="880.9" r="2.4"/><circle cx="352.4" cy="880.7" r="2.4"/><circle cx="354.8" cy="880.6" r="2.4"/><circle cx="357.1" cy="880.5" r="2.4"/><circle cx="359.5" cy="880.5" r="2.4"/><circle cx="361.9" cy="880.4" r="2.4"/><circle cx="364.3" cy="880.5" r="2.4"/><circle cx="366.6" cy="880.5" r="2.4"/><circle cx="369.0" cy="880.6" r="2.4"/><circle cx="371.4" cy="880.7" r="2.4"/><circle cx="373.7" cy="880.9" r="2.4"/><circle cx="376.1" cy="881.1" r="2.4"/><circle cx="378.5" cy="881.3" r="2.4"/><circle cx="380.9" cy="881.6" r="2.4"/><circle cx="383.2" cy="881.9" r="2.4"/><circle cx="385.6" cy="882.2" r="2.4"/><circle cx="388.0" cy="882.6" r="2.4"/><circle cx="390.4" cy="883.0" r="2.4"/><circle cx="392.7" cy="883.4" r="2.4"/><circle cx="395.1" cy="883.9" r="2.4"/><circle cx="397.5" cy="884.4" r="2.4"/><circle cx="399.8" cy="884.9" r="2.4"/><circle cx="402.2" cy="885.5" r="2.4"/><circle cx="404.6" cy="886.0" r="2.4"/><circle cx="407.0" cy="886.7" r="2.4"/><circle cx="409.3" cy="887.3" r="2.4"/><circle cx="411.7" cy="887.9" r="2.4"/><circle cx="414.1" cy="888.6" r="2.4"/><circle cx="416.5" cy="889.3" r="2.4"/><circle cx="418.8" cy="890.1" r="2.4"/><circle cx="421.2" cy="890.8" r="2.4"/><circle cx="423.6" cy="891.6" r="2.4"/><circle cx="426.0" cy="892.4" r="2.4"/><circle cx="428.3" cy="893.2" r="2.4"/><circle cx="430.7" cy="894.0" r="2.4"/><circle cx="433.1" cy="894.8" r="2.4"/><circle cx="435.4" cy="895.7" r="2.4"/><circle cx="437.8" cy="896.6" r="2.4"/><circle cx="440.2" cy="897.4" r="2.4"/><circle cx="442.6" cy="898.3" r="2.4"/><circle cx="444.9" cy="899.2" r="2.4"/><circle cx="447.3" cy="900.1" r="2.4"/><circle cx="449.7" cy="901.0" r="2.4"/><circle cx="452.1" cy="902.0" r="2.4"/><circle cx="454.4" cy="902.9" r="2.4"/><circle cx="456.8" cy="903.8" r="2.4"/><circle cx="459.2" cy="904.7" r="2.4"/><circle cx="461.6" cy="905.7" r="2.4"/><circle cx="463.9" cy="906.6" r="2.4"/><circle cx="466.3" cy="907.5" r="2.4"/><circle cx="468.7" cy="908.4" r="2.4"/><circle cx="471.0" cy="909.4" r="2.4"/><circle cx="473.4" cy="910.3" r="2.4"/><circle cx="475.8" cy="911.2" r="2.4"/><circle cx="478.2" cy="912.1" r="2.4"/><circle cx="480.5" cy="913.0" r="2.4"/><circle cx="482.9" cy="913.9" r="2.4"/><circle cx="485.3" cy="914.8" r="2.4"/><circle cx="487.7" cy="915.7" r="2.4"/><circle cx="490.0" cy="916.5" r="2.4"/><circle cx="492.4" cy="917.4" r="2.4"/><circle cx="494.8" cy="918.2" r="2.4"/><circle cx="497.2" cy="919.1" r="2.4"/><circle cx="499.5" cy="919.9" r="2.4"/><circle cx="501.9" cy="920.7" r="2.4"/><circle cx="504.3" cy="921.5" r="2.4"/><circle cx="506.6" cy="922.3" r="2.4"/><circle cx="509.0" cy="923.1" r="2.4"/><circle cx="511.4" cy="923.8" r="2.4"/><circle cx="513.8" cy="924.5" r="2.4"/><circle cx="516.1" cy="925.3" r="2.4"/><circle cx="518.5" cy="926.0" r="2.4"/><circle cx="520.9" cy="926.7" r="2.4"/><circle cx="523.3" cy="927.4" r="2.4"/><circle cx="525.6" cy="928.0" r="2.4"/><circle cx="528.0" cy="928.7" r="2.4"/><circle cx="530.4" cy="929.3" r="2.4"/><circle cx="532.7" cy="929.9" r="2.4"/><circle cx="535.1" cy="930.5" r="2.4"/><circle cx="537.5" cy="931.1" r="2.4"/><circle cx="539.9" cy="931.7" r="2.4"/><circle cx="542.2" cy="932.2" r="2.4"/><circle cx="544.6" cy="932.8" r="2.4"/><circle cx="547.0" cy="933.3" r="2.4"/><circle cx="549.4" cy="933.8" r="2.4"/><circle cx="551.7" cy="934.3" r="2.4"/><circle cx="554.1" cy="934.7" r="2.4"/><circle cx="556.5" cy="935.2" r="2.4"/><circle cx="558.9" cy="935.6" r="2.4"/><circle cx="561.2" cy="936.1" r="2.4"/><circle cx="563.6" cy="936.5" r="2.4"/><circle cx="566.0" cy="936.9" r="2.4"/><circle cx="568.3" cy="937.2" r="2.4"/><circle cx="570.7" cy="937.6" r="2.4"/><circle cx="573.1" cy="938.0" r="2.4"/><circle cx="575.5" cy="938.3" r="2.4"/><circle cx="577.8" cy="938.6" r="2.4"/><circle cx="580.2" cy="939.0" r="2.4"/><circle cx="582.6" cy="939.3" r="2.4"/><circle cx="585.0" cy="939.5" r="2.4"/><circle cx="587.3" cy="939.8" r="2.4"/><circle cx="589.7" cy="940.1" r="2.4"/><circle cx="592.1" cy="940.3" r="2.4"/><circle cx="594.5" cy="940.6" r="2.4"/><circle cx="596.8" cy="940.8" r="2.4"/><circle cx="599.2" cy="941.0" r="2.4"/><circle cx="601.6" cy="941.3" r="2.4"/><circle cx="603.9" cy="941.5" r="2.4"/><circle cx="606.3" cy="941.7" r="2.4"/><circle cx="608.7" cy="941.8" r="2.4"/><circle cx="611.1" cy="942.0" r="2.4"/><circle cx="613.4" cy="942.2" r="2.4"/><circle cx="615.8" cy="942.3" r="2.4"/><circle cx="618.2" cy="942.5" r="2.4"/><circle cx="620.6" cy="942.6" r="2.4"/><circle cx="622.9" cy="942.8" r="2.4"/><circle cx="625.3" cy="942.9" r="2.4"/><circle cx="627.7" cy="943.0" r="2.4"/><circle cx="630.1" cy="943.1" r="2.4"/><circle cx="632.4" cy="943.2" r="2.4"/><circle cx="634.8" cy="943.3" r="2.4"/><circle cx="637.2" cy="943.4" r="2.4"/><circle cx="639.5" cy="943.5" r="2.4"/><circle cx="641.9" cy="943.6" r="2.4"/><circle cx="644.3" cy="943.7" r="2.4"/><circle cx="646.7" cy="943.8" r="2.4"/><circle cx="649.0" cy="943.9" r="2.4"/><circle cx="651.4" cy="943.9" r="2.4"/><circle cx="653.8" cy="944.0" r="2.4"/><circle cx="656.2" cy="944.1" r="2.4"/><circle cx="658.5" cy="944.1" r="2.4"/><circle cx="660.9" cy="944.2" r="2.4"/><circle cx="663.3" cy="944.2" r="2.4"/><circle cx="665.6" cy="944.3" r="2.4"/><circle cx="668.0" cy="944.3" r="2.4"/><circle cx="670.4" cy="944.3" r="2.4"/><circle cx="672.8" cy="944.4" r="2.4"/><circle cx="675.1" cy="944.4" r="2.4"/><circle cx="677.5" cy="944.5" r="2.4"/></g>
<line x1="117.4" y1="943.7" x2="827.0" y2="943.7" stroke="#6a8bc4" stroke-width="2.6"/>
<path fill="#4a1561" fill-opacity="0.5" d="M135.7 944.9V944.6H144.7V936.8H153.7V939.5H162.8V936.0H171.8V938.4H180.8V931.0H189.8V936.2H198.8V931.0H207.9V932.7H216.9V923.1H225.9V921.3H234.9V910.1H243.9V916.6H253.0V921.5H262.0V912.5H271.0V893.1H280.0V867.3H289.0V838.9H298.1V844.0H307.1V802.7H316.1V748.2H325.1V755.1H334.1V709.2H343.2V688.5H352.2V727.5H361.2V670.2H370.2V663.3H379.2V623.1H388.3V633.4H397.3V639.2H406.3V601.3H415.3V625.4H424.3V602.5H433.4V577.2H442.4V646.1H451.4V646.1H460.4V640.3H469.4V630.0H478.5V685.1H487.5V697.7H496.5V713.8H505.5V796.6H514.5V839.3H523.6V821.6H532.6V852.2H541.6V856.7H550.6V888.4H559.6V903.4H568.7V916.9H577.7V915.0H586.7V919.7H595.7V932.1H604.7V935.4H613.8V937.0H622.8V944.9Z"/>
<g fill="#4a1561" fill-opacity="0.7" stroke="#4a1561" stroke-width="1.6"><circle cx="148.3" cy="944.4" r="2.4"/><circle cx="150.7" cy="944.4" r="2.4"/><circle cx="153.0" cy="944.3" r="2.4"/><circle cx="155.4" cy="944.3" r="2.4"/><circle cx="157.8" cy="944.2" r="2.4"/><circle cx="160.2" cy="944.1" r="2.4"/><circle cx="162.5" cy="944.0" r="2.4"/><circle cx="164.9" cy="943.9" r="2.4"/><circle cx="167.3" cy="943.8" r="2.4"/><circle cx="169.6" cy="943.6" r="2.4"/><circle cx="172.0" cy="943.5" r="2.4"/><circle cx="174.4" cy="943.3" r="2.4"/><circle cx="176.8" cy="943.2" r="2.4"/><circle cx="179.1" cy="943.0" r="2.4"/><circle cx="181.5" cy="942.7" r="2.4"/><circle cx="183.9" cy="942.5" r="2.4"/><circle cx="186.3" cy="942.3" r="2.4"/><circle cx="188.6" cy="942.0" r="2.4"/><circle cx="191.0" cy="941.7" r="2.4"/><circle cx="193.4" cy="941.3" r="2.4"/><circle cx="195.8" cy="941.0" r="2.4"/><circle cx="198.1" cy="940.6" r="2.4"/><circle cx="200.5" cy="940.1" r="2.4"/><circle cx="202.9" cy="939.7" r="2.4"/><circle cx="205.2" cy="939.1" r="2.4"/><circle cx="207.6" cy="938.6" r="2.4"/><circle cx="210.0" cy="938.0" r="2.4"/><circle cx="212.4" cy="937.3" r="2.4"/><circle cx="214.7" cy="936.6" r="2.4"/><circle cx="217.1" cy="935.9" r="2.4"/><circle cx="219.5" cy="935.0" r="2.4"/><circle cx="221.9" cy="934.1" r="2.4"/><circle cx="224.2" cy="933.2" r="2.4"/><circle cx="226.6" cy="932.2" r="2.4"/><circle cx="229.0" cy="931.1" r="2.4"/><circle cx="231.4" cy="929.9" r="2.4"/><circle cx="233.7" cy="928.6" r="2.4"/><circle cx="236.1" cy="927.3" r="2.4"/><circle cx="238.5" cy="925.8" r="2.4"/><circle cx="240.8" cy="924.3" r="2.4"/><circle cx="243.2" cy="922.6" r="2.4"/><circle cx="245.6" cy="920.9" r="2.4"/><circle cx="248.0" cy="919.0" r="2.4"/><circle cx="250.3" cy="917.0" r="2.4"/><circle cx="252.7" cy="914.9" r="2.4"/><circle cx="255.1" cy="912.7" r="2.4"/><circle cx="257.5" cy="910.4" r="2.4"/><circle cx="259.8" cy="907.9" r="2.4"/><circle cx="262.2" cy="905.3" r="2.4"/><circle cx="264.6" cy="902.5" r="2.4"/><circle cx="266.9" cy="899.6" r="2.4"/><circle cx="269.3" cy="896.6" r="2.4"/><circle cx="271.7" cy="893.4" r="2.4"/><circle cx="274.1" cy="890.0" r="2.4"/><circle cx="276.4" cy="886.5" r="2.4"/><circle cx="278.8" cy="882.9" r="2.4"/><circle cx="281.2" cy="879.0" r="2.4"/><circle cx="283.6" cy="875.0" r="2.4"/><circle cx="285.9" cy="870.9" r="2.4"/><circle cx="288.3" cy="866.6" r="2.4"/><circle cx="290.7" cy="862.1" r="2.4"/><circle cx="293.1" cy="857.4" r="2.4"/><circle cx="295.4" cy="852.6" r="2.4"/><circle cx="297.8" cy="847.7" r="2.4"/><circle cx="300.2" cy="842.5" r="2.4"/><circle cx="302.5" cy="837.2" r="2.4"/><circle cx="304.9" cy="831.8" r="2.4"/><circle cx="307.3" cy="826.2" r="2.4"/><circle cx="309.7" cy="820.5" r="2.4"/><circle cx="312.0" cy="814.6" r="2.4"/><circle cx="314.4" cy="808.6" r="2.4"/><circle cx="316.8" cy="802.4" r="2.4"/><circle cx="319.2" cy="796.2" r="2.4"/><circle cx="321.5" cy="789.8" r="2.4"/><circle cx="323.9" cy="783.3" r="2.4"/><circle cx="326.3" cy="776.7" r="2.4"/><circle cx="328.7" cy="770.1" r="2.4"/><circle cx="331.0" cy="763.4" r="2.4"/><circle cx="333.4" cy="756.6" r="2.4"/><circle cx="335.8" cy="749.7" r="2.4"/><circle cx="338.1" cy="742.9" r="2.4"/><circle cx="340.5" cy="736.0" r="2.4"/><circle cx="342.9" cy="729.1" r="2.4"/><circle cx="345.3" cy="722.2" r="2.4"/><circle cx="347.6" cy="715.3" r="2.4"/><circle cx="350.0" cy="708.5" r="2.4"/><circle cx="352.4" cy="701.7" r="2.4"/><circle cx="354.8" cy="695.0" r="2.4"/><circle cx="357.1" cy="688.3" r="2.4"/><circle cx="359.5" cy="681.8" r="2.4"/><circle cx="361.9" cy="675.4" r="2.4"/><circle cx="364.3" cy="669.1" r="2.4"/><circle cx="366.6" cy="663.0" r="2.4"/><circle cx="369.0" cy="657.0" r="2.4"/><circle cx="371.4" cy="651.3" r="2.4"/><circle cx="373.7" cy="645.7" r="2.4"/><circle cx="376.1" cy="640.3" r="2.4"/><circle cx="378.5" cy="635.2" r="2.4"/><circle cx="380.9" cy="630.3" r="2.4"/><circle cx="383.2" cy="625.7" r="2.4"/><circle cx="385.6" cy="621.3" r="2.4"/><circle cx="388.0" cy="617.2" r="2.4"/><circle cx="390.4" cy="613.5" r="2.4"/><circle cx="392.7" cy="610.0" r="2.4"/><circle cx="395.1" cy="606.9" r="2.4"/><circle cx="397.5" cy="604.0" r="2.4"/><circle cx="399.8" cy="601.6" r="2.4"/><circle cx="402.2" cy="599.4" r="2.4"/><circle cx="404.6" cy="597.7" r="2.4"/><circle cx="407.0" cy="596.2" r="2.4"/><circle cx="409.3" cy="595.2" r="2.4"/><circle cx="411.7" cy="594.5" r="2.4"/><circle cx="414.1" cy="594.1" r="2.4"/><circle cx="416.5" cy="594.2" r="2.4"/><circle cx="418.8" cy="594.6" r="2.4"/><circle cx="421.2" cy="595.4" r="2.4"/><circle cx="423.6" cy="596.5" r="2.4"/><circle cx="426.0" cy="598.0" r="2.4"/><circle cx="428.3" cy="599.9" r="2.4"/><circle cx="430.7" cy="602.1" r="2.4"/><circle cx="433.1" cy="604.7" r="2.4"/><circle cx="435.4" cy="607.6" r="2.4"/><circle cx="437.8" cy="610.8" r="2.4"/><circle cx="440.2" cy="614.3" r="2.4"/><circle cx="442.6" cy="618.2" r="2.4"/><circle cx="444.9" cy="622.3" r="2.4"/><circle cx="447.3" cy="626.7" r="2.4"/><circle cx="449.7" cy="631.4" r="2.4"/><circle cx="452.1" cy="636.4" r="2.4"/><circle cx="454.4" cy="641.5" r="2.4"/><circle cx="456.8" cy="647.0" r="2.4"/><circle cx="459.2" cy="652.6" r="2.4"/><circle cx="461.6" cy="658.4" r="2.4"/><circle cx="463.9" cy="664.4" r="2.4"/><circle cx="466.3" cy="670.6" r="2.4"/><circle cx="468.7" cy="676.9" r="2.4"/><circle cx="471.0" cy="683.3" r="2.4"/><circle cx="473.4" cy="689.9" r="2.4"/><circle cx="475.8" cy="696.5" r="2.4"/><circle cx="478.2" cy="703.2" r="2.4"/><circle cx="480.5" cy="710.0" r="2.4"/><circle cx="482.9" cy="716.9" r="2.4"/><circle cx="485.3" cy="723.8" r="2.4"/><circle cx="487.7" cy="730.7" r="2.4"/><circle cx="490.0" cy="737.6" r="2.4"/><circle cx="492.4" cy="744.5" r="2.4"/><circle cx="494.8" cy="751.3" r="2.4"/><circle cx="497.2" cy="758.1" r="2.4"/><circle cx="499.5" cy="764.9" r="2.4"/><circle cx="501.9" cy="771.6" r="2.4"/><circle cx="504.3" cy="778.3" r="2.4"/><circle cx="506.6" cy="784.8" r="2.4"/><circle cx="509.0" cy="791.3" r="2.4"/><circle cx="511.4" cy="797.6" r="2.4"/><circle cx="513.8" cy="803.9" r="2.4"/><circle cx="516.1" cy="810.0" r="2.4"/><circle cx="518.5" cy="815.9" r="2.4"/><circle cx="520.9" cy="821.8" r="2.4"/><circle cx="523.3" cy="827.5" r="2.4"/><circle cx="525.6" cy="833.1" r="2.4"/><circle cx="528.0" cy="838.5" r="2.4"/><circle cx="530.4" cy="843.7" r="2.4"/><circle cx="532.7" cy="848.8" r="2.4"/><circle cx="535.1" cy="853.8" r="2.4"/><circle cx="537.5" cy="858.5" r="2.4"/><circle cx="539.9" cy="863.1" r="2.4"/><circle cx="542.2" cy="867.6" r="2.4"/><circle cx="544.6" cy="871.9" r="2.4"/><circle cx="547.0" cy="876.0" r="2.4"/><circle cx="549.4" cy="879.9" r="2.4"/><circle cx="551.7" cy="883.7" r="2.4"/><circle cx="554.1" cy="887.3" r="2.4"/><circle cx="556.5" cy="890.8" r="2.4"/><circle cx="558.9" cy="894.1" r="2.4"/><circle cx="561.2" cy="897.3" r="2.4"/><circle cx="563.6" cy="900.3" r="2.4"/><circle cx="566.0" cy="903.2" r="2.4"/><circle cx="568.3" cy="905.9" r="2.4"/><circle cx="570.7" cy="908.5" r="2.4"/><circle cx="573.1" cy="910.9" r="2.4"/><circle cx="575.5" cy="913.2" r="2.4"/><circle cx="577.8" cy="915.4" r="2.4"/><circle cx="580.2" cy="917.5" r="2.4"/><circle cx="582.6" cy="919.4" r="2.4"/><circle cx="585.0" cy="921.3" r="2.4"/><circle cx="587.3" cy="923.0" r="2.4"/><circle cx="589.7" cy="924.6" r="2.4"/><circle cx="592.1" cy="926.1" r="2.4"/><circle cx="594.5" cy="927.6" r="2.4"/><circle cx="596.8" cy="928.9" r="2.4"/><circle cx="599.2" cy="930.2" r="2.4"/><circle cx="601.6" cy="931.3" r="2.4"/><circle cx="603.9" cy="932.4" r="2.4"/><circle cx="606.3" cy="933.4" r="2.4"/><circle cx="608.7" cy="934.4" r="2.4"/><circle cx="611.1" cy="935.2" r="2.4"/><circle cx="613.4" cy="936.0" r="2.4"/><circle cx="615.8" cy="936.8" r="2.4"/><circle cx="618.2" cy="937.5" r="2.4"/><circle cx="620.6" cy="938.1" r="2.4"/><circle cx="622.9" cy="938.7" r="2.4"/><circle cx="625.3" cy="939.3" r="2.4"/><circle cx="627.7" cy="939.8" r="2.4"/><circle cx="630.1" cy="940.2" r="2.4"/><circle cx="632.4" cy="940.7" r="2.4"/><circle cx="634.8" cy="941.1" r="2.4"/><circle cx="637.2" cy="941.4" r="2.4"/><circle cx="639.5" cy="941.7" r="2.4"/><circle cx="641.9" cy="942.0" r="2.4"/><circle cx="644.3" cy="942.3" r="2.4"/><circle cx="646.7" cy="942.6" r="2.4"/><circle cx="649.0" cy="942.8" r="2.4"/><circle cx="651.4" cy="943.0" r="2.4"/><circle cx="653.8" cy="943.2" r="2.4"/><circle cx="656.2" cy="943.4" r="2.4"/><circle cx="658.5" cy="943.5" r="2.4"/><circle cx="660.9" cy="943.7" r="2.4"/><circle cx="663.3" cy="943.8" r="2.4"/><circle cx="665.6" cy="943.9" r="2.4"/><circle cx="668.0" cy="944.0" r="2.4"/><circle cx="670.4" cy="944.1" r="2.4"/><circle cx="672.8" cy="944.2" r="2.4"/><circle cx="675.1" cy="944.3" r="2.4"/><circle cx="677.5" cy="944.3" r="2.4"/><circle cx="679.9" cy="944.4" r="2.4"/><circle cx="682.3" cy="944.5" r="2.4"/></g>
<line x1="117.4" y1="943.7" x2="827.0" y2="943.7" stroke="#4a1561" stroke-width="2.6"/>
<path fill="#88284f" fill-opacity="0.5" d="M420.8 944.9V943.6H427.9V942.8H435.1V941.7H442.3V940.1H449.4V938.6H456.5V934.5H463.7V930.7H470.8V923.5H478.0V916.9H485.1V903.9H492.3V890.4H499.4V877.8H506.6V860.8H513.7V843.8H520.9V829.2H528.0V806.4H535.2V790.9H542.3V760.3H549.5V749.2H556.6V726.6H563.8V750.5H570.9V707.4H578.1V737.4H585.2V742.3H592.4V752.1H599.5V765.7H606.7V771.8H613.8V796.8H621.0V821.9H628.1V834.9H635.3V837.1H642.4V852.9H649.6V852.9H656.7V870.9H663.9V882.8H671.0V883.9H678.2V891.6H685.3V903.1H692.5V914.6H699.6V913.9H706.8V913.9H714.0V922.3H721.1V930.6H728.2V936.6H735.4V924.7H742.5V936.6H749.7V931.8H756.8V941.3H764.0V939.7H771.1V941.0H778.3V942.7H785.4V943.3H792.6V943.6H799.7V943.8H806.9V944.0H814.0V944.2H821.2V944.9Z"/>
<g fill="#88284f" fill-opacity="0.7" stroke="#88284f" stroke-width="1.6"><circle cx="411.7" cy="944.4" r="2.4"/><circle cx="414.1" cy="944.3" r="2.4"/><circle cx="416.5" cy="944.2" r="2.4"/><circle cx="418.8" cy="944.1" r="2.4"/><circle cx="421.2" cy="943.9" r="2.4"/><circle cx="423.6" cy="943.8" r="2.4"/><circle cx="426.0" cy="943.6" r="2.4"/><circle cx="428.3" cy="943.3" r="2.4"/><circle cx="430.7" cy="943.1" r="2.4"/><circle cx="433.1" cy="942.8" r="2.4"/><circle cx="435.4" cy="942.4" r="2.4"/><circle cx="437.8" cy="942.0" r="2.4"/><circle cx="440.2" cy="941.6" r="2.4"/><circle cx="442.6" cy="941.0" r="2.4"/><circle cx="444.9" cy="940.5" r="2.4"/><circle cx="447.3" cy="939.8" r="2.4"/><circle cx="449.7" cy="939.0" r="2.4"/><circle cx="452.1" cy="938.2" r="2.4"/><circle cx="454.4" cy="937.3" r="2.4"/><circle cx="456.8" cy="936.2" r="2.4"/><circle cx="459.2" cy="935.1" r="2.4"/><circle cx="461.6" cy="933.8" r="2.4"/><circle cx="463.9" cy="932.3" r="2.4"/><circle cx="466.3" cy="930.8" r="2.4"/><circle cx="468.7" cy="929.0" r="2.4"/><circle cx="471.0" cy="927.1" r="2.4"/><circle cx="473.4" cy="925.0" r="2.4"/><circle cx="475.8" cy="922.7" r="2.4"/><circle cx="478.2" cy="920.3" r="2.4"/><circle cx="480.5" cy="917.6" r="2.4"/><circle cx="482.9" cy="914.7" r="2.4"/><circle cx="485.3" cy="911.6" r="2.4"/><circle cx="487.7" cy="908.2" r="2.4"/><circle cx="490.0" cy="904.6" r="2.4"/><circle cx="492.4" cy="900.8" r="2.4"/><circle cx="494.8" cy="896.7" r="2.4"/><circle cx="497.2" cy="892.4" r="2.4"/><circle cx="499.5" cy="887.8" r="2.4"/><circle cx="501.9" cy="883.0" r="2.4"/><circle cx="504.3" cy="878.0" r="2.4"/><circle cx="506.6" cy="872.7" r="2.4"/><circle cx="509.0" cy="867.2" r="2.4"/><circle cx="511.4" cy="861.6" r="2.4"/><circle cx="513.8" cy="855.7" r="2.4"/><circle cx="516.1" cy="849.6" r="2.4"/><circle cx="518.5" cy="843.4" r="2.4"/><circle cx="520.9" cy="837.0" r="2.4"/><circle cx="523.3" cy="830.6" r="2.4"/><circle cx="525.6" cy="824.0" r="2.4"/><circle cx="528.0" cy="817.4" r="2.4"/><circle cx="530.4" cy="810.8" r="2.4"/><circle cx="532.7" cy="804.2" r="2.4"/><circle cx="535.1" cy="797.6" r="2.4"/><circle cx="537.5" cy="791.2" r="2.4"/><circle cx="539.9" cy="784.8" r="2.4"/><circle cx="542.2" cy="778.6" r="2.4"/><circle cx="544.6" cy="772.6" r="2.4"/><circle cx="547.0" cy="766.8" r="2.4"/><circle cx="549.4" cy="761.3" r="2.4"/><circle cx="551.7" cy="756.0" r="2.4"/><circle cx="554.1" cy="751.2" r="2.4"/><circle cx="556.5" cy="746.7" r="2.4"/><circle cx="558.9" cy="742.6" r="2.4"/><circle cx="561.2" cy="738.9" r="2.4"/><circle cx="563.6" cy="735.7" r="2.4"/><circle cx="566.0" cy="733.0" r="2.4"/><circle cx="568.3" cy="730.8" r="2.4"/><circle cx="570.7" cy="729.1" r="2.4"/><circle cx="573.1" cy="727.9" r="2.4"/><circle cx="575.5" cy="727.3" r="2.4"/><circle cx="577.8" cy="727.2" r="2.4"/><circle cx="580.2" cy="727.7" r="2.4"/><circle cx="582.6" cy="728.7" r="2.4"/><circle cx="585.0" cy="730.2" r="2.4"/><circle cx="587.3" cy="732.3" r="2.4"/><circle cx="589.7" cy="734.9" r="2.4"/><circle cx="592.1" cy="738.0" r="2.4"/><circle cx="594.5" cy="741.5" r="2.4"/><circle cx="596.8" cy="745.5" r="2.4"/><circle cx="599.2" cy="749.9" r="2.4"/><circle cx="601.6" cy="754.6" r="2.4"/><circle cx="603.9" cy="759.8" r="2.4"/><circle cx="606.3" cy="765.2" r="2.4"/><circle cx="608.7" cy="770.9" r="2.4"/><circle cx="611.1" cy="776.9" r="2.4"/><circle cx="613.4" cy="783.0" r="2.4"/><circle cx="615.8" cy="789.4" r="2.4"/><circle cx="618.2" cy="795.8" r="2.4"/><circle cx="620.6" cy="802.4" r="2.4"/><circle cx="622.9" cy="809.0" r="2.4"/><circle cx="625.3" cy="815.6" r="2.4"/><circle cx="627.7" cy="822.2" r="2.4"/><circle cx="630.1" cy="828.8" r="2.4"/><circle cx="632.4" cy="835.3" r="2.4"/><circle cx="634.8" cy="841.6" r="2.4"/><circle cx="637.2" cy="847.9" r="2.4"/><circle cx="639.5" cy="854.0" r="2.4"/><circle cx="641.9" cy="859.9" r="2.4"/><circle cx="644.3" cy="865.7" r="2.4"/><circle cx="646.7" cy="871.2" r="2.4"/><circle cx="649.0" cy="876.6" r="2.4"/><circle cx="651.4" cy="881.7" r="2.4"/><circle cx="653.8" cy="886.5" r="2.4"/><circle cx="656.2" cy="891.2" r="2.4"/><circle cx="658.5" cy="895.5" r="2.4"/><circle cx="660.9" cy="899.7" r="2.4"/><circle cx="663.3" cy="903.6" r="2.4"/><circle cx="665.6" cy="907.2" r="2.4"/><circle cx="668.0" cy="910.7" r="2.4"/><circle cx="670.4" cy="913.8" r="2.4"/><circle cx="672.8" cy="916.8" r="2.4"/><circle cx="675.1" cy="919.5" r="2.4"/><circle cx="677.5" cy="922.1" r="2.4"/><circle cx="679.9" cy="924.4" r="2.4"/><circle cx="682.3" cy="926.6" r="2.4"/><circle cx="684.6" cy="928.5" r="2.4"/><circle cx="687.0" cy="930.3" r="2.4"/><circle cx="689.4" cy="931.9" r="2.4"/><circle cx="691.8" cy="933.4" r="2.4"/><circle cx="694.1" cy="934.7" r="2.4"/><circle cx="696.5" cy="935.9" r="2.4"/><circle cx="698.9" cy="937.0" r="2.4"/><circle cx="701.2" cy="938.0" r="2.4"/><circle cx="703.6" cy="938.8" r="2.4"/><circle cx="706.0" cy="939.6" r="2.4"/><circle cx="708.4" cy="940.3" r="2.4"/><circle cx="710.7" cy="940.9" r="2.4"/><circle cx="713.1" cy="941.4" r="2.4"/><circle cx="715.5" cy="941.9" r="2.4"/><circle cx="717.9" cy="942.3" r="2.4"/><circle cx="720.2" cy="942.7" r="2.4"/><circle cx="722.6" cy="943.0" r="2.4"/><circle cx="725.0" cy="943.3" r="2.4"/><circle cx="727.4" cy="943.5" r="2.4"/><circle cx="729.7" cy="943.7" r="2.4"/><circle cx="732.1" cy="943.9" r="2.4"/><circle cx="734.5" cy="944.0" r="2.4"/><circle cx="736.8" cy="944.2" r="2.4"/><circle cx="739.2" cy="944.3" r="2.4"/><circle cx="741.6" cy="944.4" r="2.4"/></g>
<line x1="117.4" y1="943.7" x2="827.0" y2="943.7" stroke="#88284f" stroke-width="2.6"/>
<path fill="#c99f84" fill-opacity="0.5" d="M431.8 944.9V932.6H437.1V929.5H442.3V924.0H447.6V920.4H452.9V915.7H458.2V908.3H463.5V892.2H468.7V887.4H474.0V883.1H479.3V864.8H484.6V863.4H489.9V822.6H495.1V838.2H500.4V803.1H505.7V786.5H511.0V797.4H516.3V759.2H521.5V734.4H526.8V729.9H532.1V722.5H537.4V701.3H542.7V709.2H547.9V702.0H553.2V709.5H558.5V696.6H563.8V730.1H569.1V704.7H574.3V736.6H579.6V756.5H584.9V745.2H590.2V740.1H595.5V766.3H600.7V800.4H606.0V801.8H611.3V828.8H616.6V840.0H621.9V852.2H627.1V878.4H632.4V876.6H637.7V893.0H643.0V900.5H648.3V910.8H653.5V917.3H658.8V921.5H664.1V923.5H669.4V927.0H674.7V932.6H679.9V934.6H685.2V937.9H690.5V940.3H695.8V940.8H701.1V941.8H706.3V944.9Z"/>
<g fill="#c99f84" fill-opacity="0.7" stroke="#c99f84" stroke-width="1.6"><circle cx="380.9" cy="944.4" r="2.4"/><circle cx="383.2" cy="944.3" r="2.4"/><circle cx="385.6" cy="944.2" r="2.4"/><circle cx="388.0" cy="944.1" r="2.4"/><circle cx="390.4" cy="943.9" r="2.4"/><circle cx="392.7" cy="943.8" r="2.4"/><circle cx="395.1" cy="943.6" r="2.4"/><circle cx="397.5" cy="943.4" r="2.4"/><circle cx="399.8" cy="943.1" r="2.4"/><circle cx="402.2" cy="942.9" r="2.4"/><circle cx="404.6" cy="942.5" r="2.4"/><circle cx="407.0" cy="942.2" r="2.4"/><circle cx="409.3" cy="941.8" r="2.4"/><circle cx="411.7" cy="941.3" r="2.4"/><circle cx="414.1" cy="940.8" r="2.4"/><circle cx="416.5" cy="940.2" r="2.4"/><circle cx="418.8" cy="939.5" r="2.4"/><circle cx="421.2" cy="938.8" r="2.4"/><circle cx="423.6" cy="938.0" r="2.4"/><circle cx="426.0" cy="937.0" r="2.4"/><circle cx="428.3" cy="936.0" r="2.4"/><circle cx="430.7" cy="934.9" r="2.4"/><circle cx="433.1" cy="933.6" r="2.4"/><circle cx="435.4" cy="932.2" r="2.4"/><circle cx="437.8" cy="930.7" r="2.4"/><circle cx="440.2" cy="929.1" r="2.4"/><circle cx="442.6" cy="927.3" r="2.4"/><circle cx="444.9" cy="925.3" r="2.4"/><circle cx="447.3" cy="923.1" r="2.4"/><circle cx="449.7" cy="920.8" r="2.4"/><circle cx="452.1" cy="918.3" r="2.4"/><circle cx="454.4" cy="915.5" r="2.4"/><circle cx="456.8" cy="912.6" r="2.4"/><circle cx="459.2" cy="909.5" r="2.4"/><circle cx="461.6" cy="906.1" r="2.4"/><circle cx="463.9" cy="902.5" r="2.4"/><circle cx="466.3" cy="898.7" r="2.4"/><circle cx="468.7" cy="894.7" r="2.4"/><circle cx="471.0" cy="890.4" r="2.4"/><circle cx="473.4" cy="885.9" r="2.4"/><circle cx="475.8" cy="881.2" r="2.4"/><circle cx="478.2" cy="876.2" r="2.4"/><circle cx="480.5" cy="871.1" r="2.4"/><circle cx="482.9" cy="865.7" r="2.4"/><circle cx="485.3" cy="860.1" r="2.4"/><circle cx="487.7" cy="854.4" r="2.4"/><circle cx="490.0" cy="848.4" r="2.4"/><circle cx="492.4" cy="842.3" r="2.4"/><circle cx="494.8" cy="836.1" r="2.4"/><circle cx="497.2" cy="829.7" r="2.4"/><circle cx="499.5" cy="823.3" r="2.4"/><circle cx="501.9" cy="816.8" r="2.4"/><circle cx="504.3" cy="810.2" r="2.4"/><circle cx="506.6" cy="803.6" r="2.4"/><circle cx="509.0" cy="797.0" r="2.4"/><circle cx="511.4" cy="790.5" r="2.4"/><circle cx="513.8" cy="784.1" r="2.4"/><circle cx="516.1" cy="777.7" r="2.4"/><circle cx="518.5" cy="771.5" r="2.4"/><circle cx="520.9" cy="765.5" r="2.4"/><circle cx="523.3" cy="759.7" r="2.4"/><circle cx="525.6" cy="754.1" r="2.4"/><circle cx="528.0" cy="748.8" r="2.4"/><circle cx="530.4" cy="743.8" r="2.4"/><circle cx="532.7" cy="739.1" r="2.4"/><circle cx="535.1" cy="734.8" r="2.4"/><circle cx="537.5" cy="730.9" r="2.4"/><circle cx="539.9" cy="727.4" r="2.4"/><circle cx="542.2" cy="724.4" r="2.4"/><circle cx="544.6" cy="721.8" r="2.4"/><circle cx="547.0" cy="719.7" r="2.4"/><circle cx="549.4" cy="718.1" r="2.4"/><circle cx="551.7" cy="717.0" r="2.4"/><circle cx="554.1" cy="716.4" r="2.4"/><circle cx="556.5" cy="716.3" r="2.4"/><circle cx="558.9" cy="716.7" r="2.4"/><circle cx="561.2" cy="717.7" r="2.4"/><circle cx="563.6" cy="719.1" r="2.4"/><circle cx="566.0" cy="721.1" r="2.4"/><circle cx="568.3" cy="723.5" r="2.4"/><circle cx="570.7" cy="726.4" r="2.4"/><circle cx="573.1" cy="729.7" r="2.4"/><circle cx="575.5" cy="733.5" r="2.4"/><circle cx="577.8" cy="737.7" r="2.4"/><circle cx="580.2" cy="742.2" r="2.4"/><circle cx="582.6" cy="747.1" r="2.4"/><circle cx="585.0" cy="752.3" r="2.4"/><circle cx="587.3" cy="757.8" r="2.4"/><circle cx="589.7" cy="763.6" r="2.4"/><circle cx="592.1" cy="769.6" r="2.4"/><circle cx="594.5" cy="775.7" r="2.4"/><circle cx="596.8" cy="782.0" r="2.4"/><circle cx="599.2" cy="788.4" r="2.4"/><circle cx="601.6" cy="795.0" r="2.4"/><circle cx="603.9" cy="801.5" r="2.4"/><circle cx="606.3" cy="808.1" r="2.4"/><circle cx="608.7" cy="814.7" r="2.4"/><circle cx="611.1" cy="821.2" r="2.4"/><circle cx="613.4" cy="827.7" r="2.4"/><circle cx="615.8" cy="834.1" r="2.4"/><circle cx="618.2" cy="840.3" r="2.4"/><circle cx="620.6" cy="846.5" r="2.4"/><circle cx="622.9" cy="852.5" r="2.4"/><circle cx="625.3" cy="858.3" r="2.4"/><circle cx="627.7" cy="863.9" r="2.4"/><circle cx="630.1" cy="869.4" r="2.4"/><circle cx="632.4" cy="874.6" r="2.4"/><circle cx="634.8" cy="879.6" r="2.4"/><circle cx="637.2" cy="884.4" r="2.4"/><circle cx="639.5" cy="889.0" r="2.4"/><circle cx="641.9" cy="893.3" r="2.4"/><circle cx="644.3" cy="897.4" r="2.4"/><circle cx="646.7" cy="901.3" r="2.4"/><circle cx="649.0" cy="905.0" r="2.4"/><circle cx="651.4" cy="908.4" r="2.4"/><circle cx="653.8" cy="911.6" r="2.4"/><circle cx="656.2" cy="914.6" r="2.4"/><circle cx="658.5" cy="917.4" r="2.4"/><circle cx="660.9" cy="920.0" r="2.4"/><circle cx="663.3" cy="922.4" r="2.4"/><circle cx="665.6" cy="924.6" r="2.4"/><circle cx="668.0" cy="926.6" r="2.4"/><circle cx="670.4" cy="928.5" r="2.4"/><circle cx="672.8" cy="930.2" r="2.4"/><circle cx="675.1" cy="931.8" r="2.4"/><circle cx="677.5" cy="933.2" r="2.4"/><circle cx="679.9" cy="934.5" r="2.4"/><circle cx="682.3" cy="935.7" r="2.4"/><circle cx="684.6" cy="936.7" r="2.4"/><circle cx="687.0" cy="937.7" r="2.4"/><circle cx="689.4" cy="938.5" r="2.4"/><circle cx="691.8" cy="939.3" r="2.4"/><circle cx="694.1" cy="940.0" r="2.4"/><circle cx="696.5" cy="940.6" r="2.4"/><circle cx="698.9" cy="941.1" r="2.4"/><circle cx="701.2" cy="941.6" r="2.4"/><circle cx="703.6" cy="942.0" r="2.4"/><circle cx="706.0" cy="942.4" r="2.4"/><circle cx="708.4" cy="942.8" r="2.4"/><circle cx="710.7" cy="943.0" r="2.4"/><circle cx="713.1" cy="943.3" r="2.4"/><circle cx="715.5" cy="943.5" r="2.4"/><circle cx="717.9" cy="943.7" r="2.4"/><circle cx="720.2" cy="943.9" r="2.4"/><circle cx="722.6" cy="944.0" r="2.4"/><circle cx="725.0" cy="944.2" r="2.4"/><circle cx="727.4" cy="944.3" r="2.4"/><circle cx="729.7" cy="944.4" r="2.4"/><circle cx="732.1" cy="944.5" r="2.4"/></g>
<line x1="117.4" y1="943.7" x2="827.0" y2="943.7" stroke="#c99f84" stroke-width="2.6"/>
</g>
<rect x="1009.9" y="539.6" width="405.40" height="405.20" fill="#e2d8e2"/>
<g transform="translate(1009.9,539.6) scale(1.35133,1.35067)" shape-rendering="crispEdges">
<path fill="#6a8bc4" d="M21 0h2v1h-2zM21 1h5v1h-5zM21 2h7v1h-7zM22 3h8v1h-8zM23 4h10v1h-10zM25 5h10v1h-10zM28 6h10v1h-10zM31 7h9v1h-9zM33 8h9v1h-9zM35 9h10v1h-10zM38 10h9v1h-9zM40 11h9v1h-9zM44 12h8v1h-8zM47 13h7v1h-7zM48 14h8v1h-8zM49 15h10v1h-10zM51 16h10v1h-10zM52 17h12v1h-12zM58 18h8v1h-8zM60 19h8v1h-8zM62 20h9v1h-9zM64 21h9v1h-9zM66 22h10v1h-10zM71 23h7v1h-7zM72 24h8v1h-8zM74 25h9v1h-9zM76 26h9v1h-9zM77 27h11v1h-11zM79 28h11v1h-11zM82 29h10v1h-10zM88 30h7v1h-7zM89 31h8v1h-8zM91 32h9v1h-9zM93 33h9v1h-9zM94 34h10v1h-10zM96 35h11v1h-11zM100 36h9v1h-9zM102 37h10v1h-10zM106 38h9v1h-9zM108 39h10v1h-10zM110 40h11v1h-11zM113 41h12v1h-12zM116 42h12v1h-12zM119 43h12v1h-12zM122 44h12v1h-12zM124 45h14v1h-14zM126 46h15v1h-15zM130 47h14v1h-14zM140 48h6v1h-6zM143 49h5v1h-5zM143 50h7v1h-7zM144 51h8v1h-8zM146 52h8v1h-8zM147 53h9v1h-9zM149 54h9v1h-9zM151 55h9v1h-9zM153 56h9v1h-9zM154 57h10v1h-10zM156 58h10v1h-10zM158 59h9v1h-9zM160 60h9v1h-9zM162 61h9v1h-9zM164 62h9v1h-9zM165 63h10v1h-10zM168 64h9v1h-9zM170 65h8v1h-8zM172 66h8v1h-8zM174 67h8v1h-8zM176 68h8v1h-8zM178 69h8v1h-8zM180 70h8v1h-8zM182 71h7v1h-7zM184 72h8v1h-8zM186 73h8v1h-8zM187 74h9v1h-9zM190 75h9v1h-9zM193 76h8v1h-8zM194 77h9v1h-9zM197 78h9v1h-9zM199 79h9v1h-9zM200 80h10v1h-10zM202 81h10v1h-10zM204 82h10v1h-10zM206 83h10v1h-10zM209 84h9v1h-9zM210 85h10v1h-10zM212 86h10v1h-10zM214 87h10v1h-10zM215 88h11v1h-11zM217 89h11v1h-11zM218 90h13v1h-13zM220 91h13v1h-13zM222 92h12v1h-12zM223 93h12v1h-12zM225 94h11v1h-11zM227 95h10v1h-10zM230 96h8v1h-8zM231 97h8v1h-8zM232 98h7v1h-7zM234 99h5v1h-5zM234 100h6v1h-6zM235 101h5v1h-5zM235 102h5v1h-5zM235 103h5v1h-5zM235 104h5v1h-5zM235 105h5v1h-5zM234 106h6v1h-6zM234 107h6v1h-6zM234 108h6v1h-6zM234 109h6v1h-6zM234 110h6v1h-6zM234 111h7v1h-7zM234 112h7v1h-7zM234 113h8v1h-8zM234 114h8v1h-8zM235 115h8v1h-8zM236 116h7v1h-7zM236 117h8v1h-8zM237 118h7v1h-7zM238 119h6v1h-6zM239 120h6v1h-6zM239 121h6v1h-6zM239 122h6v1h-6zM239 123h7v1h-7zM240 124h6v1h-6zM240 125h6v1h-6zM240 126h7v1h-7zM240 127h7v1h-7zM241 128h6v1h-6zM241 129h7v1h-7zM242 130h6v1h-6zM242 131h6v1h-6zM243 132h5v1h-5zM243 133h6v1h-6zM243 134h6v1h-6zM244 135h5v1h-5zM244 136h5v1h-5zM244 137h5v1h-5zM244 138h5v1h-5zM244 139h5v1h-5zM244 140h5v1h-5zM244 141h5v1h-5zM244 142h5v1h-5zM244 143h5v1h-5zM244 144h5v1h-5zM244 145h5v1h-5zM244 146h5v1h-5zM244 147h5v1h-5zM0 148h4v1h-4zM244 148h5v1h-5zM0 149h8v1h-8zM244 149h5v1h-5zM0 150h12v1h-12zM243 150h6v1h-6zM0 151h15v1h-15zM243 151h6v1h-6zM2 152h15v1h-15zM243 152h6v1h-6zM4 153h14v1h-14zM242 153h6v1h-6zM6 154h14v1h-14zM242 154h5v1h-5zM9 155h12v1h-12zM241 155h6v1h-6zM11 156h11v1h-11zM237 156h9v1h-9zM13 157h11v1h-11zM236 157h10v1h-10zM15 158h11v1h-11zM235 158h10v1h-10zM18 159h10v1h-10zM234 159h10v1h-10zM20 160h13v1h-13zM233 160h10v1h-10zM22 161h14v1h-14zM232 161h10v1h-10zM24 162h15v1h-15zM231 162h10v1h-10zM26 163h15v1h-15zM230 163h10v1h-10zM29 164h13v1h-13zM228 164h11v1h-11zM31 165h13v1h-13zM227 165h11v1h-11zM33 166h12v1h-12zM226 166h11v1h-11zM35 167h11v1h-11zM224 167h12v1h-12zM37 168h10v1h-10zM223 168h11v1h-11zM39 169h9v1h-9zM222 169h10v1h-10zM41 170h11v1h-11zM221 170h10v1h-10zM43 171h12v1h-12zM220 171h9v1h-9zM46 172h11v1h-11zM219 172h8v1h-8zM48 173h13v1h-13zM218 173h8v1h-8zM50 174h13v1h-13zM216 174h8v1h-8zM52 175h14v1h-14zM214 175h9v1h-9zM54 176h16v1h-16zM212 176h9v1h-9zM56 177h17v1h-17zM210 177h10v1h-10zM59 178h16v1h-16zM209 178h10v1h-10zM61 179h16v1h-16zM207 179h10v1h-10zM64 180h14v1h-14zM206 180h10v1h-10zM66 181h16v1h-16zM205 181h9v1h-9zM69 182h16v1h-16zM204 182h9v1h-9zM71 183h15v1h-15zM203 183h8v1h-8zM74 184h14v1h-14zM202 184h8v1h-8zM76 185h15v1h-15zM201 185h8v1h-8zM79 186h15v1h-15zM200 186h8v1h-8zM81 187h14v1h-14zM200 187h7v1h-7zM83 188h14v1h-14zM199 188h7v1h-7zM85 189h13v1h-13zM199 189h6v1h-6zM88 190h11v1h-11zM198 190h6v1h-6zM90 191h11v1h-11zM197 191h6v1h-6zM92 192h10v1h-10zM196 192h6v1h-6zM94 193h10v1h-10zM195 193h6v1h-6zM96 194h10v1h-10zM194 194h6v1h-6zM97 195h12v1h-12zM193 195h6v1h-6zM99 196h12v1h-12zM192 196h6v1h-6zM101 197h11v1h-11zM191 197h6v1h-6zM103 198h9v1h-9zM190 198h6v1h-6zM105 199h8v1h-8zM189 199h6v1h-6zM106 200h9v1h-9zM187 200h7v1h-7zM108 201h9v1h-9zM186 201h7v1h-7zM110 202h9v1h-9zM184 202h8v1h-8zM112 203h9v1h-9zM182 203h8v1h-8zM114 204h9v1h-9zM180 204h9v1h-9zM116 205h10v1h-10zM177 205h11v1h-11zM117 206h12v1h-12zM176 206h10v1h-10zM119 207h11v1h-11zM176 207h9v1h-9zM121 208h11v1h-11zM175 208h9v1h-9zM123 209h11v1h-11zM175 209h7v1h-7zM125 210h10v1h-10zM174 210h7v1h-7zM127 211h13v1h-13zM173 211h7v1h-7zM128 212h16v1h-16zM172 212h7v1h-7zM130 213h17v1h-17zM170 213h8v1h-8zM132 214h17v1h-17zM169 214h8v1h-8zM134 215h16v1h-16zM164 215h11v1h-11zM138 216h14v1h-14zM157 216h2v1h-2zM161 216h13v1h-13zM141 217h32v1h-32zM144 218h28v1h-28zM147 219h24v1h-24zM150 220h18v1h-18zM153 221h12v1h-12zM157 222h6v1h-6zM60 270h3v1h-3zM58 271h7v1h-7zM56 272h12v1h-12zM55 273h13v1h-13zM53 274h16v1h-16zM52 275h18v1h-18zM51 276h20v1h-20zM49 277h23v1h-23zM48 278h13v1h-13zM62 278h11v1h-11zM47 279h20v1h-20zM68 279h6v1h-6zM47 280h8v1h-8zM56 280h10v1h-10zM67 280h8v1h-8zM46 281h3v1h-3zM51 281h4v1h-4zM56 281h4v1h-4zM61 281h3v1h-3zM65 281h4v1h-4zM71 281h1v1h-1zM73 281h3v1h-3zM45 282h5v1h-5zM51 282h5v1h-5zM57 282h4v1h-4zM62 282h3v1h-3zM67 282h10v1h-10zM45 283h11v1h-11zM57 283h2v1h-2zM61 283h3v1h-3zM66 283h2v1h-2zM69 283h4v1h-4zM74 283h4v1h-4zM44 284h3v1h-3zM49 284h3v1h-3zM53 284h2v1h-2zM56 284h2v1h-2zM59 284h10v1h-10zM70 284h2v1h-2zM73 284h6v1h-6zM43 285h4v1h-4zM48 285h1v1h-1zM51 285h8v1h-8zM61 285h2v1h-2zM64 285h1v1h-1zM67 285h1v1h-1zM69 285h12v1h-12zM43 286h6v1h-6zM51 286h2v1h-2zM54 286h1v1h-1zM57 286h1v1h-1zM59 286h2v1h-2zM62 286h1v1h-1zM64 286h1v1h-1zM68 286h2v1h-2zM75 286h8v1h-8zM42 287h4v1h-4zM49 287h1v1h-1zM55 287h1v1h-1zM58 287h1v1h-1zM60 287h1v1h-1zM62 287h3v1h-3zM67 287h1v1h-1zM69 287h4v1h-4zM74 287h1v1h-1zM76 287h10v1h-10zM42 288h2v1h-2zM45 288h1v1h-1zM47 288h2v1h-2zM50 288h1v1h-1zM53 288h1v1h-1zM56 288h1v1h-1zM58 288h1v1h-1zM61 288h2v1h-2zM67 288h7v1h-7zM75 288h13v1h-13zM41 289h3v1h-3zM45 289h3v1h-3zM50 289h2v1h-2zM57 289h1v1h-1zM59 289h2v1h-2zM62 289h2v1h-2zM65 289h1v1h-1zM68 289h1v1h-1zM70 289h21v1h-21zM41 290h2v1h-2zM45 290h2v1h-2zM48 290h1v1h-1zM50 290h3v1h-3zM54 290h1v1h-1zM56 290h2v1h-2zM59 290h3v1h-3zM64 290h1v1h-1zM66 290h2v1h-2zM73 290h1v1h-1zM76 290h16v1h-16zM41 291h2v1h-2zM44 291h1v1h-1zM47 291h2v1h-2zM51 291h3v1h-3zM55 291h1v1h-1zM61 291h1v1h-1zM64 291h4v1h-4zM69 291h1v1h-1zM76 291h14v1h-14zM41 292h2v1h-2zM44 292h2v1h-2zM47 292h1v1h-1zM50 292h2v1h-2zM55 292h1v1h-1zM58 292h1v1h-1zM60 292h1v1h-1zM68 292h3v1h-3zM72 292h1v1h-1zM75 292h13v1h-13zM41 293h3v1h-3zM45 293h1v1h-1zM47 293h1v1h-1zM49 293h2v1h-2zM53 293h5v1h-5zM59 293h2v1h-2zM63 293h2v1h-2zM66 293h4v1h-4zM72 293h14v1h-14zM41 294h2v1h-2zM44 294h1v1h-1zM46 294h1v1h-1zM52 294h1v1h-1zM54 294h3v1h-3zM58 294h7v1h-7zM66 294h1v1h-1zM70 294h3v1h-3zM74 294h1v1h-1zM76 294h9v1h-9zM41 295h2v1h-2zM44 295h1v1h-1zM46 295h1v1h-1zM48 295h1v1h-1zM50 295h2v1h-2zM54 295h3v1h-3zM59 295h1v1h-1zM62 295h11v1h-11zM76 295h8v1h-8zM41 296h5v1h-5zM47 296h3v1h-3zM53 296h1v1h-1zM55 296h8v1h-8zM65 296h4v1h-4zM70 296h1v1h-1zM72 296h1v1h-1zM74 296h9v1h-9zM41 297h2v1h-2zM47 297h3v1h-3zM53 297h1v1h-1zM63 297h1v1h-1zM65 297h1v1h-1zM67 297h1v1h-1zM69 297h1v1h-1zM71 297h1v1h-1zM74 297h8v1h-8zM41 298h4v1h-4zM46 298h1v1h-1zM49 298h1v1h-1zM51 298h3v1h-3zM56 298h2v1h-2zM60 298h2v1h-2zM63 298h1v1h-1zM65 298h2v1h-2zM68 298h2v1h-2zM75 298h6v1h-6zM41 299h4v1h-4zM46 299h2v1h-2zM52 299h3v1h-3zM56 299h3v1h-3zM60 299h4v1h-4zM65 299h2v1h-2zM70 299h1v1h-1zM74 299h6v1h-6z"/>
<path fill="#4a1561" d="M3 0h18v1h-18zM3 1h18v1h-18zM0 2h1v1h-1zM3 2h18v1h-18zM0 3h22v1h-22zM1 4h22v1h-22zM4 5h21v1h-21zM1 6h2v1h-2zM4 6h24v1h-24zM4 7h27v1h-27zM6 8h27v1h-27zM6 9h29v1h-29zM3 10h1v1h-1zM7 10h31v1h-31zM7 11h6v1h-6zM14 11h26v1h-26zM3 12h1v1h-1zM7 12h37v1h-37zM9 13h38v1h-38zM0 14h1v1h-1zM9 14h2v1h-2zM12 14h36v1h-36zM8 15h1v1h-1zM10 15h39v1h-39zM13 16h38v1h-38zM13 17h39v1h-39zM14 18h44v1h-44zM13 19h9v1h-9zM23 19h37v1h-37zM15 20h47v1h-47zM16 21h48v1h-48zM7 22h1v1h-1zM14 22h1v1h-1zM17 22h49v1h-49zM11 23h1v1h-1zM15 23h1v1h-1zM17 23h17v1h-17zM35 23h1v1h-1zM37 23h34v1h-34zM15 24h23v1h-23zM39 24h33v1h-33zM16 25h22v1h-22zM39 25h35v1h-35zM18 26h16v1h-16zM35 26h41v1h-41zM18 27h59v1h-59zM19 28h1v1h-1zM21 28h58v1h-58zM18 29h22v1h-22zM41 29h6v1h-6zM48 29h34v1h-34zM13 30h1v1h-1zM18 30h7v1h-7zM26 30h15v1h-15zM42 30h46v1h-46zM17 31h5v1h-5zM23 31h17v1h-17zM43 31h46v1h-46zM21 32h10v1h-10zM33 32h7v1h-7zM42 32h49v1h-49zM25 33h1v1h-1zM27 33h3v1h-3zM31 33h9v1h-9zM43 33h50v1h-50zM16 34h1v1h-1zM27 34h12v1h-12zM41 34h47v1h-47zM89 34h5v1h-5zM27 35h5v1h-5zM34 35h1v1h-1zM37 35h2v1h-2zM41 35h55v1h-55zM31 36h1v1h-1zM33 36h1v1h-1zM38 36h2v1h-2zM41 36h59v1h-59zM31 37h2v1h-2zM38 37h64v1h-64zM9 38h1v1h-1zM32 38h1v1h-1zM39 38h3v1h-3zM43 38h63v1h-63zM39 39h15v1h-15zM55 39h53v1h-53zM39 40h5v1h-5zM45 40h65v1h-65zM40 41h73v1h-73zM26 42h1v1h-1zM41 42h75v1h-75zM31 43h1v1h-1zM41 43h5v1h-5zM47 43h14v1h-14zM62 43h57v1h-57zM37 44h1v1h-1zM43 44h79v1h-79zM40 45h1v1h-1zM46 45h78v1h-78zM48 46h3v1h-3zM52 46h74v1h-74zM49 47h4v1h-4zM54 47h3v1h-3zM58 47h72v1h-72zM49 48h91v1h-91zM42 49h3v1h-3zM51 49h3v1h-3zM55 49h88v1h-88zM42 50h3v1h-3zM47 50h1v1h-1zM50 50h7v1h-7zM58 50h9v1h-9zM68 50h11v1h-11zM80 50h63v1h-63zM34 51h1v1h-1zM46 51h1v1h-1zM52 51h10v1h-10zM64 51h1v1h-1zM73 51h71v1h-71zM46 52h1v1h-1zM49 52h3v1h-3zM55 52h2v1h-2zM61 52h1v1h-1zM73 52h73v1h-73zM45 53h1v1h-1zM50 53h1v1h-1zM76 53h4v1h-4zM82 53h65v1h-65zM76 54h4v1h-4zM81 54h2v1h-2zM84 54h65v1h-65zM51 55h1v1h-1zM78 55h2v1h-2zM82 55h1v1h-1zM87 55h64v1h-64zM57 56h1v1h-1zM75 56h1v1h-1zM79 56h1v1h-1zM87 56h66v1h-66zM7 57h1v1h-1zM58 57h1v1h-1zM65 57h1v1h-1zM79 57h1v1h-1zM81 57h1v1h-1zM84 57h1v1h-1zM88 57h2v1h-2zM93 57h61v1h-61zM69 58h1v1h-1zM78 58h1v1h-1zM84 58h2v1h-2zM88 58h3v1h-3zM93 58h63v1h-63zM87 59h4v1h-4zM94 59h1v1h-1zM103 59h55v1h-55zM49 60h1v1h-1zM86 60h5v1h-5zM95 60h1v1h-1zM97 60h2v1h-2zM103 60h57v1h-57zM63 61h1v1h-1zM66 61h1v1h-1zM85 61h1v1h-1zM90 61h1v1h-1zM95 61h2v1h-2zM103 61h1v1h-1zM105 61h57v1h-57zM92 62h1v1h-1zM99 62h1v1h-1zM101 62h1v1h-1zM103 62h61v1h-61zM33 63h1v1h-1zM100 63h4v1h-4zM108 63h57v1h-57zM100 64h6v1h-6zM110 64h14v1h-14zM125 64h43v1h-43zM102 65h1v1h-1zM112 65h10v1h-10zM123 65h11v1h-11zM135 65h35v1h-35zM79 66h1v1h-1zM103 66h1v1h-1zM106 66h1v1h-1zM111 66h61v1h-61zM113 67h1v1h-1zM115 67h59v1h-59zM96 68h1v1h-1zM117 68h59v1h-59zM72 69h1v1h-1zM101 69h1v1h-1zM103 69h4v1h-4zM118 69h13v1h-13zM132 69h46v1h-46zM102 70h1v1h-1zM104 70h4v1h-4zM115 70h1v1h-1zM118 70h12v1h-12zM131 70h1v1h-1zM134 70h46v1h-46zM106 71h1v1h-1zM117 71h12v1h-12zM136 71h7v1h-7zM144 71h38v1h-38zM117 72h12v1h-12zM137 72h4v1h-4zM142 72h1v1h-1zM144 72h40v1h-40zM118 73h5v1h-5zM124 73h1v1h-1zM127 73h3v1h-3zM132 73h1v1h-1zM137 73h49v1h-49zM120 74h9v1h-9zM137 74h10v1h-10zM148 74h39v1h-39zM116 75h1v1h-1zM119 75h10v1h-10zM137 75h53v1h-53zM119 76h8v1h-8zM137 76h17v1h-17zM155 76h38v1h-38zM118 77h8v1h-8zM136 77h58v1h-58zM118 78h3v1h-3zM122 78h3v1h-3zM126 78h2v1h-2zM137 78h60v1h-60zM119 79h9v1h-9zM136 79h63v1h-63zM11 80h1v1h-1zM119 80h8v1h-8zM128 80h2v1h-2zM131 80h1v1h-1zM136 80h64v1h-64zM116 81h1v1h-1zM119 81h1v1h-1zM123 81h1v1h-1zM126 81h1v1h-1zM128 81h3v1h-3zM136 81h66v1h-66zM128 82h3v1h-3zM136 82h6v1h-6zM147 82h8v1h-8zM156 82h48v1h-48zM44 83h1v1h-1zM103 83h1v1h-1zM128 83h1v1h-1zM134 83h4v1h-4zM139 83h4v1h-4zM148 83h6v1h-6zM156 83h16v1h-16zM173 83h33v1h-33zM131 84h2v1h-2zM135 84h2v1h-2zM139 84h4v1h-4zM146 84h1v1h-1zM149 84h1v1h-1zM157 84h3v1h-3zM162 84h47v1h-47zM135 85h7v1h-7zM155 85h4v1h-4zM163 85h12v1h-12zM177 85h33v1h-33zM135 86h6v1h-6zM154 86h5v1h-5zM165 86h47v1h-47zM136 87h6v1h-6zM148 87h1v1h-1zM152 87h1v1h-1zM154 87h1v1h-1zM156 87h2v1h-2zM164 87h50v1h-50zM99 88h1v1h-1zM154 88h5v1h-5zM164 88h7v1h-7zM172 88h4v1h-4zM177 88h38v1h-38zM158 89h1v1h-1zM161 89h1v1h-1zM166 89h4v1h-4zM171 89h6v1h-6zM178 89h39v1h-39zM157 90h1v1h-1zM169 90h15v1h-15zM185 90h33v1h-33zM146 91h1v1h-1zM169 91h6v1h-6zM177 91h43v1h-43zM159 92h1v1h-1zM170 92h3v1h-3zM177 92h45v1h-45zM162 93h3v1h-3zM177 93h46v1h-46zM161 94h3v1h-3zM168 94h1v1h-1zM178 94h47v1h-47zM158 95h2v1h-2zM162 95h1v1h-1zM178 95h3v1h-3zM182 95h45v1h-45zM129 96h1v1h-1zM159 96h2v1h-2zM179 96h1v1h-1zM181 96h49v1h-49zM159 97h1v1h-1zM181 97h50v1h-50zM160 98h1v1h-1zM168 98h1v1h-1zM170 98h1v1h-1zM181 98h51v1h-51zM141 99h1v1h-1zM181 99h53v1h-53zM183 100h3v1h-3zM187 100h4v1h-4zM192 100h42v1h-42zM185 101h2v1h-2zM193 101h42v1h-42zM181 102h1v1h-1zM193 102h5v1h-5zM199 102h36v1h-36zM190 103h1v1h-1zM194 103h1v1h-1zM196 103h12v1h-12zM209 103h26v1h-26zM197 104h38v1h-38zM84 105h1v1h-1zM197 105h2v1h-2zM200 105h35v1h-35zM203 106h31v1h-31zM63 107h1v1h-1zM114 107h1v1h-1zM201 107h1v1h-1zM206 107h28v1h-28zM191 108h1v1h-1zM197 108h1v1h-1zM207 108h27v1h-27zM43 109h1v1h-1zM207 109h27v1h-27zM207 110h27v1h-27zM196 111h1v1h-1zM207 111h27v1h-27zM67 112h1v1h-1zM208 112h11v1h-11zM223 112h11v1h-11zM208 113h11v1h-11zM225 113h9v1h-9zM207 114h3v1h-3zM211 114h8v1h-8zM226 114h8v1h-8zM208 115h15v1h-15zM224 115h11v1h-11zM209 116h27v1h-27zM209 117h2v1h-2zM212 117h1v1h-1zM214 117h22v1h-22zM212 118h2v1h-2zM215 118h22v1h-22zM0 119h1v1h-1zM212 119h26v1h-26zM1 120h1v1h-1zM3 120h1v1h-1zM210 120h1v1h-1zM212 120h27v1h-27zM0 121h5v1h-5zM210 121h1v1h-1zM212 121h1v1h-1zM215 121h24v1h-24zM0 122h4v1h-4zM207 122h1v1h-1zM209 122h3v1h-3zM216 122h23v1h-23zM0 123h4v1h-4zM12 123h2v1h-2zM20 123h1v1h-1zM208 123h5v1h-5zM215 123h24v1h-24zM0 124h3v1h-3zM8 124h7v1h-7zM17 124h1v1h-1zM208 124h2v1h-2zM211 124h1v1h-1zM213 124h27v1h-27zM0 125h3v1h-3zM7 125h9v1h-9zM21 125h1v1h-1zM23 125h1v1h-1zM209 125h31v1h-31zM0 126h4v1h-4zM7 126h11v1h-11zM20 126h7v1h-7zM211 126h29v1h-29zM0 127h5v1h-5zM7 127h18v1h-18zM26 127h1v1h-1zM212 127h28v1h-28zM0 128h27v1h-27zM208 128h1v1h-1zM210 128h31v1h-31zM0 129h26v1h-26zM35 129h1v1h-1zM44 129h1v1h-1zM206 129h2v1h-2zM210 129h31v1h-31zM0 130h28v1h-28zM32 130h1v1h-1zM41 130h6v1h-6zM200 130h1v1h-1zM208 130h3v1h-3zM212 130h30v1h-30zM0 131h31v1h-31zM41 131h1v1h-1zM43 131h4v1h-4zM208 131h1v1h-1zM210 131h32v1h-32zM0 132h32v1h-32zM43 132h2v1h-2zM46 132h2v1h-2zM197 132h1v1h-1zM208 132h35v1h-35zM0 133h32v1h-32zM43 133h5v1h-5zM49 133h1v1h-1zM205 133h1v1h-1zM210 133h33v1h-33zM0 134h33v1h-33zM42 134h9v1h-9zM75 134h1v1h-1zM210 134h33v1h-33zM0 135h33v1h-33zM42 135h2v1h-2zM45 135h6v1h-6zM55 135h1v1h-1zM74 135h1v1h-1zM206 135h1v1h-1zM209 135h35v1h-35zM0 136h34v1h-34zM44 136h9v1h-9zM206 136h38v1h-38zM0 137h34v1h-34zM45 137h6v1h-6zM52 137h6v1h-6zM207 137h8v1h-8zM216 137h28v1h-28zM0 138h35v1h-35zM44 138h7v1h-7zM54 138h4v1h-4zM208 138h3v1h-3zM212 138h32v1h-32zM0 139h35v1h-35zM38 139h1v1h-1zM40 139h2v1h-2zM43 139h10v1h-10zM55 139h3v1h-3zM207 139h3v1h-3zM211 139h33v1h-33zM0 140h36v1h-36zM40 140h10v1h-10zM57 140h4v1h-4zM207 140h9v1h-9zM217 140h27v1h-27zM0 141h49v1h-49zM57 141h1v1h-1zM146 141h1v1h-1zM208 141h6v1h-6zM215 141h29v1h-29zM0 142h49v1h-49zM61 142h1v1h-1zM100 142h1v1h-1zM127 142h1v1h-1zM207 142h37v1h-37zM0 143h50v1h-50zM67 143h1v1h-1zM206 143h38v1h-38zM0 144h52v1h-52zM55 144h1v1h-1zM206 144h38v1h-38zM0 145h53v1h-53zM202 145h1v1h-1zM205 145h14v1h-14zM220 145h24v1h-24zM0 146h54v1h-54zM55 146h1v1h-1zM64 146h1v1h-1zM205 146h39v1h-39zM0 147h59v1h-59zM70 147h1v1h-1zM200 147h1v1h-1zM207 147h37v1h-37zM4 148h54v1h-54zM192 148h1v1h-1zM206 148h38v1h-38zM8 149h42v1h-42zM51 149h5v1h-5zM208 149h36v1h-36zM12 150h38v1h-38zM51 150h4v1h-4zM63 150h1v1h-1zM67 150h1v1h-1zM207 150h36v1h-36zM15 151h35v1h-35zM55 151h2v1h-2zM82 151h1v1h-1zM207 151h36v1h-36zM17 152h33v1h-33zM51 152h1v1h-1zM62 152h1v1h-1zM68 152h1v1h-1zM205 152h38v1h-38zM18 153h35v1h-35zM57 153h1v1h-1zM59 153h1v1h-1zM75 153h1v1h-1zM119 153h1v1h-1zM202 153h40v1h-40zM20 154h34v1h-34zM56 154h5v1h-5zM189 154h1v1h-1zM200 154h42v1h-42zM21 155h42v1h-42zM199 155h8v1h-8zM208 155h33v1h-33zM22 156h44v1h-44zM77 156h1v1h-1zM94 156h1v1h-1zM199 156h38v1h-38zM24 157h44v1h-44zM71 157h1v1h-1zM114 157h1v1h-1zM198 157h38v1h-38zM26 158h43v1h-43zM71 158h1v1h-1zM193 158h1v1h-1zM195 158h2v1h-2zM198 158h37v1h-37zM28 159h41v1h-41zM73 159h1v1h-1zM78 159h1v1h-1zM80 159h3v1h-3zM194 159h3v1h-3zM198 159h36v1h-36zM33 160h37v1h-37zM82 160h2v1h-2zM152 160h1v1h-1zM194 160h39v1h-39zM36 161h33v1h-33zM74 161h1v1h-1zM81 161h1v1h-1zM83 161h3v1h-3zM194 161h38v1h-38zM39 162h31v1h-31zM74 162h1v1h-1zM77 162h3v1h-3zM81 162h7v1h-7zM192 162h1v1h-1zM194 162h37v1h-37zM41 163h29v1h-29zM73 163h2v1h-2zM77 163h2v1h-2zM81 163h8v1h-8zM193 163h37v1h-37zM42 164h29v1h-29zM72 164h7v1h-7zM80 164h10v1h-10zM193 164h35v1h-35zM44 165h44v1h-44zM90 165h1v1h-1zM193 165h34v1h-34zM45 166h46v1h-46zM92 166h1v1h-1zM191 166h1v1h-1zM193 166h33v1h-33zM46 167h27v1h-27zM74 167h4v1h-4zM79 167h3v1h-3zM83 167h8v1h-8zM92 167h1v1h-1zM190 167h34v1h-34zM47 168h31v1h-31zM83 168h11v1h-11zM187 168h3v1h-3zM191 168h32v1h-32zM48 169h29v1h-29zM84 169h11v1h-11zM167 169h1v1h-1zM187 169h35v1h-35zM52 170h26v1h-26zM81 170h1v1h-1zM85 170h1v1h-1zM87 170h8v1h-8zM105 170h1v1h-1zM184 170h1v1h-1zM187 170h2v1h-2zM192 170h29v1h-29zM55 171h23v1h-23zM82 171h1v1h-1zM87 171h9v1h-9zM106 171h1v1h-1zM184 171h5v1h-5zM191 171h29v1h-29zM57 172h24v1h-24zM88 172h9v1h-9zM105 172h1v1h-1zM107 172h1v1h-1zM125 172h1v1h-1zM180 172h1v1h-1zM183 172h6v1h-6zM192 172h1v1h-1zM194 172h25v1h-25zM61 173h22v1h-22zM85 173h1v1h-1zM87 173h11v1h-11zM103 173h1v1h-1zM109 173h1v1h-1zM178 173h1v1h-1zM181 173h7v1h-7zM192 173h1v1h-1zM194 173h24v1h-24zM63 174h35v1h-35zM134 174h1v1h-1zM175 174h1v1h-1zM179 174h9v1h-9zM193 174h23v1h-23zM66 175h34v1h-34zM104 175h1v1h-1zM110 175h1v1h-1zM128 175h1v1h-1zM174 175h1v1h-1zM178 175h10v1h-10zM190 175h24v1h-24zM70 176h3v1h-3zM74 176h28v1h-28zM130 176h1v1h-1zM173 176h2v1h-2zM176 176h1v1h-1zM178 176h34v1h-34zM73 177h27v1h-27zM101 177h3v1h-3zM108 177h1v1h-1zM173 177h1v1h-1zM177 177h33v1h-33zM75 178h31v1h-31zM173 178h1v1h-1zM176 178h4v1h-4zM181 178h28v1h-28zM77 179h28v1h-28zM107 179h1v1h-1zM113 179h1v1h-1zM176 179h1v1h-1zM178 179h29v1h-29zM78 180h18v1h-18zM97 180h9v1h-9zM176 180h1v1h-1zM178 180h28v1h-28zM82 181h25v1h-25zM179 181h26v1h-26zM85 182h14v1h-14zM100 182h8v1h-8zM109 182h1v1h-1zM111 182h2v1h-2zM120 182h1v1h-1zM177 182h4v1h-4zM182 182h2v1h-2zM186 182h18v1h-18zM86 183h28v1h-28zM119 183h5v1h-5zM147 183h1v1h-1zM178 183h25v1h-25zM88 184h13v1h-13zM102 184h13v1h-13zM118 184h7v1h-7zM145 184h1v1h-1zM183 184h19v1h-19zM91 185h24v1h-24zM117 185h1v1h-1zM119 185h3v1h-3zM123 185h2v1h-2zM126 185h1v1h-1zM129 185h1v1h-1zM179 185h2v1h-2zM183 185h18v1h-18zM94 186h22v1h-22zM117 186h14v1h-14zM155 186h1v1h-1zM182 186h18v1h-18zM95 187h27v1h-27zM123 187h7v1h-7zM174 187h1v1h-1zM182 187h18v1h-18zM97 188h44v1h-44zM156 188h1v1h-1zM182 188h11v1h-11zM194 188h5v1h-5zM98 189h8v1h-8zM107 189h36v1h-36zM160 189h1v1h-1zM173 189h5v1h-5zM179 189h20v1h-20zM99 190h27v1h-27zM127 190h14v1h-14zM149 190h1v1h-1zM152 190h1v1h-1zM166 190h1v1h-1zM170 190h9v1h-9zM180 190h18v1h-18zM101 191h27v1h-27zM129 191h4v1h-4zM134 191h6v1h-6zM146 191h1v1h-1zM152 191h1v1h-1zM165 191h1v1h-1zM167 191h30v1h-30zM102 192h21v1h-21zM124 192h17v1h-17zM165 192h31v1h-31zM104 193h36v1h-36zM153 193h1v1h-1zM166 193h29v1h-29zM106 194h34v1h-34zM152 194h1v1h-1zM154 194h1v1h-1zM166 194h28v1h-28zM109 195h31v1h-31zM150 195h1v1h-1zM154 195h1v1h-1zM163 195h30v1h-30zM111 196h29v1h-29zM146 196h1v1h-1zM149 196h1v1h-1zM154 196h3v1h-3zM159 196h33v1h-33zM112 197h30v1h-30zM143 197h1v1h-1zM153 197h3v1h-3zM158 197h33v1h-33zM112 198h31v1h-31zM144 198h2v1h-2zM148 198h1v1h-1zM152 198h38v1h-38zM113 199h76v1h-76zM115 200h72v1h-72zM117 201h33v1h-33zM151 201h35v1h-35zM119 202h65v1h-65zM121 203h61v1h-61zM123 204h57v1h-57zM126 205h51v1h-51zM129 206h47v1h-47zM130 207h46v1h-46zM132 208h43v1h-43zM134 209h41v1h-41zM135 210h39v1h-39zM140 211h33v1h-33zM144 212h28v1h-28zM147 213h23v1h-23zM149 214h20v1h-20zM150 215h14v1h-14zM152 216h5v1h-5zM159 216h2v1h-2zM61 278h1v1h-1zM67 279h1v1h-1zM55 280h1v1h-1zM66 280h1v1h-1zM49 281h2v1h-2zM55 281h1v1h-1zM60 281h1v1h-1zM64 281h1v1h-1zM69 281h2v1h-2zM72 281h1v1h-1zM50 282h1v1h-1zM56 282h1v1h-1zM61 282h1v1h-1zM65 282h2v1h-2zM56 283h1v1h-1zM59 283h2v1h-2zM64 283h2v1h-2zM68 283h1v1h-1zM73 283h1v1h-1zM47 284h2v1h-2zM52 284h1v1h-1zM55 284h1v1h-1zM58 284h1v1h-1zM69 284h1v1h-1zM72 284h1v1h-1zM47 285h1v1h-1zM49 285h2v1h-2zM59 285h2v1h-2zM63 285h1v1h-1zM65 285h2v1h-2zM68 285h1v1h-1zM49 286h2v1h-2zM53 286h1v1h-1zM55 286h2v1h-2zM58 286h1v1h-1zM61 286h1v1h-1zM63 286h1v1h-1zM65 286h3v1h-3zM70 286h5v1h-5zM46 287h3v1h-3zM50 287h5v1h-5zM56 287h2v1h-2zM59 287h1v1h-1zM61 287h1v1h-1zM65 287h2v1h-2zM68 287h1v1h-1zM73 287h1v1h-1zM75 287h1v1h-1zM44 288h1v1h-1zM46 288h1v1h-1zM49 288h1v1h-1zM51 288h2v1h-2zM54 288h2v1h-2zM57 288h1v1h-1zM59 288h2v1h-2zM63 288h4v1h-4zM74 288h1v1h-1zM44 289h1v1h-1zM48 289h2v1h-2zM52 289h5v1h-5zM58 289h1v1h-1zM61 289h1v1h-1zM64 289h1v1h-1zM66 289h2v1h-2zM69 289h1v1h-1zM43 290h2v1h-2zM47 290h1v1h-1zM49 290h1v1h-1zM53 290h1v1h-1zM55 290h1v1h-1zM58 290h1v1h-1zM62 290h2v1h-2zM65 290h1v1h-1zM68 290h5v1h-5zM74 290h2v1h-2zM43 291h1v1h-1zM45 291h2v1h-2zM49 291h2v1h-2zM54 291h1v1h-1zM56 291h5v1h-5zM62 291h2v1h-2zM68 291h1v1h-1zM70 291h6v1h-6zM43 292h1v1h-1zM46 292h1v1h-1zM48 292h2v1h-2zM52 292h3v1h-3zM56 292h2v1h-2zM59 292h1v1h-1zM61 292h7v1h-7zM71 292h1v1h-1zM73 292h2v1h-2zM44 293h1v1h-1zM46 293h1v1h-1zM48 293h1v1h-1zM51 293h2v1h-2zM58 293h1v1h-1zM61 293h2v1h-2zM65 293h1v1h-1zM70 293h2v1h-2zM43 294h1v1h-1zM45 294h1v1h-1zM47 294h5v1h-5zM53 294h1v1h-1zM57 294h1v1h-1zM65 294h1v1h-1zM67 294h3v1h-3zM73 294h1v1h-1zM75 294h1v1h-1zM43 295h1v1h-1zM45 295h1v1h-1zM47 295h1v1h-1zM49 295h1v1h-1zM52 295h2v1h-2zM57 295h2v1h-2zM60 295h2v1h-2zM73 295h3v1h-3zM46 296h1v1h-1zM50 296h3v1h-3zM54 296h1v1h-1zM63 296h2v1h-2zM69 296h1v1h-1zM71 296h1v1h-1zM73 296h1v1h-1zM43 297h4v1h-4zM50 297h3v1h-3zM54 297h9v1h-9zM64 297h1v1h-1zM66 297h1v1h-1zM68 297h1v1h-1zM70 297h1v1h-1zM72 297h2v1h-2zM45 298h1v1h-1zM47 298h2v1h-2zM50 298h1v1h-1zM54 298h2v1h-2zM58 298h2v1h-2zM62 298h1v1h-1zM64 298h1v1h-1zM67 298h1v1h-1zM70 298h5v1h-5zM45 299h1v1h-1zM48 299h4v1h-4zM55 299h1v1h-1zM59 299h1v1h-1zM64 299h1v1h-1zM67 299h3v1h-3zM71 299h3v1h-3z"/>
<path fill="#88284f" d="M0 0h3v1h-3zM0 1h3v1h-3zM1 2h2v1h-2zM0 4h1v1h-1zM0 5h4v1h-4zM0 6h1v1h-1zM3 6h1v1h-1zM0 7h4v1h-4zM0 8h6v1h-6zM0 9h6v1h-6zM0 10h3v1h-3zM4 10h3v1h-3zM0 11h7v1h-7zM13 11h1v1h-1zM0 12h3v1h-3zM4 12h3v1h-3zM0 13h9v1h-9zM1 14h8v1h-8zM11 14h1v1h-1zM0 15h8v1h-8zM9 15h1v1h-1zM0 16h13v1h-13zM0 17h13v1h-13zM0 18h14v1h-14zM0 19h13v1h-13zM22 19h1v1h-1zM0 20h15v1h-15zM0 21h16v1h-16zM0 22h7v1h-7zM8 22h6v1h-6zM15 22h2v1h-2zM0 23h11v1h-11zM12 23h3v1h-3zM16 23h1v1h-1zM34 23h1v1h-1zM36 23h1v1h-1zM0 24h15v1h-15zM38 24h1v1h-1zM0 25h16v1h-16zM38 25h1v1h-1zM0 26h18v1h-18zM34 26h1v1h-1zM0 27h18v1h-18zM0 28h19v1h-19zM20 28h1v1h-1zM0 29h18v1h-18zM40 29h1v1h-1zM47 29h1v1h-1zM0 30h13v1h-13zM14 30h4v1h-4zM25 30h1v1h-1zM41 30h1v1h-1zM0 31h17v1h-17zM22 31h1v1h-1zM40 31h3v1h-3zM0 32h21v1h-21zM31 32h2v1h-2zM40 32h2v1h-2zM0 33h25v1h-25zM26 33h1v1h-1zM30 33h1v1h-1zM40 33h3v1h-3zM0 34h16v1h-16zM17 34h10v1h-10zM39 34h2v1h-2zM88 34h1v1h-1zM0 35h27v1h-27zM32 35h2v1h-2zM35 35h2v1h-2zM39 35h2v1h-2zM0 36h31v1h-31zM32 36h1v1h-1zM34 36h4v1h-4zM40 36h1v1h-1zM0 37h31v1h-31zM33 37h5v1h-5zM0 38h9v1h-9zM10 38h22v1h-22zM33 38h6v1h-6zM42 38h1v1h-1zM0 39h39v1h-39zM54 39h1v1h-1zM0 40h39v1h-39zM44 40h1v1h-1zM0 41h40v1h-40zM0 42h26v1h-26zM27 42h14v1h-14zM2 43h29v1h-29zM32 43h9v1h-9zM46 43h1v1h-1zM61 43h1v1h-1zM2 44h2v1h-2zM8 44h4v1h-4zM13 44h24v1h-24zM38 44h5v1h-5zM2 45h2v1h-2zM8 45h3v1h-3zM13 45h27v1h-27zM41 45h5v1h-5zM14 46h34v1h-34zM51 46h1v1h-1zM12 47h1v1h-1zM14 47h35v1h-35zM53 47h1v1h-1zM57 47h1v1h-1zM13 48h36v1h-36zM13 49h29v1h-29zM45 49h6v1h-6zM54 49h1v1h-1zM13 50h29v1h-29zM45 50h2v1h-2zM48 50h2v1h-2zM57 50h1v1h-1zM67 50h1v1h-1zM79 50h1v1h-1zM14 51h20v1h-20zM35 51h11v1h-11zM47 51h5v1h-5zM62 51h2v1h-2zM65 51h8v1h-8zM14 52h2v1h-2zM17 52h29v1h-29zM47 52h2v1h-2zM52 52h3v1h-3zM57 52h4v1h-4zM62 52h11v1h-11zM18 53h27v1h-27zM46 53h4v1h-4zM51 53h25v1h-25zM80 53h2v1h-2zM20 54h56v1h-56zM80 54h1v1h-1zM83 54h1v1h-1zM21 55h30v1h-30zM52 55h26v1h-26zM80 55h2v1h-2zM83 55h4v1h-4zM20 56h37v1h-37zM58 56h17v1h-17zM76 56h3v1h-3zM80 56h7v1h-7zM21 57h37v1h-37zM59 57h6v1h-6zM66 57h13v1h-13zM80 57h1v1h-1zM82 57h2v1h-2zM85 57h3v1h-3zM90 57h3v1h-3zM22 58h47v1h-47zM70 58h8v1h-8zM79 58h5v1h-5zM86 58h2v1h-2zM91 58h2v1h-2zM23 59h64v1h-64zM91 59h3v1h-3zM95 59h8v1h-8zM25 60h24v1h-24zM50 60h36v1h-36zM91 60h4v1h-4zM96 60h1v1h-1zM99 60h4v1h-4zM25 61h38v1h-38zM64 61h2v1h-2zM67 61h18v1h-18zM86 61h4v1h-4zM91 61h4v1h-4zM97 61h6v1h-6zM104 61h1v1h-1zM27 62h7v1h-7zM35 62h57v1h-57zM93 62h6v1h-6zM100 62h1v1h-1zM102 62h1v1h-1zM27 63h5v1h-5zM35 63h65v1h-65zM104 63h4v1h-4zM28 64h3v1h-3zM40 64h1v1h-1zM44 64h1v1h-1zM46 64h54v1h-54zM106 64h4v1h-4zM124 64h1v1h-1zM40 65h1v1h-1zM46 65h56v1h-56zM103 65h9v1h-9zM122 65h1v1h-1zM134 65h1v1h-1zM40 66h1v1h-1zM47 66h32v1h-32zM80 66h23v1h-23zM104 66h2v1h-2zM107 66h4v1h-4zM41 67h1v1h-1zM45 67h2v1h-2zM48 67h65v1h-65zM114 67h1v1h-1zM41 68h3v1h-3zM48 68h48v1h-48zM97 68h20v1h-20zM41 69h2v1h-2zM49 69h23v1h-23zM73 69h28v1h-28zM102 69h1v1h-1zM107 69h11v1h-11zM131 69h1v1h-1zM43 70h3v1h-3zM54 70h48v1h-48zM103 70h1v1h-1zM108 70h7v1h-7zM116 70h2v1h-2zM130 70h1v1h-1zM132 70h2v1h-2zM51 71h4v1h-4zM56 71h50v1h-50zM107 71h10v1h-10zM129 71h7v1h-7zM143 71h1v1h-1zM54 72h63v1h-63zM129 72h8v1h-8zM141 72h1v1h-1zM143 72h1v1h-1zM27 73h1v1h-1zM56 73h62v1h-62zM123 73h1v1h-1zM125 73h2v1h-2zM130 73h2v1h-2zM133 73h4v1h-4zM57 74h63v1h-63zM129 74h8v1h-8zM147 74h1v1h-1zM57 75h1v1h-1zM59 75h57v1h-57zM117 75h2v1h-2zM129 75h8v1h-8zM61 76h58v1h-58zM127 76h10v1h-10zM154 76h1v1h-1zM26 77h1v1h-1zM64 77h54v1h-54zM126 77h10v1h-10zM66 78h52v1h-52zM121 78h1v1h-1zM125 78h1v1h-1zM128 78h9v1h-9zM66 79h53v1h-53zM128 79h8v1h-8zM66 80h53v1h-53zM127 80h1v1h-1zM130 80h1v1h-1zM132 80h4v1h-4zM68 81h48v1h-48zM117 81h2v1h-2zM120 81h3v1h-3zM124 81h2v1h-2zM127 81h1v1h-1zM131 81h5v1h-5zM69 82h59v1h-59zM131 82h5v1h-5zM142 82h5v1h-5zM155 82h1v1h-1zM14 83h1v1h-1zM72 83h31v1h-31zM104 83h24v1h-24zM129 83h5v1h-5zM138 83h1v1h-1zM143 83h5v1h-5zM154 83h2v1h-2zM172 83h1v1h-1zM73 84h10v1h-10zM86 84h45v1h-45zM133 84h2v1h-2zM137 84h2v1h-2zM143 84h3v1h-3zM147 84h2v1h-2zM150 84h7v1h-7zM160 84h2v1h-2zM73 85h2v1h-2zM76 85h6v1h-6zM86 85h49v1h-49zM142 85h13v1h-13zM159 85h4v1h-4zM175 85h2v1h-2zM77 86h1v1h-1zM86 86h49v1h-49zM141 86h13v1h-13zM159 86h6v1h-6zM85 87h51v1h-51zM142 87h6v1h-6zM149 87h3v1h-3zM153 87h1v1h-1zM155 87h1v1h-1zM158 87h6v1h-6zM88 88h1v1h-1zM90 88h9v1h-9zM100 88h54v1h-54zM159 88h5v1h-5zM171 88h1v1h-1zM176 88h1v1h-1zM91 89h11v1h-11zM103 89h55v1h-55zM159 89h2v1h-2zM162 89h4v1h-4zM170 89h1v1h-1zM177 89h1v1h-1zM94 90h63v1h-63zM158 90h11v1h-11zM184 90h1v1h-1zM91 91h1v1h-1zM94 91h1v1h-1zM96 91h50v1h-50zM147 91h22v1h-22zM175 91h2v1h-2zM91 92h1v1h-1zM94 92h65v1h-65zM160 92h10v1h-10zM173 92h4v1h-4zM88 93h2v1h-2zM96 93h3v1h-3zM100 93h3v1h-3zM105 93h57v1h-57zM165 93h12v1h-12zM89 94h1v1h-1zM97 94h1v1h-1zM105 94h1v1h-1zM107 94h54v1h-54zM164 94h4v1h-4zM169 94h9v1h-9zM108 95h50v1h-50zM160 95h2v1h-2zM163 95h15v1h-15zM181 95h1v1h-1zM109 96h20v1h-20zM130 96h29v1h-29zM161 96h18v1h-18zM180 96h1v1h-1zM110 97h1v1h-1zM113 97h46v1h-46zM160 97h21v1h-21zM104 98h1v1h-1zM113 98h47v1h-47zM161 98h7v1h-7zM169 98h1v1h-1zM171 98h10v1h-10zM114 99h27v1h-27zM142 99h39v1h-39zM116 100h67v1h-67zM186 100h1v1h-1zM191 100h1v1h-1zM116 101h69v1h-69zM187 101h6v1h-6zM117 102h64v1h-64zM182 102h11v1h-11zM198 102h1v1h-1zM119 103h1v1h-1zM122 103h68v1h-68zM191 103h3v1h-3zM195 103h1v1h-1zM208 103h1v1h-1zM56 104h1v1h-1zM122 104h75v1h-75zM123 105h74v1h-74zM199 105h1v1h-1zM123 106h80v1h-80zM125 107h2v1h-2zM128 107h73v1h-73zM202 107h4v1h-4zM128 108h63v1h-63zM192 108h5v1h-5zM198 108h9v1h-9zM127 109h80v1h-80zM50 110h1v1h-1zM74 110h1v1h-1zM127 110h80v1h-80zM128 111h68v1h-68zM197 111h10v1h-10zM128 112h80v1h-80zM219 112h4v1h-4zM127 113h1v1h-1zM132 113h1v1h-1zM135 113h73v1h-73zM219 113h6v1h-6zM137 114h70v1h-70zM210 114h1v1h-1zM219 114h7v1h-7zM137 115h71v1h-71zM223 115h1v1h-1zM84 116h1v1h-1zM138 116h71v1h-71zM138 117h71v1h-71zM211 117h1v1h-1zM213 117h1v1h-1zM138 118h1v1h-1zM141 118h3v1h-3zM146 118h66v1h-66zM214 118h1v1h-1zM3 119h1v1h-1zM148 119h64v1h-64zM0 120h1v1h-1zM14 120h1v1h-1zM149 120h61v1h-61zM211 120h1v1h-1zM108 121h1v1h-1zM149 121h1v1h-1zM151 121h59v1h-59zM211 121h1v1h-1zM213 121h2v1h-2zM151 122h56v1h-56zM208 122h1v1h-1zM212 122h4v1h-4zM152 123h56v1h-56zM213 123h2v1h-2zM153 124h55v1h-55zM210 124h1v1h-1zM212 124h1v1h-1zM22 125h1v1h-1zM24 125h1v1h-1zM27 125h1v1h-1zM153 125h56v1h-56zM27 126h1v1h-1zM54 126h1v1h-1zM156 126h1v1h-1zM158 126h53v1h-53zM25 127h1v1h-1zM27 127h3v1h-3zM32 127h2v1h-2zM158 127h54v1h-54zM27 128h7v1h-7zM37 128h3v1h-3zM42 128h1v1h-1zM160 128h48v1h-48zM209 128h1v1h-1zM26 129h9v1h-9zM37 129h6v1h-6zM161 129h3v1h-3zM168 129h5v1h-5zM174 129h32v1h-32zM208 129h2v1h-2zM28 130h4v1h-4zM33 130h8v1h-8zM171 130h2v1h-2zM175 130h6v1h-6zM182 130h3v1h-3zM186 130h14v1h-14zM201 130h7v1h-7zM211 130h1v1h-1zM31 131h10v1h-10zM42 131h1v1h-1zM175 131h6v1h-6zM182 131h1v1h-1zM185 131h23v1h-23zM209 131h1v1h-1zM32 132h11v1h-11zM45 132h1v1h-1zM67 132h1v1h-1zM111 132h1v1h-1zM177 132h3v1h-3zM187 132h10v1h-10zM198 132h10v1h-10zM32 133h11v1h-11zM189 133h16v1h-16zM206 133h4v1h-4zM33 134h9v1h-9zM191 134h19v1h-19zM33 135h9v1h-9zM44 135h1v1h-1zM186 135h1v1h-1zM191 135h15v1h-15zM207 135h2v1h-2zM34 136h10v1h-10zM191 136h15v1h-15zM34 137h11v1h-11zM51 137h1v1h-1zM59 137h1v1h-1zM191 137h16v1h-16zM215 137h1v1h-1zM35 138h9v1h-9zM51 138h3v1h-3zM58 138h3v1h-3zM168 138h1v1h-1zM192 138h16v1h-16zM211 138h1v1h-1zM35 139h3v1h-3zM39 139h1v1h-1zM42 139h1v1h-1zM53 139h2v1h-2zM58 139h4v1h-4zM191 139h16v1h-16zM210 139h1v1h-1zM36 140h4v1h-4zM50 140h7v1h-7zM61 140h2v1h-2zM65 140h1v1h-1zM71 140h1v1h-1zM193 140h14v1h-14zM216 140h1v1h-1zM49 141h8v1h-8zM58 141h4v1h-4zM64 141h8v1h-8zM192 141h16v1h-16zM214 141h1v1h-1zM49 142h12v1h-12zM63 142h10v1h-10zM77 142h1v1h-1zM193 142h14v1h-14zM50 143h17v1h-17zM68 143h6v1h-6zM192 143h14v1h-14zM52 144h3v1h-3zM56 144h19v1h-19zM192 144h14v1h-14zM53 145h22v1h-22zM192 145h10v1h-10zM203 145h2v1h-2zM219 145h1v1h-1zM54 146h1v1h-1zM56 146h8v1h-8zM65 146h11v1h-11zM141 146h1v1h-1zM165 146h1v1h-1zM193 146h12v1h-12zM59 147h11v1h-11zM71 147h5v1h-5zM80 147h1v1h-1zM193 147h7v1h-7zM201 147h6v1h-6zM58 148h25v1h-25zM193 148h1v1h-1zM199 148h7v1h-7zM50 149h1v1h-1zM56 149h31v1h-31zM99 149h2v1h-2zM200 149h5v1h-5zM206 149h2v1h-2zM50 150h1v1h-1zM55 150h8v1h-8zM64 150h3v1h-3zM68 150h20v1h-20zM89 150h2v1h-2zM92 150h5v1h-5zM99 150h5v1h-5zM200 150h6v1h-6zM50 151h5v1h-5zM57 151h25v1h-25zM83 151h21v1h-21zM202 151h2v1h-2zM206 151h1v1h-1zM50 152h1v1h-1zM52 152h10v1h-10zM63 152h5v1h-5zM69 152h35v1h-35zM105 152h2v1h-2zM202 152h1v1h-1zM204 152h1v1h-1zM53 153h4v1h-4zM58 153h1v1h-1zM60 153h15v1h-15zM76 153h31v1h-31zM110 153h2v1h-2zM114 153h2v1h-2zM54 154h2v1h-2zM61 154h50v1h-50zM113 154h2v1h-2zM199 154h1v1h-1zM63 155h48v1h-48zM113 155h1v1h-1zM117 155h2v1h-2zM207 155h1v1h-1zM66 156h11v1h-11zM78 156h16v1h-16zM95 156h16v1h-16zM112 156h7v1h-7zM68 157h3v1h-3zM72 157h39v1h-39zM112 157h2v1h-2zM115 157h7v1h-7zM128 157h3v1h-3zM69 158h2v1h-2zM72 158h62v1h-62zM69 159h4v1h-4zM74 159h4v1h-4zM79 159h1v1h-1zM83 159h51v1h-51zM70 160h12v1h-12zM84 160h51v1h-51zM190 160h1v1h-1zM192 160h2v1h-2zM69 161h5v1h-5zM75 161h6v1h-6zM82 161h1v1h-1zM86 161h49v1h-49zM141 161h3v1h-3zM189 161h2v1h-2zM192 161h2v1h-2zM70 162h4v1h-4zM75 162h2v1h-2zM80 162h1v1h-1zM88 162h44v1h-44zM139 162h6v1h-6zM189 162h3v1h-3zM193 162h1v1h-1zM70 163h3v1h-3zM75 163h2v1h-2zM79 163h2v1h-2zM89 163h45v1h-45zM138 163h8v1h-8zM188 163h5v1h-5zM71 164h1v1h-1zM79 164h1v1h-1zM90 164h45v1h-45zM136 164h10v1h-10zM148 164h3v1h-3zM186 164h7v1h-7zM88 165h2v1h-2zM91 165h61v1h-61zM153 165h1v1h-1zM185 165h8v1h-8zM91 166h1v1h-1zM93 166h62v1h-62zM184 166h7v1h-7zM192 166h1v1h-1zM73 167h1v1h-1zM78 167h1v1h-1zM82 167h1v1h-1zM91 167h1v1h-1zM93 167h62v1h-62zM159 167h2v1h-2zM165 167h3v1h-3zM181 167h1v1h-1zM183 167h7v1h-7zM78 168h5v1h-5zM94 168h63v1h-63zM158 168h12v1h-12zM180 168h7v1h-7zM190 168h1v1h-1zM77 169h7v1h-7zM95 169h72v1h-72zM168 169h3v1h-3zM174 169h1v1h-1zM179 169h8v1h-8zM78 170h3v1h-3zM82 170h3v1h-3zM86 170h1v1h-1zM95 170h10v1h-10zM106 170h65v1h-65zM179 170h5v1h-5zM185 170h2v1h-2zM189 170h3v1h-3zM78 171h4v1h-4zM83 171h4v1h-4zM96 171h10v1h-10zM107 171h63v1h-63zM171 171h1v1h-1zM177 171h7v1h-7zM189 171h2v1h-2zM81 172h7v1h-7zM97 172h8v1h-8zM106 172h1v1h-1zM108 172h17v1h-17zM126 172h46v1h-46zM173 172h2v1h-2zM176 172h4v1h-4zM181 172h2v1h-2zM189 172h3v1h-3zM193 172h1v1h-1zM83 173h2v1h-2zM86 173h1v1h-1zM98 173h5v1h-5zM104 173h5v1h-5zM110 173h61v1h-61zM172 173h6v1h-6zM179 173h2v1h-2zM188 173h4v1h-4zM193 173h1v1h-1zM98 174h36v1h-36zM135 174h36v1h-36zM172 174h3v1h-3zM176 174h3v1h-3zM188 174h5v1h-5zM100 175h4v1h-4zM105 175h5v1h-5zM111 175h17v1h-17zM129 175h45v1h-45zM175 175h3v1h-3zM188 175h2v1h-2zM73 176h1v1h-1zM102 176h28v1h-28zM131 176h42v1h-42zM175 176h1v1h-1zM177 176h1v1h-1zM100 177h1v1h-1zM104 177h4v1h-4zM109 177h64v1h-64zM174 177h3v1h-3zM106 178h67v1h-67zM174 178h2v1h-2zM180 178h1v1h-1zM105 179h2v1h-2zM108 179h5v1h-5zM114 179h62v1h-62zM177 179h1v1h-1zM96 180h1v1h-1zM106 180h70v1h-70zM177 180h1v1h-1zM107 181h72v1h-72zM99 182h1v1h-1zM108 182h1v1h-1zM110 182h1v1h-1zM113 182h7v1h-7zM121 182h56v1h-56zM181 182h1v1h-1zM184 182h2v1h-2zM114 183h5v1h-5zM124 183h23v1h-23zM148 183h30v1h-30zM101 184h1v1h-1zM115 184h3v1h-3zM125 184h20v1h-20zM146 184h37v1h-37zM115 185h2v1h-2zM118 185h1v1h-1zM122 185h1v1h-1zM125 185h1v1h-1zM127 185h2v1h-2zM130 185h49v1h-49zM181 185h2v1h-2zM116 186h1v1h-1zM131 186h24v1h-24zM156 186h26v1h-26zM122 187h1v1h-1zM130 187h44v1h-44zM175 187h7v1h-7zM141 188h15v1h-15zM157 188h25v1h-25zM193 188h1v1h-1zM106 189h1v1h-1zM143 189h17v1h-17zM161 189h12v1h-12zM178 189h1v1h-1zM126 190h1v1h-1zM141 190h8v1h-8zM150 190h2v1h-2zM153 190h13v1h-13zM167 190h3v1h-3zM179 190h1v1h-1zM128 191h1v1h-1zM133 191h1v1h-1zM140 191h6v1h-6zM147 191h5v1h-5zM153 191h12v1h-12zM166 191h1v1h-1zM123 192h1v1h-1zM141 192h24v1h-24zM140 193h13v1h-13zM154 193h12v1h-12zM140 194h12v1h-12zM153 194h1v1h-1zM155 194h11v1h-11zM140 195h10v1h-10zM151 195h3v1h-3zM155 195h8v1h-8zM140 196h6v1h-6zM147 196h2v1h-2zM150 196h4v1h-4zM157 196h2v1h-2zM142 197h1v1h-1zM144 197h9v1h-9zM156 197h2v1h-2zM143 198h1v1h-1zM146 198h2v1h-2zM149 198h3v1h-3zM150 201h1v1h-1z"/>
<path fill="#c99f84" d="M0 43h2v1h-2zM0 44h2v1h-2zM4 44h4v1h-4zM12 44h1v1h-1zM0 45h2v1h-2zM4 45h4v1h-4zM11 45h2v1h-2zM0 46h14v1h-14zM0 47h12v1h-12zM13 47h1v1h-1zM0 48h13v1h-13zM0 49h13v1h-13zM0 50h13v1h-13zM0 51h14v1h-14zM0 52h14v1h-14zM16 52h1v1h-1zM0 53h18v1h-18zM0 54h20v1h-20zM0 55h21v1h-21zM0 56h20v1h-20zM0 57h7v1h-7zM8 57h13v1h-13zM0 58h22v1h-22zM0 59h23v1h-23zM0 60h25v1h-25zM0 61h25v1h-25zM0 62h27v1h-27zM34 62h1v1h-1zM0 63h27v1h-27zM32 63h1v1h-1zM34 63h1v1h-1zM0 64h28v1h-28zM31 64h9v1h-9zM41 64h3v1h-3zM45 64h1v1h-1zM0 65h40v1h-40zM41 65h5v1h-5zM0 66h40v1h-40zM41 66h6v1h-6zM0 67h41v1h-41zM42 67h3v1h-3zM47 67h1v1h-1zM0 68h41v1h-41zM44 68h4v1h-4zM0 69h41v1h-41zM43 69h6v1h-6zM0 70h43v1h-43zM46 70h8v1h-8zM0 71h51v1h-51zM55 71h1v1h-1zM0 72h54v1h-54zM0 73h27v1h-27zM28 73h28v1h-28zM0 74h57v1h-57zM0 75h57v1h-57zM58 75h1v1h-1zM0 76h61v1h-61zM0 77h26v1h-26zM27 77h37v1h-37zM0 78h66v1h-66zM0 79h66v1h-66zM0 80h11v1h-11zM12 80h54v1h-54zM0 81h68v1h-68zM0 82h69v1h-69zM0 83h14v1h-14zM15 83h29v1h-29zM45 83h27v1h-27zM0 84h73v1h-73zM83 84h3v1h-3zM0 85h73v1h-73zM75 85h1v1h-1zM82 85h4v1h-4zM0 86h77v1h-77zM78 86h8v1h-8zM0 87h85v1h-85zM0 88h88v1h-88zM89 88h1v1h-1zM0 89h91v1h-91zM102 89h1v1h-1zM0 90h94v1h-94zM0 91h91v1h-91zM92 91h2v1h-2zM95 91h1v1h-1zM0 92h91v1h-91zM92 92h2v1h-2zM0 93h88v1h-88zM90 93h6v1h-6zM99 93h1v1h-1zM103 93h2v1h-2zM0 94h89v1h-89zM90 94h7v1h-7zM98 94h7v1h-7zM106 94h1v1h-1zM0 95h108v1h-108zM0 96h109v1h-109zM0 97h110v1h-110zM111 97h2v1h-2zM0 98h104v1h-104zM105 98h8v1h-8zM0 99h114v1h-114zM0 100h116v1h-116zM0 101h116v1h-116zM0 102h117v1h-117zM0 103h119v1h-119zM120 103h2v1h-2zM0 104h56v1h-56zM57 104h65v1h-65zM0 105h84v1h-84zM85 105h38v1h-38zM0 106h123v1h-123zM0 107h63v1h-63zM64 107h50v1h-50zM115 107h10v1h-10zM127 107h1v1h-1zM0 108h128v1h-128zM0 109h43v1h-43zM44 109h83v1h-83zM0 110h50v1h-50zM51 110h23v1h-23zM75 110h52v1h-52zM0 111h128v1h-128zM0 112h67v1h-67zM68 112h60v1h-60zM0 113h127v1h-127zM128 113h4v1h-4zM133 113h2v1h-2zM0 114h137v1h-137zM0 115h137v1h-137zM0 116h84v1h-84zM85 116h53v1h-53zM0 117h138v1h-138zM0 118h138v1h-138zM139 118h2v1h-2zM144 118h2v1h-2zM1 119h2v1h-2zM4 119h144v1h-144zM2 120h1v1h-1zM4 120h10v1h-10zM15 120h134v1h-134zM5 121h103v1h-103zM109 121h40v1h-40zM150 121h1v1h-1zM4 122h147v1h-147zM4 123h8v1h-8zM14 123h6v1h-6zM21 123h131v1h-131zM3 124h5v1h-5zM15 124h2v1h-2zM18 124h135v1h-135zM3 125h4v1h-4zM16 125h5v1h-5zM25 125h2v1h-2zM28 125h125v1h-125zM4 126h3v1h-3zM18 126h2v1h-2zM28 126h26v1h-26zM55 126h101v1h-101zM157 126h1v1h-1zM5 127h2v1h-2zM30 127h2v1h-2zM34 127h124v1h-124zM34 128h3v1h-3zM40 128h2v1h-2zM43 128h117v1h-117zM36 129h1v1h-1zM43 129h1v1h-1zM45 129h116v1h-116zM164 129h4v1h-4zM173 129h1v1h-1zM47 130h124v1h-124zM173 130h2v1h-2zM181 130h1v1h-1zM185 130h1v1h-1zM47 131h128v1h-128zM181 131h1v1h-1zM183 131h2v1h-2zM48 132h19v1h-19zM68 132h43v1h-43zM112 132h65v1h-65zM180 132h7v1h-7zM48 133h1v1h-1zM50 133h139v1h-139zM51 134h24v1h-24zM76 134h115v1h-115zM51 135h4v1h-4zM56 135h18v1h-18zM75 135h111v1h-111zM187 135h4v1h-4zM53 136h138v1h-138zM58 137h1v1h-1zM60 137h131v1h-131zM61 138h107v1h-107zM169 138h23v1h-23zM62 139h129v1h-129zM63 140h2v1h-2zM66 140h5v1h-5zM72 140h121v1h-121zM62 141h2v1h-2zM72 141h74v1h-74zM147 141h45v1h-45zM62 142h1v1h-1zM73 142h4v1h-4zM78 142h22v1h-22zM101 142h26v1h-26zM128 142h65v1h-65zM74 143h118v1h-118zM75 144h117v1h-117zM75 145h117v1h-117zM76 146h65v1h-65zM142 146h23v1h-23zM166 146h27v1h-27zM76 147h4v1h-4zM81 147h112v1h-112zM83 148h109v1h-109zM194 148h5v1h-5zM87 149h12v1h-12zM101 149h99v1h-99zM205 149h1v1h-1zM88 150h1v1h-1zM91 150h1v1h-1zM97 150h2v1h-2zM104 150h96v1h-96zM206 150h1v1h-1zM104 151h98v1h-98zM204 151h2v1h-2zM104 152h1v1h-1zM107 152h95v1h-95zM203 152h1v1h-1zM107 153h3v1h-3zM112 153h2v1h-2zM116 153h3v1h-3zM120 153h82v1h-82zM111 154h2v1h-2zM115 154h74v1h-74zM190 154h9v1h-9zM111 155h2v1h-2zM114 155h3v1h-3zM119 155h80v1h-80zM111 156h1v1h-1zM119 156h80v1h-80zM111 157h1v1h-1zM122 157h6v1h-6zM131 157h67v1h-67zM134 158h59v1h-59zM194 158h1v1h-1zM197 158h1v1h-1zM134 159h60v1h-60zM197 159h1v1h-1zM135 160h17v1h-17zM153 160h37v1h-37zM191 160h1v1h-1zM135 161h6v1h-6zM144 161h45v1h-45zM191 161h1v1h-1zM132 162h7v1h-7zM145 162h44v1h-44zM134 163h4v1h-4zM146 163h42v1h-42zM135 164h1v1h-1zM146 164h2v1h-2zM151 164h35v1h-35zM152 165h1v1h-1zM154 165h31v1h-31zM155 166h29v1h-29zM155 167h4v1h-4zM161 167h4v1h-4zM168 167h13v1h-13zM182 167h1v1h-1zM157 168h1v1h-1zM170 168h10v1h-10zM171 169h3v1h-3zM175 169h4v1h-4zM171 170h8v1h-8zM170 171h1v1h-1zM172 171h5v1h-5zM172 172h1v1h-1zM175 172h1v1h-1zM171 173h1v1h-1zM171 174h1v1h-1z"/>
</g>
<rect x="1427.5" y="863.76" width="12.10" height="81.34" fill="#e2d8e2"/>
<rect x="1427.5" y="782.72" width="12.10" height="81.34" fill="#6a8bc4"/>
<rect x="1427.5" y="701.68" width="12.10" height="81.34" fill="#4a1561"/>
<rect x="1427.5" y="620.64" width="12.10" height="81.34" fill="#88284f"/>
<rect x="1427.5" y="539.60" width="12.10" height="81.34" fill="#c99f84"/>
<line x1="566.9" y1="5.6" x2="566.9" y2="410.4" stroke="#000" stroke-width="1.7" stroke-dasharray="1.7 2.72"/>
<line x1="117.2" y1="335.9" x2="826.4" y2="335.9" stroke="#000" stroke-width="1.7" stroke-dasharray="1.7 2.72"/>
<line x1="870.3" y1="335.9" x2="1543.7" y2="335.9" stroke="#000" stroke-width="1.7" stroke-dasharray="1.7 2.72"/>
<line x1="566.9" y1="557.3" x2="566.9" y2="944.9" stroke="#000" stroke-width="1.7" stroke-dasharray="1.7 2.72"/>
<rect x="117.2" y="5.6" width="709.20" height="404.80" fill="none" stroke="#000" stroke-width="1.6"/>
<rect x="870.3" y="5.6" width="709.40" height="405.00" fill="none" stroke="#000" stroke-width="1.6"/>
<rect x="117.4" y="539.4" width="709.60" height="405.50" fill="none" stroke="#000" stroke-width="1.6"/>
<rect x="1009.9" y="539.6" width="405.40" height="405.20" fill="none" stroke="#000" stroke-width="1.6"/>
<rect x="1427.5" y="539.6" width="12.10" height="405.20" fill="none" stroke="#000" stroke-width="1.6"/>
<line x1="105.90" y1="353.30" x2="117.20" y2="353.30" stroke="#000" stroke-width="1.6"/>
<text x="94.60" y="365.60" text-anchor="end" class="t">1.0</text>
<line x1="105.90" y1="245.95" x2="117.20" y2="245.95" stroke="#000" stroke-width="1.6"/>
<text x="94.60" y="258.25" text-anchor="end" class="t">1.5</text>
<line x1="105.90" y1="138.60" x2="117.20" y2="138.60" stroke="#000" stroke-width="1.6"/>
<text x="94.60" y="150.90" text-anchor="end" class="t">2.0</text>
<line x1="105.90" y1="31.25" x2="117.20" y2="31.25" stroke="#000" stroke-width="1.6"/>
<text x="94.60" y="43.55" text-anchor="end" class="t">2.5</text>
<line x1="870.30" y1="410.60" x2="870.30" y2="422.10" stroke="#000" stroke-width="1.6"/>
<text x="870.30" y="458.60" text-anchor="middle" class="t">0.0</text>
<line x1="986.00" y1="410.60" x2="986.00" y2="422.10" stroke="#000" stroke-width="1.6"/>
<text x="986.00" y="458.60" text-anchor="middle" class="t">0.5</text>
<line x1="1101.70" y1="410.60" x2="1101.70" y2="422.10" stroke="#000" stroke-width="1.6"/>
<text x="1101.70" y="458.60" text-anchor="middle" class="t">1.0</text>
<line x1="1217.40" y1="410.60" x2="1217.40" y2="422.10" stroke="#000" stroke-width="1.6"/>
<text x="1217.40" y="458.60" text-anchor="middle" class="t">1.5</text>
<line x1="1333.10" y1="410.60" x2="1333.10" y2="422.10" stroke="#000" stroke-width="1.6"/>
<text x="1333.10" y="458.60" text-anchor="middle" class="t">2.0</text>
<line x1="1448.80" y1="410.60" x2="1448.80" y2="422.10" stroke="#000" stroke-width="1.6"/>
<text x="1448.80" y="458.60" text-anchor="middle" class="t">2.5</text>
<line x1="1564.50" y1="410.60" x2="1564.50" y2="422.10" stroke="#000" stroke-width="1.6"/>
<text x="1564.50" y="458.60" text-anchor="middle" class="t">3.0</text>
<line x1="106.10" y1="944.90" x2="117.40" y2="944.90" stroke="#000" stroke-width="1.6"/>
<text x="94.60" y="957.20" text-anchor="end" class="t">0.0</text>
<line x1="106.10" y1="836.03" x2="117.40" y2="836.03" stroke="#000" stroke-width="1.6"/>
<text x="94.60" y="848.33" text-anchor="end" class="t">1.0</text>
<line x1="106.10" y1="727.16" x2="117.40" y2="727.16" stroke="#000" stroke-width="1.6"/>
<text x="94.60" y="739.46" text-anchor="end" class="t">2.0</text>
<line x1="106.10" y1="618.29" x2="117.40" y2="618.29" stroke="#000" stroke-width="1.6"/>
<text x="94.60" y="630.59" text-anchor="end" class="t">3.0</text>
<line x1="139.50" y1="944.90" x2="139.50" y2="956.40" stroke="#000" stroke-width="1.6"/>
<text x="139.50" y="992.90" text-anchor="middle" class="t">3</text>
<line x1="328.07" y1="944.90" x2="328.07" y2="956.40" stroke="#000" stroke-width="1.6"/>
<text x="328.07" y="992.90" text-anchor="middle" class="t">4</text>
<line x1="516.64" y1="944.90" x2="516.64" y2="956.40" stroke="#000" stroke-width="1.6"/>
<text x="516.64" y="992.90" text-anchor="middle" class="t">5</text>
<line x1="705.21" y1="944.90" x2="705.21" y2="956.40" stroke="#000" stroke-width="1.6"/>
<text x="705.21" y="992.90" text-anchor="middle" class="t">6</text>
<line x1="1009.90" y1="944.80" x2="1009.90" y2="956.30" stroke="#000" stroke-width="1.6"/>
<text x="1009.90" y="992.80" text-anchor="middle" class="t">0.0</text>
<line x1="998.60" y1="944.80" x2="1009.90" y2="944.80" stroke="#000" stroke-width="1.6"/>
<text x="987.30" y="957.10" text-anchor="end" class="t">0.0</text>
<line x1="1145.03" y1="944.80" x2="1145.03" y2="956.30" stroke="#000" stroke-width="1.6"/>
<text x="1145.03" y="992.80" text-anchor="middle" class="t">0.5</text>
<line x1="998.60" y1="809.73" x2="1009.90" y2="809.73" stroke="#000" stroke-width="1.6"/>
<text x="987.30" y="822.03" text-anchor="end" class="t">0.5</text>
<line x1="1280.17" y1="944.80" x2="1280.17" y2="956.30" stroke="#000" stroke-width="1.6"/>
<text x="1280.17" y="992.80" text-anchor="middle" class="t">1.0</text>
<line x1="998.60" y1="674.67" x2="1009.90" y2="674.67" stroke="#000" stroke-width="1.6"/>
<text x="987.30" y="686.97" text-anchor="end" class="t">1.0</text>
<line x1="1415.30" y1="944.80" x2="1415.30" y2="956.30" stroke="#000" stroke-width="1.6"/>
<text x="1415.30" y="992.80" text-anchor="middle" class="t">1.5</text>
<line x1="998.60" y1="539.60" x2="1009.90" y2="539.60" stroke="#000" stroke-width="1.6"/>
<text x="987.30" y="551.90" text-anchor="end" class="t">1.5</text>
<line x1="1439.60" y1="904.28" x2="1450.90" y2="904.28" stroke="#000" stroke-width="1.6"/>
<text x="1462.10" y="916.58" class="t">-1</text>
<line x1="1439.60" y1="823.24" x2="1450.90" y2="823.24" stroke="#000" stroke-width="1.6"/>
<text x="1462.10" y="835.54" class="t">0</text>
<line x1="1439.60" y1="742.20" x2="1450.90" y2="742.20" stroke="#000" stroke-width="1.6"/>
<text x="1462.10" y="754.50" class="t">1</text>
<line x1="1439.60" y1="661.16" x2="1450.90" y2="661.16" stroke="#000" stroke-width="1.6"/>
<text x="1462.10" y="673.46" class="t">2</text>
<line x1="1439.60" y1="580.12" x2="1450.90" y2="580.12" stroke="#000" stroke-width="1.6"/>
<text x="1462.10" y="592.42" class="t">3</text>
<text x="1225.0" y="502.6" text-anchor="middle" class="l">Counts [x100]</text>
<text x="472.2" y="1036.6" text-anchor="middle" class="l">Re{ε}</text>
<text x="1212.6" y="1036.2" text-anchor="middle" class="l">X position [μm]</text>
<text transform="translate(29.7,210.5) rotate(-90)" text-anchor="middle" class="l">Im{ε}</text>
<text transform="translate(27.5,742.7) rotate(-90)" text-anchor="middle" class="l">Counts [x100]</text>
<text transform="translate(919.8,743.8) rotate(-90)" text-anchor="middle" class="l">Y position [μm]</text>
<text transform="translate(1521.5,741.8) rotate(-90)" text-anchor="middle" class="l">Label index</text>
<text x="130" y="42.1" class="p">(a)</text>
<text x="1553" y="42.1" text-anchor="end" class="p">(b)</text>
<text x="130" y="578.5" class="p">(c)</text>
<text x="1412.8" y="576.6" text-anchor="end" class="p">(d)</text>
</svg>
</body></html>
